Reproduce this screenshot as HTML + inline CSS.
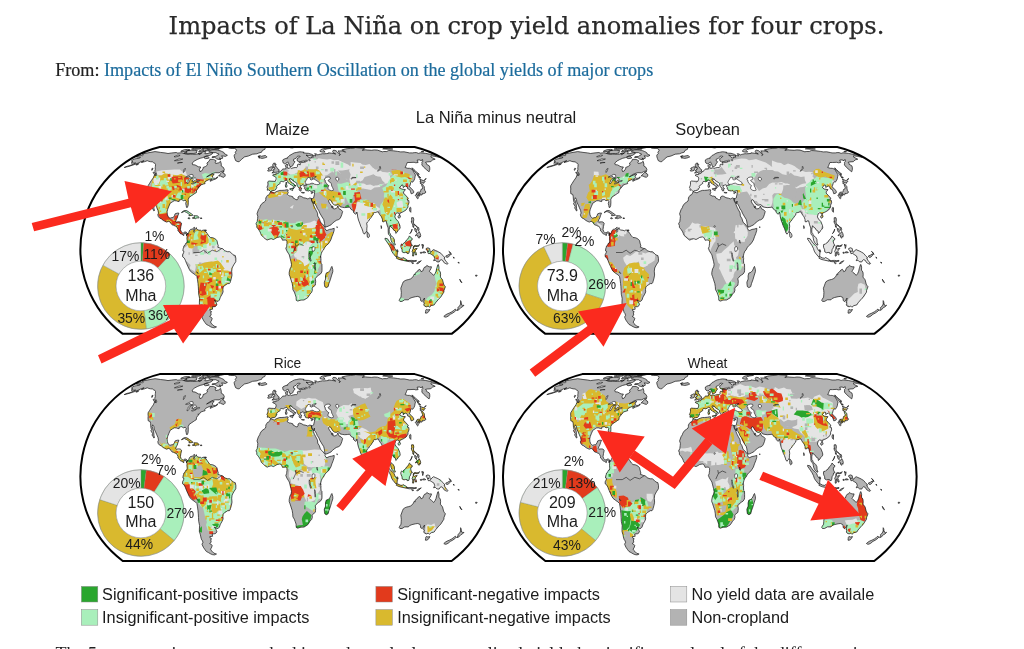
<!DOCTYPE html>
<html lang="en"><head><meta charset="utf-8"><title>Impacts of La Niña on crop yield anomalies for four crops.</title>
<style>html,body{margin:0;padding:0;background:#fff}
body{width:1024px;height:649px;overflow:hidden;position:relative;font-family:"Liberation Serif",serif;color:#222}
#ttl{position:absolute;left:168.6px;top:5.8px;-webkit-text-stroke:0.25px currentColor;font-family:"DejaVu Serif","Liberation Serif",serif;font-size:24.15px;line-height:40px;white-space:nowrap;color:#2a2a2a}
#from{position:absolute;left:55.2px;top:59.0px;font-size:18.13px;-webkit-text-stroke:0.2px currentColor;line-height:22px;white-space:nowrap;color:#222}
#from a{color:#1b6b9c;text-decoration:none}
#cap{position:absolute;left:55.5px;top:642.6px;font-size:18px;line-height:22px;white-space:nowrap;color:#222}
svg{position:absolute;left:0;top:0;display:block}
svg text{font-family:"Liberation Sans",sans-serif}</style></head><body>
<h1 id="ttl" style="margin:0;font-weight:normal">Impacts of La Niña on crop yield anomalies for four crops.</h1>
<div id="from">From: <a href="#">Impacts of El Niño Southern Oscillation on the global yields of major crops</a></div>
<svg width="1024" height="649" viewBox="0 0 1024 649"><defs><path id="land" d="M136.2,156.3L141.2,155.5L142.7,155.7L143.3,155.1L143.2,154.5L142.1,154.0L147.0,153.0L155.0,151.6L158.0,152.0L160.4,152.4L165.0,152.9L168.0,153.5L171.3,153.0L176.3,152.5L177.7,153.1L181.4,152.8L185.2,153.5L188.1,154.3L190.2,154.0L192.3,154.2L195.0,154.4L198.6,153.8L199.0,154.8L201.7,153.0L202.7,151.7L205.1,151.1L205.6,152.2L204.9,153.0L204.9,153.7L207.1,153.6L210.1,152.8L212.9,152.8L212.3,153.8L209.6,155.5L207.2,155.8L204.7,156.6L202.9,157.6L200.1,158.3L197.2,159.5L194.6,160.9L192.2,163.0L192.6,164.7L195.0,164.9L197.0,166.0L198.4,166.8L200.8,167.0L199.4,169.5L199.9,171.5L201.5,171.1L203.0,168.9L203.1,167.5L205.7,166.4L207.5,164.9L206.9,163.0L209.1,161.2L209.9,159.3L213.5,159.4L216.1,160.7L215.2,162.8L215.7,163.5L218.7,162.8L220.6,161.3L221.3,164.1L221.2,166.0L223.4,167.4L224.3,169.5L224.1,170.6L221.1,171.6L219.1,172.8L215.3,172.7L211.9,173.6L208.7,175.5L206.6,176.9L209.1,175.8L212.7,174.1L214.2,174.5L212.5,175.8L212.6,177.4L213.6,178.2L215.5,178.4L217.6,176.8L217.3,178.0L215.2,179.2L213.0,179.9L210.2,181.3L210.2,180.1L212.3,178.9L209.6,179.3L207.8,180.2L205.7,181.2L204.8,182.4L205.1,183.6L203.3,184.1L200.6,185.0L199.9,186.4L198.6,187.5L198.3,186.7L198.2,188.2L196.6,190.2L196.3,192.6L194.6,193.6L193.2,194.6L191.2,195.9L189.2,197.3L188.2,199.5L188.3,202.5L188.1,205.5L187.4,207.4L186.5,207.4L186.2,205.6L185.7,203.5L186.2,201.4L185.2,200.1L183.5,200.7L181.8,199.6L180.4,199.8L179.3,199.9L179.1,201.6L177.8,201.4L176.3,200.8L174.2,200.7L172.6,201.7L170.2,203.2L168.9,206.2L167.7,209.2L167.1,211.8L167.3,214.2L168.0,216.5L169.2,217.6L170.0,218.2L172.0,217.6L173.1,217.7L174.4,215.7L175.1,213.8L177.3,213.1L178.9,213.1L177.9,215.7L177.2,218.0L176.4,219.3L175.6,221.6L176.1,222.1L178.7,221.8L180.3,222.0L181.6,223.2L180.9,226.4L180.4,229.6L181.2,231.6L182.3,232.7L183.4,232.9L184.9,231.9L186.1,232.1L187.3,233.2L186.6,235.6L186.2,233.9L184.9,232.9L183.9,234.0L183.8,235.5L182.8,235.1L182.0,234.0L180.9,233.9L180.1,233.4L178.9,231.5L177.9,230.8L178.0,229.2L176.9,227.2L176.3,226.2L175.3,226.1L173.7,225.3L172.0,224.8L171.2,223.8L169.8,221.8L168.5,221.3L166.7,222.1L164.6,221.2L163.2,220.4L161.3,218.8L159.5,218.0L158.2,216.3L157.8,214.6L158.5,213.1L158.0,210.5L156.8,207.7L156.0,205.8L155.2,204.0L154.2,202.0L153.9,199.5L152.7,197.7L152.1,199.5L152.9,201.7L153.5,204.0L153.9,206.5L154.0,208.8L154.5,210.5L153.8,210.9L153.2,209.7L152.1,208.0L152.6,206.2L151.6,205.0L150.9,203.5L151.6,202.5L150.9,200.5L150.7,198.0L150.6,196.4L150.1,194.4L148.2,193.7L148.0,190.7L148.2,189.0L148.0,187.0L148.2,185.5L149.6,183.3L151.3,180.6L153.3,177.8L154.5,175.0L156.3,175.5L156.7,174.3L156.0,172.7L154.7,171.2L155.3,169.5L155.2,167.7L155.4,166.3L155.5,164.4L154.9,163.3L153.7,162.8L152.6,161.9L150.4,161.7L148.7,161.3L147.3,160.7L144.6,161.7L141.4,162.5L144.1,160.7L141.0,161.7L138.4,163.0L134.9,164.4L131.0,165.7L127.3,166.8L124.2,167.5L127.0,166.3L129.6,165.7L133.4,164.1L135.7,163.0L133.8,163.1L131.1,163.1L132.9,161.7L131.4,161.2L132.0,160.2L134.3,159.0L136.4,158.6L139.2,158.2L140.5,157.3L138.6,157.2L136.3,157.1ZM227.5,147.2L232.5,146.4L238.2,145.7L247.1,145.3L257.6,144.9L264.0,145.1L268.1,145.7L272.2,145.7L267.6,146.3L266.3,147.3L264.9,148.4L264.8,149.4L262.4,150.4L261.6,152.2L258.8,153.0L256.9,153.8L252.6,154.2L248.4,156.0L244.5,156.9L241.7,159.2L239.2,161.7L237.9,161.7L235.7,160.7L234.9,158.7L234.3,156.9L234.2,155.1L235.8,153.4L235.2,152.2L236.5,150.7L235.9,149.0L234.4,148.4L230.7,148.4L228.9,148.1L228.3,147.6ZM187.3,233.2L187.9,234.3L188.6,232.7L189.7,230.2L190.6,229.4L192.3,229.1L193.9,227.6L194.6,227.3L194.6,228.6L193.8,229.6L194.1,230.0L195.8,228.9L196.4,227.6L196.6,228.8L197.9,229.9L199.4,230.2L200.5,230.2L201.6,231.0L202.8,230.2L205.1,230.0L204.5,231.1L206.1,231.9L207.2,233.5L208.8,235.9L210.4,237.5L212.7,237.7L214.4,238.4L216.1,239.6L217.0,240.8L217.7,244.0L218.3,245.9L217.7,247.2L220.0,248.0L220.6,248.3L222.9,248.8L224.6,250.7L227.5,251.7L229.8,251.7L231.6,253.2L233.3,254.9L235.3,255.6L235.9,258.6L235.8,261.7L234.2,264.1L233.1,266.0L232.1,268.0L231.7,271.2L232.0,275.1L231.4,278.2L230.5,281.3L230.4,282.1L229.4,283.6L227.7,283.6L226.2,284.6L224.6,285.5L223.2,287.1L222.9,289.7L223.1,291.9L222.1,294.2L220.8,296.4L220.3,297.4L219.4,300.0L218.2,301.3L216.8,301.3L214.3,300.0L215.9,302.1L216.4,303.3L216.9,304.1L216.4,305.6L215.2,306.6L212.1,306.9L212.6,309.2L209.8,309.5L210.3,311.1L211.7,311.8L210.7,312.4L211.2,315.1L209.6,316.4L211.6,317.6L212.2,318.6L211.4,320.8L210.5,322.0L211.2,323.3L212.2,324.2L212.5,324.6L214.0,326.1L216.5,326.9L215.6,327.4L214.4,327.8L212.3,327.5L210.5,326.7L208.5,325.5L206.4,324.4L205.0,322.6L203.3,320.1L202.2,317.6L201.9,317.0L202.9,315.7L202.6,313.8L201.7,312.8L201.1,311.1L200.8,309.8L200.4,307.7L199.4,304.5L199.4,302.1L199.6,298.5L198.7,294.2L198.5,290.4L198.3,286.7L198.0,283.6L197.5,279.8L196.9,276.4L195.3,274.8L192.9,273.2L190.4,271.2L189.3,269.4L187.9,266.4L186.5,263.3L185.4,260.4L184.3,258.1L182.7,256.9L182.5,254.8L183.6,252.7L184.0,251.4L182.9,250.9L183.1,248.8L183.7,247.2L183.9,245.9L185.0,245.3L185.3,244.3L186.0,243.0L186.8,243.0L187.2,241.1L186.9,238.4L187.1,236.6L186.6,235.6ZM270.4,191.8L271.0,191.7L273.4,192.6L274.5,192.8L276.0,191.8L278.2,190.9L279.8,190.4L281.9,190.4L284.6,190.2L287.0,189.7L288.3,190.0L287.7,191.0L287.8,192.1L288.3,192.7L287.4,194.0L287.3,194.7L288.5,195.4L289.9,196.1L290.6,196.0L292.8,196.7L293.1,198.0L294.8,198.8L295.9,199.6L297.2,199.8L298.0,198.8L298.0,197.0L299.5,196.0L301.2,196.4L303.4,197.7L305.9,198.2L307.8,198.9L308.7,198.5L309.9,197.9L311.3,198.5L311.6,200.2L311.9,201.7L312.9,203.2L313.3,204.3L314.0,206.1L314.7,207.6L315.5,209.2L317.2,212.3L317.6,213.8L317.7,216.0L319.3,218.5L320.5,222.3L322.3,223.8L324.1,226.1L325.1,227.2L325.0,228.6L326.0,230.3L327.1,230.5L329.4,229.4L331.6,229.1L334.2,228.3L334.1,230.5L333.2,233.5L331.9,236.7L330.8,240.0L328.5,243.7L326.2,245.6L324.5,247.8L323.4,250.1L322.2,251.2L321.3,253.6L320.7,256.0L320.2,257.5L321.0,258.3L320.9,260.9L321.1,263.3L321.9,264.1L322.0,267.2L322.0,270.4L321.8,272.0L320.5,274.0L318.8,275.1L317.5,275.9L315.2,278.7L315.7,281.3L315.5,283.6L315.3,285.2L312.6,287.4L312.2,288.2L312.3,290.4L311.6,292.4L310.0,294.0L308.8,296.1L307.1,298.3L306.4,298.5L304.0,300.0L301.1,300.1L300.0,300.3L297.8,301.1L296.3,300.4L296.1,298.5L296.1,297.1L295.1,294.2L294.3,292.1L292.9,289.7L292.7,286.7L292.2,283.5L291.0,279.8L290.0,276.7L289.2,274.6L289.2,272.4L290.0,268.8L291.1,266.9L291.5,264.4L290.9,261.3L289.8,257.0L289.3,254.9L288.3,253.3L286.7,250.7L285.8,248.3L286.6,246.6L286.7,245.3L287.0,243.2L286.9,241.2L285.9,240.0L285.3,240.0L283.8,240.1L282.6,240.3L281.5,237.9L280.8,237.1L279.6,236.9L277.1,237.4L275.5,238.4L273.4,239.5L272.1,239.0L271.2,238.7L268.9,239.3L267.1,240.1L265.1,238.7L263.4,237.1L261.4,235.3L260.7,233.5L260.1,231.9L258.7,229.7L257.6,228.3L256.8,227.3L256.8,225.6L256.0,223.7L257.2,221.6L257.6,218.5L257.8,216.3L257.0,213.8L258.4,209.7L259.7,207.7L260.2,206.1L261.8,203.7L262.1,203.4L264.2,202.0L265.4,201.0L265.8,199.6L265.8,198.0L266.6,196.6L267.4,195.4L268.4,195.0L269.3,194.4L270.0,193.0ZM270.7,191.6L270.0,190.9L268.9,189.9L267.3,190.2L267.5,188.2L266.9,187.6L267.6,185.7L267.9,184.4L267.9,182.6L267.5,182.0L268.9,181.0L271.1,181.2L273.2,181.3L275.2,181.4L275.9,179.7L276.1,178.6L276.0,177.8L275.1,176.5L273.1,175.8L272.6,175.0L273.9,174.5L275.8,174.6L275.9,173.4L276.3,173.8L277.5,173.6L279.0,172.8L279.1,171.9L280.6,171.3L281.4,170.6L282.2,169.5L282.9,169.0L284.4,168.9L285.8,168.8L286.0,167.3L285.6,166.6L285.4,165.5L285.9,164.8L287.7,164.2L287.6,165.5L288.0,165.7L287.2,166.6L287.0,167.4L288.0,167.9L288.1,168.3L289.3,168.1L290.5,167.7L291.3,168.4L293.0,167.9L295.2,167.5L296.5,167.7L297.5,166.4L297.4,165.1L297.8,164.3L298.7,164.2L300.2,164.9L300.3,163.4L299.4,162.6L300.5,162.3L303.4,162.3L305.3,161.8L303.9,161.0L302.4,161.2L300.6,161.5L298.9,161.9L297.5,161.1L297.2,160.2L297.0,158.7L299.6,157.1L300.2,156.4L299.1,156.1L297.4,156.3L296.9,157.3L296.1,158.1L294.6,158.9L293.6,159.3L293.6,161.0L295.1,161.8L294.5,162.5L293.3,164.1L293.1,165.3L292.4,165.8L291.2,166.5L290.0,166.7L289.7,165.9L289.0,164.2L288.3,162.8L287.8,161.8L286.9,162.8L285.4,163.7L284.6,163.8L283.2,162.9L282.7,161.3L282.8,159.9L283.9,159.2L285.9,158.4L287.5,158.3L287.2,157.6L288.9,156.4L289.7,155.3L290.9,154.8L292.5,153.8L294.5,152.8L296.8,152.4L298.1,152.1L299.8,151.8L301.5,151.9L304.1,152.3L303.3,152.8L305.9,153.2L308.4,153.3L312.0,154.4L313.3,155.3L311.6,155.9L308.2,155.6L306.0,155.1L308.0,156.4L308.5,157.3L310.1,157.9L311.4,157.9L310.9,157.0L313.3,157.2L312.6,156.1L314.1,155.5L315.9,156.0L315.4,154.7L314.6,153.7L316.8,154.0L317.7,155.1L318.7,154.5L320.2,154.2L322.4,153.7L324.1,153.8L326.4,153.6L328.4,153.4L328.4,152.8L331.5,153.2L333.8,153.6L335.7,154.0L333.1,152.6L332.6,151.5L333.0,150.5L334.0,150.2L336.0,150.7L337.2,151.8L338.6,153.4L339.9,154.7L339.2,155.5L340.3,154.7L339.4,153.4L338.9,151.8L338.0,150.9L339.6,150.9L341.2,150.9L342.6,151.1L345.6,152.2L344.5,151.1L341.8,150.0L345.3,149.0L347.0,148.7L350.3,148.4L353.6,148.1L355.5,147.5L358.2,147.8L362.4,148.1L364.7,148.7L363.7,149.7L362.2,150.2L365.4,149.8L367.1,150.0L371.6,150.3L374.3,149.9L377.4,150.1L382.3,151.8L383.6,151.5L386.8,151.5L388.2,150.7L389.0,150.5L393.4,150.8L397.7,151.4L400.7,151.9L404.1,151.8L408.0,152.6L409.4,152.9L412.7,152.9L414.5,152.6L416.5,152.6L418.5,153.4L420.4,152.8L425.8,153.4L432.4,154.7L437.0,155.5L438.8,155.9L439.1,156.4L439.4,157.3L434.8,156.4L431.0,155.7L431.0,157.1L435.2,159.2L432.7,159.9L431.4,160.9L430.7,161.7L427.4,161.9L425.5,162.3L426.4,163.3L426.3,164.1L429.2,165.8L429.7,167.2L429.8,169.2L429.5,170.6L429.1,171.8L426.8,170.0L423.7,167.2L421.8,164.9L422.0,163.8L421.9,162.3L422.9,161.2L422.3,159.4L421.4,160.7L419.4,159.9L417.1,160.1L418.1,162.5L415.8,162.8L414.1,162.3L410.0,162.5L407.3,162.5L406.5,164.4L406.0,165.8L405.1,167.5L407.7,168.3L409.6,168.3L412.1,169.2L412.9,170.6L413.9,172.4L415.5,174.9L415.0,176.8L414.7,178.7L414.1,180.2L412.7,182.2L411.4,181.7L410.7,182.6L410.4,184.0L409.9,185.7L409.4,186.7L411.2,188.3L412.9,190.2L413.8,191.8L413.6,192.8L412.5,193.4L411.2,193.8L410.5,191.6L409.7,189.6L407.7,188.8L407.2,187.0L405.8,186.0L404.2,186.7L403.2,187.6L403.0,185.3L401.8,184.9L400.9,186.3L399.7,187.2L401.3,189.0L403.2,189.3L405.4,189.6L404.4,191.0L403.9,191.6L403.4,193.0L405.4,195.1L407.7,197.6L408.3,198.9L407.0,199.8L408.8,200.5L409.0,202.8L408.0,205.2L408.0,207.0L407.2,208.3L406.0,210.0L403.3,211.7L402.0,212.3L400.0,213.2L399.5,214.8L398.6,213.2L397.1,212.8L395.6,213.8L394.8,216.9L395.9,219.0L398.2,221.5L399.9,225.6L400.2,228.0L398.9,229.7L397.9,230.7L397.4,231.9L395.8,233.4L395.5,231.1L393.8,230.2L392.5,228.0L390.7,226.9L390.0,225.7L389.6,227.2L389.2,229.6L389.2,232.3L390.1,233.5L390.8,235.6L392.2,236.4L393.2,237.5L394.3,239.5L394.5,242.7L395.4,244.9L394.6,245.1L393.0,243.7L392.0,242.4L391.1,240.4L390.7,238.4L390.4,236.7L389.8,235.6L388.4,234.3L388.2,231.1L388.2,228.0L387.0,224.8L386.1,220.9L384.5,220.9L383.7,222.0L382.5,221.6L382.4,219.3L381.5,216.9L380.1,215.1L379.0,213.4L378.3,211.8L376.9,212.0L375.3,212.6L374.2,212.6L373.2,213.4L373.2,214.9L372.2,215.7L371.3,217.3L369.8,219.0L368.7,220.9L367.5,222.0L366.7,223.2L367.1,226.2L366.8,228.8L366.8,230.7L366.0,232.3L365.1,233.1L364.4,234.2L363.2,232.7L362.8,231.1L361.8,228.3L360.8,226.4L359.7,223.2L358.5,220.1L357.7,216.9L357.3,213.8L356.8,212.0L356.5,213.5L355.4,214.2L353.1,212.0L353.9,210.8L352.1,210.0L350.9,209.2L350.2,208.0L349.5,207.1L347.4,207.4L344.6,207.6L342.4,207.3L340.1,206.8L338.8,205.0L338.0,204.6L336.1,205.3L334.4,205.0L332.6,203.5L331.7,201.9L330.6,200.1L329.5,199.6L328.5,201.0L329.5,203.2L331.1,205.2L331.7,207.0L332.3,208.0L332.1,206.2L332.7,206.1L333.1,207.4L332.9,208.5L334.3,208.9L336.3,208.5L337.2,207.3L337.9,205.9L338.5,207.7L339.0,208.8L341.1,209.8L342.6,211.5L341.8,214.6L340.9,216.9L340.1,218.5L338.2,219.8L336.8,220.1L334.9,221.3L332.5,223.2L331.1,224.8L329.2,225.7L327.0,226.7L325.3,226.9L324.9,225.9L324.5,223.5L324.1,221.0L323.6,219.3L322.0,216.9L319.8,213.1L318.9,210.8L317.3,208.5L316.4,206.2L315.1,204.0L314.3,203.2L314.4,201.0L313.8,203.7L311.7,200.4L311.4,198.5L312.9,198.6L313.6,198.0L314.0,196.1L314.4,194.6L314.6,192.3L314.8,190.7L313.6,190.7L312.6,191.1L311.0,191.4L309.3,190.4L308.9,191.1L307.2,190.7L306.2,190.6L305.4,190.2L305.2,188.8L304.3,188.3L304.7,187.4L304.0,186.7L304.0,186.0L304.0,185.6L303.7,185.0L303.2,184.9L302.1,184.8L301.5,185.6L300.6,185.3L300.3,186.3L300.9,187.1L300.8,187.6L301.9,188.8L301.0,188.9L301.0,189.7L301.1,190.9L300.3,191.0L299.5,190.4L299.1,189.2L299.4,188.3L298.7,187.9L298.4,187.4L297.8,186.5L297.3,185.7L296.9,184.9L297.0,183.6L295.9,182.6L293.8,181.3L292.5,180.4L291.7,179.1L291.0,179.6L290.8,178.6L289.6,178.8L289.5,180.0L290.8,181.2L291.5,182.8L293.4,183.4L293.4,184.1L294.4,184.6L296.0,185.9L295.8,186.3L294.4,185.5L294.1,186.5L294.6,187.4L294.0,188.2L293.2,188.9L293.3,187.9L293.4,186.7L292.7,186.0L292.2,185.2L291.5,184.9L290.3,184.4L289.5,183.6L288.2,182.8L287.7,182.0L287.5,181.3L287.0,180.5L286.1,180.1L285.2,180.8L284.5,181.0L283.3,181.8L282.5,181.6L281.6,181.4L280.6,181.6L280.0,182.6L280.2,183.4L279.2,184.1L277.7,185.0L276.5,186.7L277.0,187.6L276.2,188.3L276.0,189.3L274.7,190.3L273.0,190.6L272.0,190.6L271.0,191.4ZM438.3,264.4L439.0,267.2L438.9,270.1L440.3,272.0L440.6,274.3L440.4,277.1L441.0,277.9L442.5,279.8L442.8,280.9L443.6,284.1L444.4,285.5L445.4,286.7L444.0,290.3L443.9,292.1L442.1,294.9L440.5,297.4L439.3,298.4L438.1,299.8L435.5,302.8L434.2,304.9L431.3,305.6L429.3,307.2L428.4,306.2L428.1,306.1L426.5,306.8L424.7,306.2L423.7,304.9L424.4,302.8L423.4,302.3L423.9,301.1L424.5,298.0L423.3,300.0L422.1,301.7L421.3,301.0L420.7,300.7L420.4,298.5L420.1,297.4L417.8,296.4L415.5,296.7L412.0,297.5L409.5,298.5L408.4,299.8L404.7,299.8L402.0,301.4L399.9,301.4L399.2,300.6L399.5,299.4L401.0,297.1L401.2,294.2L401.3,292.4L401.1,290.4L400.8,288.2L401.7,285.9L402.5,283.6L403.3,281.8L405.1,280.6L406.9,279.9L408.8,279.5L410.5,278.9L412.4,277.5L413.5,275.9L414.1,274.3L415.2,274.8L415.1,273.2L416.8,272.0L418.2,270.1L419.8,269.3L420.9,270.9L421.1,271.7L422.8,270.9L423.5,268.8L424.6,267.1L426.0,266.8L426.9,265.3L427.8,266.1L429.4,266.8L431.5,266.8L430.9,268.8L429.9,270.4L429.3,271.2L430.3,272.4L431.3,273.1L432.7,274.3L433.6,275.4L435.1,273.5L436.1,271.2L436.6,268.8L437.1,267.2L437.8,264.8ZM426.3,309.4L427.9,309.9L429.9,309.5L429.0,311.1L427.7,312.7L426.2,313.2L425.4,313.1L425.6,311.5L425.7,310.4ZM460.6,300.6L461.0,301.4L461.3,302.4L460.9,304.0L461.7,303.8L461.6,304.9L462.8,305.5L464.0,305.2L462.3,307.0L461.0,307.4L458.9,309.8L457.1,310.6L456.9,310.2L458.1,308.7L457.7,307.7L458.9,306.8L460.2,304.9L460.6,303.5L460.5,301.7ZM455.4,309.1L455.8,309.8L456.4,310.0L455.4,311.1L452.7,313.1L450.3,314.3L448.1,316.2L446.2,317.1L445.0,317.1L443.8,316.4L445.3,315.1L447.1,314.0L449.3,313.1L451.8,311.8L453.8,310.4L454.7,309.4ZM331.9,266.4L332.8,269.6L332.8,271.7L331.7,275.1L330.3,279.8L328.9,283.6L328.1,286.7L326.3,287.6L324.8,286.7L324.4,284.2L324.3,282.1L325.6,279.0L325.5,275.9L326.2,273.1L328.3,272.3L329.7,270.9L330.7,268.8L331.3,267.2ZM367.0,231.6L368.6,233.4L369.4,235.1L369.2,236.9L368.1,237.7L367.4,237.1L367.1,235.1L367.1,233.5ZM181.4,212.5L183.8,210.8L184.6,210.5L186.6,210.6L188.1,211.5L189.6,212.6L191.4,213.8L192.9,215.1L191.9,215.5L188.9,215.7L189.6,214.5L188.3,213.8L187.3,212.9L186.3,212.3L185.0,211.8L184.3,211.4L183.0,212.0L181.8,212.6ZM192.3,217.9L193.9,217.6L194.6,217.6L194.3,216.5L193.7,215.7L195.6,215.7L197.5,215.9L198.3,216.5L199.1,217.6L198.3,218.0L197.2,217.9L196.1,218.2L195.2,219.0L194.4,218.2L192.9,218.3ZM187.9,218.0L189.4,217.7L190.0,218.5L189.2,218.8L188.1,218.5ZM200.4,217.9L202.0,218.0L201.8,218.5L200.4,218.5ZM218.6,176.0L220.3,176.0L222.0,176.9L223.9,177.3L225.1,176.1L225.2,174.9L224.7,173.9L223.3,173.3L223.0,172.8L224.0,171.2L222.3,172.1L221.0,173.5L219.5,174.8ZM257.9,156.4L259.9,155.6L261.3,156.3L263.6,155.8L265.4,155.5L266.4,156.4L267.1,156.9L265.9,157.5L264.3,158.0L262.0,158.4L260.4,158.0L258.9,158.0L259.7,157.5L258.2,157.0L259.8,156.6ZM271.9,172.9L274.1,172.8L275.6,172.3L277.5,172.1L278.9,171.6L278.5,171.2L279.3,169.9L278.2,169.5L277.8,168.8L277.3,167.8L276.4,167.2L276.0,166.3L275.1,166.0L275.6,165.5L276.2,164.4L274.4,164.3L275.4,163.2L273.6,163.2L272.8,164.4L272.7,165.7L272.7,166.7L273.4,166.6L273.1,167.5L274.5,167.3L274.7,168.3L274.9,169.0L273.4,169.1L273.6,169.7L272.6,170.7L274.2,171.2L273.5,171.6ZM267.9,171.1L269.6,171.0L271.5,170.4L271.9,169.1L272.6,167.8L272.2,166.9L271.0,166.8L269.8,167.4L268.3,168.1L268.2,169.0L269.1,169.3L268.6,169.8L267.6,170.5ZM320.0,151.5L320.0,150.7L320.8,149.7L322.5,148.9L325.7,148.3L329.7,147.8L330.9,148.3L327.0,148.9L324.6,149.6L323.7,150.5L325.1,152.1L322.3,152.1ZM416.3,194.4L417.3,194.0L418.8,193.8L420.3,193.6L421.0,194.7L421.8,195.1L422.5,194.0L422.4,193.4L423.7,193.6L424.3,193.4L425.2,193.1L425.9,192.0L424.8,190.4L424.4,188.8L424.3,186.7L423.2,185.3L422.4,184.1L421.4,184.4L422.0,186.0L422.6,187.6L422.4,188.8L420.9,189.5L420.7,190.4L420.5,191.6L420.2,192.1L418.6,192.1L417.2,192.4L416.4,193.7ZM416.3,194.6L417.4,195.0L418.0,196.1L418.3,198.2L417.7,198.8L417.0,198.3L416.4,196.7L415.6,195.9L415.2,195.3L415.9,194.8ZM418.1,194.6L419.4,194.0L420.3,194.4L420.2,195.4L419.4,195.1L419.3,196.3L418.3,195.4ZM421.0,184.0L421.3,182.9L421.9,182.5L423.9,183.3L424.2,182.0L425.3,181.4L424.1,180.2L423.3,180.6L421.2,179.7L419.6,178.7L420.3,180.0L420.9,181.7L419.9,181.6L420.6,182.9L420.3,183.3ZM412.2,167.8L413.9,169.5L415.6,171.2L419.3,174.3L417.4,173.9L418.8,176.1L420.1,177.0L420.7,178.0L419.5,177.3L419.3,178.0L418.0,176.1L416.9,174.3L414.8,171.8L413.2,170.0L412.2,168.9ZM410.3,207.3L410.9,207.7L410.9,210.0L410.8,212.3L409.8,211.1L409.4,209.5L409.8,207.7ZM398.0,216.5L398.8,215.4L399.9,215.2L400.5,216.0L400.1,217.3L399.3,218.2L398.2,217.6ZM411.6,217.7L413.4,217.7L413.8,219.8L413.4,222.0L413.9,224.3L415.5,225.1L416.8,226.4L417.0,227.0L416.0,226.4L414.9,225.0L414.1,225.0L412.7,225.1L412.6,224.0L411.8,223.2L411.3,221.2L411.9,221.6L411.6,219.3ZM415.4,235.9L416.9,235.1L417.9,235.5L417.8,237.1L419.2,238.2L419.6,236.3L420.3,237.1L420.7,235.5L420.2,233.5L419.1,231.5L418.6,232.7L417.2,233.5L415.9,234.7ZM417.2,227.2L418.6,227.5L419.1,229.6L418.6,230.8L418.0,230.3L417.6,228.8ZM414.6,228.3L416.0,228.8L416.7,230.3L416.5,232.6L415.7,231.8L414.9,230.3ZM409.8,233.7L411.1,231.9L412.1,229.1L411.8,230.7L410.6,232.9ZM412.6,225.7L413.7,225.9L413.8,227.5L413.2,227.3ZM401.5,244.0L402.4,244.5L403.6,243.2L405.4,242.0L406.5,240.0L407.6,239.2L408.7,237.5L409.4,235.9L410.6,237.1L411.1,237.9L412.4,238.7L411.8,240.1L410.9,240.4L410.7,241.9L411.2,243.7L412.4,245.6L411.0,245.9L410.6,248.0L409.5,249.6L409.2,252.0L408.8,253.3L407.2,253.6L407.1,252.5L405.4,252.4L404.0,252.8L402.2,251.9L402.0,249.6L401.1,247.7L400.8,245.9L401.2,244.3ZM385.0,238.2L387.5,238.8L389.0,241.1L391.0,243.7L392.3,244.5L394.0,246.4L394.8,248.5L395.7,250.1L397.4,252.0L397.2,254.4L397.0,256.5L395.6,256.5L394.4,254.9L393.0,253.3L391.7,251.2L390.9,248.6L389.4,245.6L387.8,243.2L386.4,241.2L385.0,239.2ZM396.2,258.1L397.2,256.7L398.1,257.0L400.0,258.0L402.2,258.3L402.9,257.5L404.8,258.5L406.7,259.6L406.6,261.2L404.4,260.7L402.1,260.2L399.9,259.7L397.7,258.9ZM406.8,260.4L409.0,260.5L411.9,260.4L414.1,260.7L416.4,260.4L416.3,261.3L412.9,261.5L409.5,261.7L407.2,261.3ZM416.7,263.7L418.0,262.1L421.3,260.7L420.3,261.7L418.5,263.3L417.3,263.7ZM411.7,262.5L413.7,263.1L412.9,263.7L411.8,263.1ZM412.6,256.0L412.8,252.8L412.1,251.7L412.8,249.6L413.3,248.3L413.3,246.9L413.9,245.8L415.2,245.4L417.0,245.8L418.7,245.3L419.5,244.5L418.8,246.2L417.3,246.6L415.2,246.4L413.9,246.6L413.6,248.5L414.6,249.3L415.5,248.6L417.2,248.5L416.4,249.6L415.4,250.3L415.3,251.7L416.0,252.5L416.3,253.6L416.5,254.9L415.4,254.9L415.1,253.8L414.6,252.0L413.8,251.9L413.8,254.4L413.6,256.0L413.0,256.2ZM422.1,244.0L422.7,245.6L423.5,244.8L423.3,246.7L422.7,248.5L422.4,246.4L422.0,245.6ZM422.6,252.0L424.4,251.7L425.8,252.5L424.3,252.8L422.6,252.7ZM420.3,252.4L421.5,252.2L421.7,253.2L420.5,253.3ZM426.1,248.5L427.9,247.8L429.6,248.5L430.1,251.2L430.6,252.5L431.8,250.9L433.6,249.6L435.3,250.4L437.2,251.2L438.7,252.0L440.9,253.3L442.9,255.6L444.2,256.9L445.0,258.0L444.1,258.1L445.1,260.1L446.4,261.7L447.9,263.6L447.4,264.2L445.8,263.7L443.9,262.5L442.7,260.4L441.1,259.6L439.9,260.5L439.1,262.0L436.9,261.8L435.3,260.2L433.6,260.7L434.7,258.5L433.9,256.0L431.7,254.6L430.0,253.5L428.3,253.6L428.1,252.5L427.2,251.7L429.0,251.2L427.6,250.9L426.1,249.6ZM445.7,256.0L447.7,255.2L449.5,254.0L450.3,254.0L450.0,255.2L448.2,257.2L446.4,257.2ZM448.8,251.4L450.7,252.8L451.2,254.6L450.8,253.6L449.6,252.0ZM453.3,256.9L454.4,258.1L453.8,258.3ZM458.0,262.1L459.4,262.9L458.4,263.1ZM459.7,279.2L461.6,282.1L462.0,282.7L460.6,281.8ZM475.7,275.1L477.2,275.3L476.7,276.2L475.6,276.1ZM153.3,172.1L155.4,173.0L155.8,174.9L154.6,174.9L154.1,173.9L153.2,172.8ZM152.2,168.2L153.1,168.5L151.9,170.4L151.7,169.5ZM136.3,164.4L139.0,163.6L138.1,164.5L136.0,165.1ZM220.3,159.7L218.3,159.4L216.6,158.8L215.8,158.1L214.7,157.4L212.0,157.5L212.3,156.7L215.9,156.4L217.1,155.5L218.5,154.9L219.0,154.0L217.1,153.4L215.9,152.6L213.0,152.7L211.2,152.2L208.8,151.8L209.6,150.7L212.0,149.9L214.4,149.8L217.2,150.0L218.9,150.5L220.1,150.7L221.7,151.4L223.2,152.1L224.2,152.8L224.3,153.6L225.9,154.5L227.4,155.3L225.3,156.4L223.8,156.1L221.5,155.8L222.6,157.1L222.6,158.3L220.6,158.7L219.3,158.1L221.0,159.4ZM204.0,157.8L205.5,158.6L208.3,158.3L209.3,157.8L208.5,157.1L207.3,156.1L205.7,156.4L204.3,157.1ZM183.7,153.4L185.4,153.9L190.0,153.6L193.2,153.6L196.4,153.0L196.5,151.8L197.3,150.6L194.2,150.4L191.1,150.2L187.3,150.7L185.8,151.8L187.1,152.2L184.5,152.6ZM180.8,151.1L181.1,151.8L184.4,151.5L189.8,150.2L189.6,149.6L187.7,149.4L184.4,149.7ZM198.7,151.5L201.6,151.6L203.7,150.7L204.0,149.8L201.4,150.0L199.4,150.7ZM204.4,151.1L207.3,150.9L209.8,150.0L208.6,149.6L206.0,150.0ZM197.9,153.4L200.4,153.7L201.7,153.0L200.0,152.8ZM191.5,149.0L194.6,149.4L199.7,149.0L201.0,148.4L198.7,148.1L194.7,148.3ZM201.5,148.9L205.8,149.0L207.9,148.1L204.7,148.1ZM207.3,149.0L210.0,149.2L215.1,149.4L219.1,149.2L219.7,148.6L216.9,148.3L213.8,148.0L211.2,148.1L208.8,148.3ZM214.9,148.1L220.5,148.3L222.8,147.8L225.7,147.0L229.5,146.5L235.0,145.9L239.0,145.3L234.3,145.1L227.5,145.1L219.7,145.5L217.1,145.9L220.0,146.1L219.1,146.8L215.8,147.3ZM211.4,147.0L215.4,147.1L218.2,146.5L217.8,145.9L214.5,146.1ZM289.7,188.8L290.8,188.5L293.1,188.3L292.6,189.7L292.6,190.6L291.4,190.0L289.8,189.3ZM285.3,184.8L286.4,184.2L287.0,185.3L286.8,187.1L286.1,187.5L285.5,187.1L285.5,186.0ZM285.8,182.8L286.6,182.0L286.7,183.3L286.4,184.1L285.8,183.4ZM301.5,192.3L302.6,192.4L304.5,192.7L303.2,193.1L301.6,192.7ZM310.9,193.0L311.6,192.4L313.3,192.0L312.7,193.0L311.7,193.6ZM287.9,146.5L290.1,147.7L292.3,148.0L295.1,147.2L299.0,146.2L294.1,146.1L290.0,146.3ZM382.7,148.9L387.8,149.2L392.8,149.0L388.6,148.6L383.8,148.4ZM421.2,151.8L423.4,151.9L423.9,151.6L421.4,151.4ZM347.5,146.8L351.9,147.2L355.2,147.0L353.1,146.4L348.2,146.1ZM336.6,227.0L337.7,227.0L337.3,227.5ZM205.2,230.0L206.2,229.9L206.2,231.0L205.3,231.0ZM424.6,180.0L426.3,178.7L425.3,178.8ZM381.1,225.6L381.7,228.0L381.3,228.6ZM396.6,249.9L397.6,249.8L398.1,251.9L397.2,251.2ZM320.7,256.5L321.0,257.2L320.8,257.5Z"/><path id="lakes" d="M306.8,184.4L309.3,184.2L311.3,183.3L313.0,183.2L314.5,184.2L316.6,184.6L318.1,184.6L319.7,183.8L319.4,182.6L317.7,181.4L315.7,180.1L314.4,179.3L313.9,178.9L315.1,177.0L316.3,176.6L314.5,176.8L312.5,177.5L312.3,178.6L313.7,178.9L312.8,179.3L311.6,180.0L310.9,180.0L309.9,178.8L310.8,177.9L309.1,177.4L307.9,177.4L307.0,179.1L306.1,180.4L305.5,181.7L305.3,182.6L305.7,183.3L306.3,184.1ZM304.6,185.5L305.8,185.5L307.1,185.0L306.6,184.6L305.3,184.8ZM324.5,179.3L325.2,178.0L326.1,177.4L328.0,177.0L330.0,177.2L330.4,178.9L328.8,179.9L328.0,180.2L328.9,181.7L330.7,182.6L331.4,184.0L331.7,186.0L332.5,187.4L333.4,189.5L333.3,190.3L331.5,190.7L329.8,190.2L328.7,189.5L327.9,188.2L328.1,187.0L328.9,185.6L328.0,185.2L326.7,183.6L325.4,182.0L325.1,180.0L324.2,179.3ZM335.7,178.7L336.1,177.4L337.5,177.3L338.8,178.3L338.7,180.0L337.5,181.0L336.3,180.2ZM377.5,171.2L378.6,171.0L379.7,169.7L380.7,168.3L380.3,166.5L379.6,166.6L379.8,168.3L378.8,169.7L377.9,170.6ZM351.0,178.7L352.0,177.4L355.0,177.4L356.1,177.7L354.2,177.8L352.3,178.0L351.6,179.1ZM185.6,177.2L188.9,175.5L191.0,174.4L192.8,174.6L193.2,176.1L192.9,177.4L190.9,177.4L190.1,177.0L190.0,176.3L188.1,177.0L186.8,177.2ZM187.0,183.7L188.3,183.3L189.4,181.3L190.1,179.6L191.9,178.4L190.5,178.3L189.0,179.3L188.2,180.0L188.1,181.3L187.2,182.6ZM192.3,178.3L195.2,177.9L196.7,179.1L196.3,180.0L194.6,180.2L193.9,181.6L193.0,182.0L193.0,180.6L192.3,181.0L191.8,181.2L193.2,179.3L192.8,178.7ZM191.4,183.6L192.1,184.0L193.8,183.6L196.3,182.4L194.7,182.5L193.0,183.0L191.8,183.3ZM195.8,181.6L196.6,181.6L198.7,181.6L199.5,181.2L199.6,180.4L198.0,180.6L196.5,181.0ZM184.3,168.9L185.5,168.5L184.2,171.8L183.3,172.5L183.5,170.6ZM174.0,156.7L177.8,155.2L180.1,155.3L178.2,156.4L175.4,156.9ZM174.4,160.7L179.0,158.9L181.4,159.1L182.8,159.0L180.1,159.9L177.0,160.7ZM177.4,163.1L179.9,162.4L182.5,162.5L179.5,162.8ZM312.1,248.0L312.5,246.9L314.2,246.7L315.0,247.7L314.8,249.6L313.9,251.2L312.5,251.4L312.1,249.6ZM309.3,252.7L309.8,254.4L310.1,256.9L311.2,260.9L310.6,261.2L309.3,256.9L309.1,254.4ZM314.6,262.5L315.3,264.1L315.4,266.4L315.6,269.6L315.0,270.1L314.8,267.2L314.6,264.8ZM194.2,229.9L194.8,231.1L194.3,232.4L193.6,231.9L193.7,230.5ZM196.7,271.8L197.6,272.6L198.2,273.4L197.3,273.1ZM305.6,161.7L306.4,161.5L307.7,161.0L307.1,160.4L305.3,160.2L305.0,160.9ZM309.0,160.7L309.9,160.8L310.4,160.0L309.1,159.1L308.8,159.7ZM291.2,226.4L292.3,225.6L292.7,226.7L291.7,227.2ZM317.0,240.0L317.4,241.6L317.7,243.2L317.2,243.0L316.8,241.1Z"/><path id="frame" d="M159.75,147.0H414.65A103.35,105 0 0 1 451.65,333.85H122.75A103.35,105 0 0 1 159.75,147.0Z"/><clipPath id="fc"><use href="#frame"/></clipPath><clipPath id="lc"><use href="#land"/></clipPath></defs><g transform="translate(0,0)"><g clip-path="url(#fc)"><use href="#land" fill="#b3b3b3"/><g clip-path="url(#lc)"><path fill="#e4e4e4" d="M156.7,171.4L161.8,170.3L166.4,170.1L171.3,169.8L174.6,169.4L179.8,169.4L182.1,171.6L185.6,171.2L187.2,176.1L183.8,175.3L179.7,174.9L175.0,175.0L171.4,175.6L168.0,173.8L164.6,175.8L159.9,175.4L155.6,175.5Z"/><path fill="#d9b92e" d="M153.0,176.1L155.7,175.3L161.3,175.5L164.6,173.3L167.7,173.7L171.5,174.4L175.2,174.9L177.0,175.4L181.3,173.8L184.8,175.8L188.7,178.3L192.7,179.1L198.7,181.0L201.6,180.8L207.5,176.4L212.2,176.0L215.0,175.5L211.7,178.4L209.8,179.7L206.7,182.8L204.4,185.4L201.9,187.0L199.4,188.3L198.3,193.7L196.6,195.5L194.2,196.6L189.1,200.7L188.8,203.4L188.9,208.5L186.7,202.5L183.2,199.6L178.0,201.2L171.6,199.0L170.4,203.8L167.4,209.5L166.4,214.4L161.8,214.5L159.3,215.4L157.4,212.7L157.3,208.1L156.1,204.4L154.9,200.6L154.1,197.4L151.2,192.4L151.3,188.1L151.7,183.1L152.7,179.2Z"/><path fill="#e4e4e4" d="M153.7,178.1L160.3,177.5L160.0,181.1L158.1,184.8L154.6,185.2L153.3,180.9Z"/><path fill="#a9efbb" d="M160.6,180.3L163.4,180.3L166.7,180.0L168.7,185.4L164.4,185.6L161.8,186.7L159.2,184.7ZM158.3,200.0L162.0,201.4L165.0,197.9L166.5,202.5L166.4,204.6L165.4,207.8L166.3,212.2L160.0,213.7L159.2,209.9L157.6,207.7ZM177.6,193.2L181.6,192.4L181.4,199.3L175.6,197.6ZM201.8,174.6L205.0,173.1L209.3,173.8L214.9,171.5L217.0,175.6L213.6,179.0L207.1,178.3L203.4,178.4ZM188.9,175.2L192.1,175.6L195.3,179.0L190.8,179.3Z"/><path fill="#e23a1c" d="M170.8,176.4L172.2,176.4L178.6,176.3L182.1,176.1L182.8,179.4L180.0,182.6L177.1,182.9L172.8,183.6L170.2,178.9ZM183.9,177.3L188.8,177.5L188.6,181.3L184.6,184.5ZM171.6,186.1L176.7,187.2L176.6,184.8L180.6,186.3L182.4,190.0L178.8,190.5L175.6,188.8L172.9,190.6ZM182.0,188.5L186.1,187.4L189.5,187.8L192.9,187.5L194.6,193.9L190.1,192.2L188.1,193.2L184.4,192.3ZM196.5,178.8L203.8,179.8L201.6,185.1L202.0,188.7L200.0,191.5L194.7,190.8L195.7,187.3L197.0,184.4ZM158.1,214.2L162.8,214.0L167.5,213.0L170.1,218.6L173.9,220.4L174.6,215.8L179.7,215.0L179.3,219.8L181.5,224.0L183.3,227.9L181.3,231.6L183.9,235.6L182.3,235.9L179.5,233.9L177.9,229.4L175.1,226.8L172.9,224.6L169.4,222.6L166.4,223.3L164.5,220.8L160.8,219.6Z"/><path fill="#a9efbb" d="M181.0,210.6L185.4,210.3L188.7,210.9L192.0,211.1L195.3,211.0L199.2,210.9L198.6,214.4L199.6,220.4L195.7,220.1L192.9,219.2L187.2,219.9L184.9,220.3L180.8,218.7L180.5,215.3Z"/><path fill="#e4e4e4" d="M182.8,248.8L186.4,246.4L188.1,242.8L191.4,241.7L196.5,241.9L198.0,240.3L201.4,235.9L206.7,235.1L210.1,237.2L212.7,237.5L216.6,238.5L217.9,242.7L218.1,246.6L221.8,248.0L225.8,249.5L228.9,251.0L232.1,253.3L234.2,256.8L235.3,259.6L236.5,263.5L234.9,266.2L232.5,269.0L228.8,273.2L225.8,270.7L220.4,266.5L220.9,263.3L215.8,263.7L211.9,261.4L207.8,262.3L202.7,262.7L200.4,264.1L195.8,264.1L195.7,267.4L194.8,271.9L193.8,271.0L189.7,268.6L190.5,264.9L187.4,262.0L185.0,260.7L182.9,257.7L183.8,253.4Z"/><path fill="#d9b92e" d="M186.2,234.7L188.5,232.6L192.0,229.9L194.4,230.1L199.6,228.7L201.0,230.1L206.1,231.8L208.3,234.3L207.9,237.3L209.7,241.8L207.1,243.9L203.4,247.1L200.5,246.9L196.0,248.3L192.1,248.4L188.9,248.0L187.1,244.5L186.4,242.7L184.4,240.6ZM195.3,264.6L200.7,264.2L204.3,262.8L208.8,261.8L213.4,261.6L217.9,260.5L220.8,263.0L222.1,265.1L225.2,269.5L229.0,271.0L231.7,273.2L229.8,275.1L229.8,280.9L227.8,285.8L224.4,289.4L222.1,290.4L220.6,296.2L218.3,299.8L217.5,303.0L217.7,305.9L214.4,307.4L211.9,309.7L208.8,308.3L204.5,307.4L200.0,305.7L200.0,303.1L198.1,299.9L199.9,296.1L200.2,294.8L198.8,289.7L198.5,284.8L199.2,281.9L197.5,276.5L195.0,273.6L197.4,268.5ZM197.3,275.0L200.8,275.6L200.1,278.2L200.3,281.6L200.4,286.0L201.2,289.1L199.6,293.0L199.6,295.0L200.5,299.2L200.4,303.6L199.4,303.4L197.4,298.8L197.5,294.0L196.4,292.1L196.8,287.9L197.6,284.8L198.3,280.0L198.0,277.8Z"/><path fill="#b3b3b3" d="M194.2,246.2L198.7,246.3L199.8,252.4L192.6,254.3L192.4,249.6Z"/><path fill="#a9efbb" d="M194.9,231.7L198.7,230.7L197.8,235.5L198.7,239.3L193.4,240.3L193.8,236.1ZM221.5,277.7L226.4,275.2L230.5,275.6L229.8,279.0L230.8,281.8L226.3,283.1L222.8,285.3L221.4,282.1ZM206.3,269.7L210.6,268.6L212.4,267.7L214.1,273.5L209.1,275.4ZM198.0,266.2L202.5,265.7L204.1,269.0L199.6,273.0ZM217.4,292.7L220.6,292.3L220.1,296.7L219.7,301.0L215.7,300.0L216.6,295.7ZM209.4,235.7L212.7,237.1L217.4,239.1L217.1,243.4L215.1,245.7L209.6,245.0L208.4,241.7Z"/><path fill="#e23a1c" d="M187.2,234.0L189.2,233.3L189.6,239.2L187.9,239.2ZM201.1,233.4L203.4,235.6L206.9,234.8L205.8,239.0L206.0,242.2L200.4,244.3L201.1,240.6L200.4,237.7ZM191.4,242.2L198.0,243.5L195.5,244.8L191.2,244.5ZM200.6,282.4L207.0,283.3L205.1,290.4L206.9,294.3L200.7,296.3L198.8,291.9L199.3,288.7ZM207.3,297.5L210.8,295.2L213.2,294.2L215.3,297.6L215.7,301.4L217.4,303.2L215.5,307.4L212.9,309.3L209.6,307.0L207.7,304.7L207.3,300.2ZM207.8,278.8L212.2,279.8L212.3,281.9L207.7,283.9ZM210.2,285.0L213.8,285.7L214.3,288.1L211.7,288.4ZM196.8,275.4L200.2,275.6L197.9,279.6L197.1,278.1Z"/><path fill="#2aa62e" d="M227.2,276.8L229.8,278.9L231.3,280.6L226.4,282.2ZM209.3,272.2L211.4,273.1L212.6,274.8L209.2,274.9Z"/><path fill="#a9efbb" d="M256.3,219.4L259.9,219.7L262.6,220.0L267.0,219.0L269.5,221.3L272.5,219.6L275.9,220.7L279.3,220.4L281.8,220.6L284.9,221.0L288.9,225.0L292.1,223.5L297.5,222.9L299.4,221.8L302.0,224.8L302.1,228.2L301.6,229.4L298.2,233.9L295.6,236.4L292.5,234.5L289.3,233.0L286.3,235.9L281.2,238.7L278.9,239.0L274.4,241.2L271.9,240.2L266.7,238.0L264.3,239.1L263.0,235.5L258.6,231.0L257.1,228.8L256.1,224.5Z"/><path fill="#d9b92e" d="M263.7,230.1L266.6,228.3L271.3,223.1L276.6,222.7L279.8,224.3L282.3,223.5L286.2,220.8L287.7,227.6L288.9,230.7L287.5,231.7L284.7,236.3L282.2,238.7L277.5,238.5L272.9,239.6L270.5,240.7L268.9,237.5L265.1,234.3ZM284.9,224.3L289.3,226.5L291.4,227.6L295.3,227.4L300.0,229.6L303.8,229.2L308.5,228.7L312.5,229.2L316.1,230.1L315.5,234.3L315.6,237.9L316.0,241.3L311.3,241.2L305.7,241.7L303.0,244.3L297.7,246.2L297.2,248.6L293.3,253.2L289.8,250.9L287.5,246.9L286.0,241.8L286.2,239.7L287.7,234.6L286.3,232.3L286.8,226.3Z"/><path fill="#e4e4e4" d="M302.4,224.0L307.0,223.4L310.4,222.9L312.7,222.0L316.9,226.7L313.6,227.5L308.1,229.7L305.7,230.3ZM293.7,254.7L296.4,251.4L298.2,245.6L302.6,244.2L307.1,241.5L312.7,242.4L310.9,245.5L310.5,251.0L311.2,254.9L310.2,258.9L309.9,262.2L307.9,265.1L303.4,266.5L301.0,263.8L297.4,260.4L295.2,257.9Z"/><path fill="#a9efbb" d="M286.9,243.5L290.2,245.2L293.9,246.3L294.5,249.2L294.9,253.0L291.0,256.4L287.6,251.3L287.3,247.1ZM310.7,244.9L315.8,242.5L318.9,242.9L323.2,242.4L326.0,239.9L324.4,244.0L323.1,247.0L323.0,248.7L321.5,252.0L321.4,256.3L319.3,259.5L319.3,263.5L319.7,265.7L317.9,269.4L316.9,272.9L316.6,277.5L313.9,279.9L311.2,283.7L308.5,280.1L308.2,276.8L308.2,273.3L307.5,268.9L307.0,267.1L309.6,261.4L309.5,258.1L310.9,254.9L311.3,248.7L309.3,247.7Z"/><path fill="#d9b92e" d="M320.4,241.3L325.1,241.1L325.7,238.3L329.8,236.0L328.7,240.9L328.4,243.1L326.0,246.5L324.7,250.2L322.3,253.4L320.3,251.1L319.9,247.5ZM290.6,259.0L293.2,258.6L299.8,259.9L303.3,262.9L304.4,266.5L309.4,263.2L309.1,267.9L309.5,270.9L308.8,276.2L310.4,277.3L309.4,284.0L305.6,285.9L304.3,287.2L300.8,290.5L297.6,292.4L294.0,289.4L291.8,286.3L291.4,284.8L290.4,281.1L289.7,277.6L289.1,271.4L290.2,267.6L290.4,263.4L289.0,259.8Z"/><path fill="#a9efbb" d="M294.8,294.2L297.1,291.5L303.3,288.2L306.0,286.6L309.3,283.2L312.8,279.8L315.1,277.3L313.8,280.9L313.2,285.8L313.1,288.4L312.2,291.8L309.3,294.6L308.0,298.9L303.9,299.4L300.9,302.2L295.1,300.2L294.0,296.0Z"/><path fill="#d9b92e" d="M322.7,270.8L330.0,271.9L327.9,276.0L328.9,278.7L329.0,282.0L329.6,285.7L330.5,289.6L323.3,289.4L324.5,287.2L324.7,283.8L325.7,279.9L324.2,275.6Z"/><path fill="#e23a1c" d="M257.4,224.9L262.9,225.2L263.2,230.2L260.1,229.4ZM268.0,226.1L271.8,226.6L278.4,225.4L277.4,230.5L279.3,236.0L275.5,236.6L272.0,234.3L270.2,231.4ZM314.9,223.7L320.7,221.7L321.9,225.6L324.1,228.9L324.6,232.9L325.1,237.7L322.7,239.5L319.3,242.8L314.6,239.3L314.4,235.7L316.1,231.2L315.5,229.3ZM291.8,234.8L294.5,234.2L294.9,241.1L292.0,242.1ZM310.3,234.8L312.1,234.4L312.7,238.0L309.8,237.0ZM303.3,277.5L307.4,280.4L309.2,284.4L303.8,286.6L300.5,282.9ZM298.1,281.5L300.5,283.2L300.6,286.1L298.0,285.6Z"/><path fill="#2aa62e" d="M279.3,231.8L284.6,233.7L288.2,236.3L283.8,234.9ZM298.0,223.1L301.0,221.5L300.2,227.7L295.6,229.1ZM309.2,247.6L313.4,246.5L313.3,250.8L312.6,253.9L310.7,256.9L310.2,261.7L308.2,258.7L308.5,256.9L308.6,251.7ZM313.2,263.0L316.9,262.7L314.7,266.1L316.1,270.2L316.3,273.8L313.9,273.8L314.3,269.5L313.2,267.4ZM311.3,280.6L314.4,280.4L314.0,282.7L310.9,284.2Z"/><path fill="#e4e4e4" d="M284.3,171.1L286.0,170.5L290.5,167.5L292.9,167.8L295.0,165.2L298.0,165.1L301.3,163.3L305.7,162.4L307.2,161.0L311.2,158.6L316.9,159.4L318.7,158.2L322.3,158.9L327.2,159.5L330.4,159.0L333.8,160.2L338.2,160.0L341.9,161.7L343.5,162.5L348.1,164.6L350.1,166.2L354.9,166.4L356.7,165.3L360.9,164.4L365.8,164.9L369.5,164.1L372.8,167.8L375.3,169.4L377.9,169.8L381.6,171.7L386.0,172.4L389.3,173.9L390.5,178.1L391.6,182.3L388.8,182.7L385.6,183.8L380.9,185.0L380.1,187.0L374.5,187.5L371.0,190.1L367.1,189.3L362.9,188.6L359.1,188.9L356.2,185.2L353.1,181.1L350.9,180.5L346.4,179.3L343.7,175.1L340.9,173.5L337.6,171.2L334.7,172.3L330.6,172.5L327.4,175.1L323.5,176.0L320.9,173.1L316.2,169.6L313.1,169.5L308.8,169.5L305.4,170.3L301.1,170.4L295.2,173.5L293.2,174.7L290.5,174.7L287.3,172.5Z"/><path fill="#b3b3b3" d="M337.8,170.4L342.3,170.5L347.3,169.7L351.1,168.7L354.5,172.2L356.5,171.9L359.7,175.0L364.6,174.5L369.7,173.4L373.7,174.3L375.7,175.8L377.9,176.6L380.6,176.8L382.3,180.6L385.4,183.5L380.1,184.2L378.0,185.3L375.2,185.6L373.7,186.1L370.3,184.5L366.6,184.9L364.0,183.6L358.4,183.2L353.9,183.1L349.9,182.3L346.6,179.1L342.9,177.8L341.2,174.0Z"/><path fill="#a9efbb" d="M268.3,181.9L269.8,178.3L272.0,176.9L275.0,172.5L279.5,172.1L283.0,170.8L286.5,172.5L288.9,175.0L297.1,173.4L299.8,177.2L297.5,180.3L296.8,183.7L298.8,185.5L301.9,187.4L298.1,188.8L296.6,189.8L293.4,191.0L289.6,189.4L287.8,188.6L283.9,184.7L281.2,182.4L280.6,184.8L277.4,188.8L272.9,191.1L267.7,188.9L269.7,186.5Z"/><path fill="#d9b92e" d="M268.5,187.4L274.9,186.2L274.0,190.2L269.7,193.0ZM297.1,173.1L303.1,170.3L305.4,167.8L308.8,169.2L313.7,169.5L317.0,169.0L319.9,171.0L322.9,175.7L323.4,178.6L323.3,183.0L319.5,181.5L316.2,177.7L312.1,177.4L309.7,177.8L306.4,177.7L304.5,182.2L302.3,186.9L298.0,183.4L297.2,181.0L297.3,175.0Z"/><path fill="#a9efbb" d="M306.7,184.5L311.0,185.3L313.2,184.8L315.6,184.7L318.7,184.5L325.5,183.7L324.6,187.4L324.4,189.1L322.1,190.1L319.3,192.1L314.9,193.2L312.1,191.3L307.1,191.2L307.7,187.3Z"/><path fill="#d9b92e" d="M324.5,187.9L326.7,190.2L331.9,191.1L336.4,191.8L340.8,193.2L342.8,196.8L343.3,200.2L343.1,202.5L341.3,205.5L337.8,207.6L335.3,206.8L331.2,202.2L327.0,199.6L325.5,195.8L322.0,193.9ZM318.7,192.5L321.8,192.2L325.4,190.5L326.3,193.0L327.5,195.7L329.1,198.8L324.3,197.2L321.8,195.0Z"/><path fill="#a9efbb" d="M337.2,183.5L341.2,183.8L347.2,182.1L350.0,182.9L352.4,184.7L356.2,186.1L358.8,187.8L356.9,193.1L353.3,192.4L349.2,192.4L347.3,194.5L344.4,198.9L342.7,196.2L341.1,193.7L338.4,190.4ZM347.3,191.5L349.7,192.5L354.4,191.2L353.5,196.3L351.0,200.3L351.1,204.2L348.0,202.6L345.7,197.3Z"/><path fill="#e4e4e4" d="M351.7,205.1L353.6,204.5L358.0,202.1L362.7,202.4L366.0,200.3L367.4,202.0L371.1,203.1L374.1,203.1L376.5,206.2L380.7,209.0L377.9,211.1L375.0,214.2L373.7,215.0L370.4,219.6L371.5,223.9L369.1,227.8L368.5,229.6L365.8,234.0L364.8,235.1L362.5,232.6L362.1,229.7L359.6,227.2L359.6,224.7L358.1,221.3L355.7,217.0L357.7,214.7L355.2,211.4L352.8,208.4Z"/><path fill="#d9b92e" d="M364.0,199.0L366.1,202.7L370.4,202.0L373.2,205.2L372.7,207.2L367.2,206.2L364.8,205.3ZM367.3,213.1L373.0,213.1L371.8,216.7L367.0,219.6Z"/><path fill="#a9efbb" d="M358.7,199.1L361.2,200.1L365.9,199.6L369.2,200.5L365.7,204.4L360.1,202.4Z"/><path fill="#d9b92e" d="M349.4,183.4L353.2,183.1L357.3,182.0L356.8,184.9L353.7,185.0L348.7,185.6ZM320.8,203.6L326.7,204.0L325.9,208.0L321.8,208.6ZM311.4,199.0L314.7,198.2L316.8,203.2L315.2,208.9L313.6,209.3L312.9,204.9ZM267.8,194.8L273.4,192.4L277.1,192.0L281.7,191.6L283.6,191.7L288.0,192.0L288.4,193.6L285.0,194.1L281.3,195.0L277.7,196.6L274.1,197.3L268.5,198.3Z"/><path fill="#e4e4e4" d="M290.0,207.3L293.7,204.7L292.5,208.7L289.9,207.4ZM281.0,192.2L283.9,193.5L283.2,194.1L281.4,196.2Z"/><path fill="#e23a1c" d="M299.1,171.1L304.3,171.9L308.5,171.2L309.4,176.8L303.6,176.3L299.9,177.3ZM310.0,172.4L314.1,172.5L314.8,176.2L310.5,177.3ZM354.4,192.5L359.9,191.9L360.5,195.6L361.5,198.6L356.5,202.1L356.3,205.5L355.7,208.6L354.0,212.3L352.6,208.9L351.5,204.7L355.0,200.3L354.6,197.4Z"/><path fill="#2aa62e" d="M344.7,206.2L348.2,204.5L349.6,207.0L345.3,206.7ZM280.5,172.8L283.8,171.3L284.0,175.0L280.8,174.9ZM306.2,187.7L309.5,187.3L308.6,189.7L306.7,190.7Z"/><path fill="#a9efbb" d="M256.6,219.9L260.8,221.3L264.4,220.9L269.9,220.3L271.5,220.9L276.5,222.0L280.5,223.1L281.7,223.2L286.3,225.2L289.4,223.2L295.2,223.4L296.5,221.8L301.7,220.9L302.8,226.8L300.2,229.5L296.9,230.0L293.1,231.3L291.5,232.6L286.2,232.3L283.8,236.3L281.4,239.8L276.7,240.0L273.7,239.8L269.7,240.6L267.8,239.3L263.5,236.9L259.5,234.0L256.0,229.4L256.1,224.8Z"/><path fill="#d9b92e" d="M272.5,223.8L278.0,223.2L281.3,223.0L284.2,223.9L288.1,224.8L288.4,227.4L288.2,232.2L287.8,237.3L285.9,238.9L289.0,242.7L291.4,246.3L296.5,245.3L301.8,245.7L303.9,242.6L306.9,239.7L309.3,235.2L312.3,234.9L316.1,233.7L315.8,227.6L312.3,226.6L308.1,227.9L302.5,227.0L300.7,229.3L296.7,229.9L291.1,228.7L288.7,227.3L286.0,227.2L283.4,225.5L279.3,224.3L276.7,224.7Z"/><path fill="#e4e4e4" d="M302.3,224.7L306.6,223.0L310.1,222.6L314.3,220.6L318.3,222.7L318.3,225.8L315.4,227.3L311.9,228.3L307.4,228.3L302.6,227.9Z"/><path fill="#e23a1c" d="M257.0,225.6L260.8,224.5L262.9,229.1L258.1,231.0ZM269.1,228.0L272.7,227.0L277.6,226.5L278.6,228.6L279.9,232.5L276.9,238.3L273.2,235.4L270.9,232.0ZM261.2,222.3L267.2,222.8L268.6,223.8L261.3,222.9ZM316.1,224.1L318.4,218.5L321.4,224.5L323.0,225.6L324.8,231.5L326.6,235.0L324.9,236.4L322.0,240.6L318.4,239.3L315.4,236.3L315.2,233.3L315.3,229.0Z"/><path fill="#d9b92e" d="M324.3,240.2L326.2,237.9L327.4,234.6L331.7,231.8L333.6,232.4L333.4,232.8L331.4,237.5L330.5,240.2L329.9,241.6L328.6,246.2L324.9,246.0Z"/><path fill="#2aa62e" d="M295.2,224.8L298.4,223.0L303.3,223.3L301.6,226.6L297.5,226.8ZM280.8,234.9L284.7,237.3L284.4,238.2L280.9,236.5Z"/><path fill="#e4e4e4" d="M350.6,161.9L354.7,162.4L360.6,163.1L363.2,165.5L365.3,166.8L369.5,167.0L373.4,168.3L375.3,171.6L380.6,170.8L382.7,172.5L387.4,172.4L390.0,172.0L391.8,174.8L386.2,176.2L382.5,177.8L379.4,175.4L376.1,175.8L373.9,174.1L370.7,175.2L364.6,177.1L362.7,180.3L359.0,182.2L356.4,181.8L352.8,185.0L350.7,185.9L349.8,181.2L349.5,179.3L350.7,174.6L349.1,170.9L349.7,167.7L350.8,164.8Z"/><path fill="#a9efbb" d="M382.2,188.1L386.0,185.9L388.2,181.8L388.8,180.7L391.3,177.1L393.3,175.1L396.8,174.7L400.5,175.0L403.7,176.1L406.8,176.2L410.9,177.2L411.6,180.7L410.8,183.4L407.9,185.5L404.2,186.9L404.4,190.0L402.1,192.6L405.1,195.6L406.5,196.5L406.8,202.4L409.0,205.1L406.9,209.4L402.7,212.0L398.7,211.5L396.8,214.7L399.0,217.6L398.5,220.5L398.4,223.8L397.8,228.4L394.7,230.8L391.6,226.7L389.4,223.3L387.9,219.6L384.9,218.1L383.5,216.5L381.0,213.9L379.7,207.8L380.5,204.8L381.7,203.3L384.8,199.1L383.8,196.2L384.3,193.5Z"/><path fill="#d9b92e" d="M391.2,170.8L397.2,170.1L399.9,170.3L403.7,172.7L407.6,173.4L409.8,174.5L412.6,179.2L407.1,177.8L405.0,176.9L401.3,177.6L396.9,176.6L392.7,174.5ZM383.9,198.7L387.5,198.4L390.4,194.6L395.0,200.3L394.0,203.5L391.9,209.5L390.1,212.1L388.0,215.4L384.6,211.7L383.9,207.6L382.4,204.5L383.3,201.8Z"/><path fill="#e4e4e4" d="M396.5,202.5L401.0,200.6L402.5,201.2L403.2,207.3L397.5,207.3Z"/><path fill="#d9b92e" d="M362.6,200.4L365.9,201.0L370.1,202.9L373.4,204.1L373.7,207.4L368.3,206.0L364.4,205.4ZM368.0,212.9L373.6,212.6L371.4,217.4L368.1,218.1ZM383.3,214.4L384.4,213.9L387.2,218.9L387.6,222.0L382.8,221.1L383.5,219.4Z"/><path fill="#e23a1c" d="M392.8,169.6L396.2,169.8L396.9,169.4L390.9,170.1ZM407.2,177.6L412.6,177.3L410.4,179.3L409.0,178.9ZM391.4,225.0L396.5,222.7L397.9,230.6L392.5,231.0L391.3,229.2ZM386.1,200.0L388.8,199.6L389.4,203.4L387.7,201.7Z"/><path fill="#a9efbb" d="M379.4,214.4L382.9,213.9L386.8,215.3L391.1,215.5L393.8,215.1L397.6,213.5L397.2,218.7L399.6,222.4L399.7,227.3L401.1,232.0L396.9,233.8L394.4,229.7L389.7,228.8L388.0,222.9L382.8,220.4L382.9,217.9Z"/><path fill="#d9b92e" d="M380.9,214.5L385.2,213.9L387.6,221.1L382.6,222.0L380.1,219.4Z"/><path fill="#a9efbb" d="M389.3,228.3L391.2,229.2L392.1,232.3L393.3,234.3L392.6,238.1L394.5,241.9L391.8,242.7L390.7,240.4L389.4,235.1L389.1,232.5ZM382.9,237.3L388.5,236.1L391.9,236.7L394.9,236.5L399.3,236.8L401.9,240.0L399.8,243.5L402.6,244.8L404.0,248.4L405.8,254.7L406.6,256.1L407.6,257.8L408.9,261.9L406.0,262.2L399.8,260.9L398.2,261.4L393.3,261.2L392.9,258.1L391.3,256.2L390.7,252.9L387.9,249.8L388.7,246.7L387.3,243.4L385.1,240.1Z"/><path fill="#d9b92e" d="M393.0,250.5L398.5,251.0L399.1,255.9L399.1,259.7L397.2,259.2L395.3,255.7L393.7,252.5ZM396.7,257.5L403.0,259.6L405.8,259.4L407.7,262.0L402.5,260.0L397.8,261.5Z"/><path fill="#a9efbb" d="M399.6,237.0L404.9,236.9L406.7,236.4L412.2,235.2L412.4,235.3L414.7,239.2L414.1,242.1L413.9,245.6L414.3,248.1L413.3,251.8L413.9,256.0L409.4,255.9L405.5,254.3L401.6,254.4L401.9,249.2L400.8,246.4L400.0,243.6L398.0,239.0Z"/><path fill="#d9b92e" d="M411.7,244.7L417.0,246.1L417.6,248.6L418.1,252.6L417.5,256.6L412.4,257.6L413.2,253.2L411.7,250.1ZM425.3,247.6L429.0,249.5L434.4,251.4L435.3,253.2L439.4,257.3L432.8,258.6L432.0,257.7L430.0,254.0L426.6,251.5Z"/><path fill="#a9efbb" d="M434.5,252.1L438.3,252.3L438.3,256.2L433.9,256.0Z"/><path fill="#e4e4e4" d="M437.1,252.8L440.5,252.4L447.4,254.8L445.5,258.2L446.9,260.4L447.2,264.3L444.8,264.1L441.8,262.3L437.6,257.9L437.7,256.3Z"/><path fill="#a9efbb" d="M435.7,265.4L439.1,265.9L439.8,268.0L440.8,271.6L443.2,273.8L442.3,277.0L443.3,279.5L444.4,285.4L446.1,288.8L444.3,291.8L441.3,295.0L441.7,299.4L437.6,301.0L437.4,302.0L435.2,307.2L429.5,308.7L425.6,309.2L425.3,306.4L424.2,302.2L427.6,297.6L431.7,294.7L434.4,291.2L435.2,286.7L436.6,283.6L435.5,280.3L434.8,276.5L434.5,273.7L434.8,270.3Z"/><path fill="#d9b92e" d="M437.9,280.4L442.1,278.6L443.5,283.7L446.1,288.2L444.2,291.2L442.5,295.1L436.8,291.5L436.8,287.9L436.8,283.4ZM424.8,299.8L429.7,301.5L432.9,300.6L433.4,305.2L429.5,307.0L426.3,308.9L424.2,304.9Z"/><path fill="#a9efbb" d="M399.2,296.9L404.7,298.7L402.1,301.9L399.1,301.1ZM412.9,272.5L417.9,272.4L420.7,271.6L419.7,274.1L414.2,276.2Z"/><path fill="#e4e4e4" d="M364.9,229.9L370.8,230.8L370.7,236.3L370.1,240.2L364.3,238.9L365.2,235.5Z"/><path fill="#e23a1c" d="M392.1,224.4L398.0,223.6L397.5,226.7L398.4,230.8L393.8,231.8L393.5,228.5ZM389.3,243.5L393.8,243.9L394.8,250.6L389.8,250.6L389.8,246.1ZM399.4,259.2L403.5,258.3L402.2,261.5L398.5,260.4ZM404.6,243.0L407.7,241.0L410.4,239.9L412.0,246.7L406.2,246.1ZM425.5,249.1L428.7,249.7L431.1,253.6L427.5,251.5ZM437.5,255.1L438.8,256.7L438.5,259.5L435.7,258.7ZM438.3,286.9L443.4,288.0L444.2,291.8L440.0,290.9Z"/><path fill="#e4e4e4" d="M170.3,200.2h2.6v1.3h-2.6zM202.8,185.9h2.6v2.6h-2.6zM204.1,179.4h1.3v1.3h-1.3zM157.3,185.9h3.9v1.3h-3.9zM166.4,209.3h1.3v1.3h-1.3zM161.2,196.3h1.3v1.3h-1.3zM158.6,185.9h2.6v3.9h-2.6zM170.3,174.2h2.6v2.6h-2.6zM167.7,176.8h3.9v2.6h-3.9zM182.0,188.5h2.6v2.6h-2.6zM191.1,184.6h2.6v2.6h-2.6zM166.4,196.3h1.3v3.9h-1.3zM165.1,197.6h2.6v2.6h-2.6zM171.6,195.0h2.6v2.6h-2.6zM166.4,180.7h2.6v1.3h-2.6zM159.9,201.5h1.3v1.3h-1.3zM214.5,178.1h3.9v2.6h-3.9zM210.6,175.5h2.6v2.6h-2.6zM192.4,178.1h3.9v2.6h-3.9zM180.7,218.4h1.3v2.6h-1.3zM195.0,211.9h2.6v2.6h-2.6zM191.1,239.2h1.3v1.3h-1.3zM193.7,244.4h1.3v1.3h-1.3zM205.4,244.4h3.9v3.9h-3.9zM204.1,244.4h2.6v3.9h-2.6zM205.4,232.7h2.6v1.3h-2.6zM200.2,305.5h1.3v2.6h-1.3zM218.4,269.1h2.6v1.3h-2.6zM219.7,271.7h1.3v2.6h-1.3zM221.0,275.6h1.3v1.3h-1.3zM222.3,273.0h1.3v3.9h-1.3zM217.1,286.0h3.9v2.6h-3.9zM213.2,276.9h2.6v2.6h-2.6zM204.1,305.5h2.6v1.3h-2.6zM223.6,269.1h3.9v1.3h-3.9zM206.7,305.5h2.6v3.9h-2.6zM224.9,280.8h3.9v1.3h-3.9zM228.8,282.1h1.3v2.6h-1.3zM218.4,300.3h3.9v1.3h-3.9zM274.3,240.5h2.6v1.3h-2.6zM273.0,219.7h1.3v2.6h-1.3zM265.2,221.0h3.9v1.3h-3.9zM271.7,221.0h2.6v2.6h-2.6zM260.0,219.7h2.6v2.6h-2.6zM301.6,228.8h2.6v1.3h-2.6zM283.4,223.6h1.3v2.6h-1.3zM284.7,223.6h1.3v2.6h-1.3zM286.0,222.3h2.6v2.6h-2.6zM310.7,237.9h1.3v2.6h-1.3zM295.1,248.3h3.9v2.6h-3.9zM309.4,265.2h2.6v3.9h-2.6zM312.0,263.9h2.6v1.3h-2.6zM313.3,269.1h1.3v1.3h-1.3zM321.1,248.3h2.6v3.9h-2.6zM321.1,241.8h1.3v3.9h-1.3zM309.4,276.9h2.6v3.9h-2.6zM291.2,278.2h2.6v3.9h-2.6zM304.2,296.4h2.6v1.3h-2.6zM297.7,295.1h1.3v3.9h-1.3zM309.4,293.8h1.3v1.3h-1.3zM325.0,276.9h2.6v3.9h-2.6zM292.5,187.2h3.9v1.3h-3.9zM292.5,179.4h2.6v1.3h-2.6zM291.2,179.4h1.3v1.3h-1.3zM275.6,178.1h1.3v3.9h-1.3zM315.9,171.6h1.3v2.6h-1.3zM321.1,175.5h3.9v3.9h-3.9zM322.4,182.0h1.3v3.9h-1.3zM304.2,182.0h1.3v2.6h-1.3zM313.3,184.6h3.9v3.9h-3.9zM323.7,191.1h2.6v3.9h-2.6zM332.8,201.5h3.9v2.6h-3.9zM340.6,198.9h3.9v3.9h-3.9zM345.8,185.9h2.6v3.9h-2.6zM348.4,188.5h3.9v1.3h-3.9zM370.5,217.1h3.9v1.3h-3.9zM362.7,202.8h2.6v1.3h-2.6zM275.6,192.4h2.6v1.3h-2.6zM287.3,192.4h3.9v3.9h-3.9zM278.2,195.0h2.6v1.3h-2.6zM267.8,228.8h3.9v2.6h-3.9zM263.9,235.3h2.6v3.9h-2.6zM256.1,230.1h2.6v2.6h-2.6zM302.9,232.7h2.6v2.6h-2.6zM299.0,244.4h1.3v1.3h-1.3zM288.6,243.1h3.9v2.6h-3.9zM325.0,240.5h2.6v2.6h-2.6zM399.1,191.1h1.3v1.3h-1.3zM396.5,192.4h1.3v3.9h-1.3zM395.2,179.4h1.3v1.3h-1.3zM391.3,191.1h3.9v1.3h-3.9zM400.4,195.0h1.3v3.9h-1.3zM404.3,206.7h1.3v2.6h-1.3zM405.6,200.2h1.3v1.3h-1.3zM393.9,174.2h3.9v1.3h-3.9zM393.9,205.4h1.3v1.3h-1.3zM386.1,211.9h1.3v1.3h-1.3zM370.5,213.2h1.3v1.3h-1.3zM395.2,215.8h1.3v2.6h-1.3zM391.3,235.3h3.9v2.6h-3.9zM391.3,234.0h3.9v2.6h-3.9zM388.7,248.3h1.3v1.3h-1.3zM396.5,247.0h3.9v2.6h-3.9zM405.6,253.5h1.3v3.9h-1.3zM412.1,256.1h1.3v2.6h-1.3zM440.7,273.0h1.3v1.3h-1.3zM430.3,296.4h3.9v3.9h-3.9zM436.8,297.7h2.6v1.3h-2.6z"/><path fill="#d9b92e" d="M162.5,171.6h2.6v1.3h-2.6zM162.5,184.6h2.6v1.3h-2.6zM158.6,206.7h1.3v2.6h-1.3zM159.9,210.6h1.3v1.3h-1.3zM162.5,204.1h2.6v3.9h-2.6zM210.6,174.2h3.9v2.6h-3.9zM174.2,178.1h1.3v1.3h-1.3zM178.1,176.8h2.6v1.3h-2.6zM178.1,179.4h3.9v2.6h-3.9zM176.8,187.2h2.6v2.6h-2.6zM191.1,189.8h1.3v2.6h-1.3zM196.3,187.2h1.3v2.6h-1.3zM198.9,180.7h3.9v2.6h-3.9zM175.5,223.6h1.3v2.6h-1.3zM172.9,219.7h3.9v1.3h-3.9zM166.4,219.7h3.9v3.9h-3.9zM175.5,226.2h2.6v2.6h-2.6zM169.0,221.0h2.6v2.6h-2.6zM180.7,227.5h2.6v1.3h-2.6zM184.6,211.9h1.3v1.3h-1.3zM191.1,217.1h2.6v2.6h-2.6zM189.8,214.5h1.3v2.6h-1.3zM196.3,211.9h1.3v2.6h-1.3zM222.3,256.1h1.3v1.3h-1.3zM214.5,249.6h1.3v1.3h-1.3zM226.2,260.0h2.6v2.6h-2.6zM231.4,267.8h2.6v2.6h-2.6zM197.6,234.0h1.3v2.6h-1.3zM227.5,275.6h3.9v2.6h-3.9zM211.9,273.0h2.6v1.3h-2.6zM200.2,266.5h1.3v2.6h-1.3zM210.6,237.9h1.3v1.3h-1.3zM211.9,237.9h2.6v3.9h-2.6zM209.3,243.1h1.3v2.6h-1.3zM200.2,239.2h1.3v1.3h-1.3zM201.5,240.5h2.6v1.3h-2.6zM200.2,291.2h1.3v2.6h-1.3zM200.2,295.1h1.3v2.6h-1.3zM210.6,306.8h2.6v2.6h-2.6zM210.6,282.1h1.3v2.6h-1.3zM213.2,287.3h3.9v3.9h-3.9zM275.6,240.5h1.3v2.6h-1.3zM283.4,222.3h1.3v2.6h-1.3zM261.3,219.7h1.3v2.6h-1.3zM258.7,219.7h2.6v3.9h-2.6zM274.3,240.5h3.9v1.3h-3.9zM275.6,222.3h3.9v1.3h-3.9zM273.0,240.5h1.3v2.6h-1.3zM279.5,222.3h1.3v1.3h-1.3zM271.7,219.7h1.3v2.6h-1.3zM286.0,234.0h2.6v3.9h-2.6zM274.3,221.0h2.6v2.6h-2.6zM287.3,224.9h2.6v1.3h-2.6zM266.5,219.7h1.3v2.6h-1.3zM263.9,221.0h2.6v3.9h-2.6zM278.2,221.0h1.3v1.3h-1.3zM263.9,237.9h1.3v2.6h-1.3zM284.7,222.3h1.3v2.6h-1.3zM302.9,224.9h3.9v2.6h-3.9zM288.6,245.7h1.3v2.6h-1.3zM293.8,248.3h2.6v3.9h-2.6zM317.2,244.4h1.3v2.6h-1.3zM318.5,261.3h2.6v2.6h-2.6zM318.5,257.4h1.3v2.6h-1.3zM314.6,270.4h2.6v2.6h-2.6zM318.5,256.1h1.3v1.3h-1.3zM315.9,258.7h2.6v1.3h-2.6zM317.2,258.7h1.3v3.9h-1.3zM314.6,247.0h3.9v1.3h-3.9zM312.0,275.6h1.3v2.6h-1.3zM312.0,265.2h1.3v1.3h-1.3zM313.3,248.3h1.3v2.6h-1.3zM313.3,248.3h1.3v2.6h-1.3zM317.2,252.2h1.3v1.3h-1.3zM312.0,291.2h2.6v1.3h-2.6zM306.8,295.1h2.6v1.3h-2.6zM312.0,284.7h2.6v2.6h-2.6zM299.0,300.3h3.9v2.6h-3.9zM301.6,289.9h2.6v1.3h-2.6zM306.8,289.9h3.9v3.9h-3.9zM315.9,237.9h1.3v2.6h-1.3zM325.0,237.9h2.6v2.6h-2.6zM317.2,239.2h2.6v2.6h-2.6zM319.8,241.8h1.3v1.3h-1.3zM308.1,284.7h1.3v1.3h-1.3zM302.9,280.8h1.3v1.3h-1.3zM364.0,166.4h1.3v1.3h-1.3zM297.7,170.3h2.6v2.6h-2.6zM323.7,163.8h1.3v1.3h-1.3zM322.4,162.5h1.3v2.6h-1.3zM283.4,176.8h2.6v2.6h-2.6zM289.9,182.0h2.6v1.3h-2.6zM288.6,178.1h1.3v3.9h-1.3zM286.0,172.9h1.3v1.3h-1.3zM275.6,174.2h1.3v1.3h-1.3zM278.2,175.5h2.6v2.6h-2.6zM293.8,175.5h3.9v2.6h-3.9zM273.0,183.3h2.6v3.9h-2.6zM273.0,184.6h1.3v3.9h-1.3zM357.5,187.2h3.9v2.6h-3.9zM356.2,188.5h1.3v2.6h-1.3zM340.6,187.2h2.6v2.6h-2.6zM341.9,188.5h2.6v1.3h-2.6zM373.1,204.1h2.6v3.9h-2.6zM371.8,208.0h1.3v1.3h-1.3zM370.5,222.3h1.3v1.3h-1.3zM371.8,211.9h2.6v2.6h-2.6zM365.3,200.2h3.9v1.3h-3.9zM305.5,172.9h2.6v1.3h-2.6zM353.6,202.8h2.6v1.3h-2.6zM357.5,200.2h2.6v1.3h-2.6zM356.2,193.7h3.9v3.9h-3.9zM276.9,226.2h2.6v1.3h-2.6zM260.0,223.6h1.3v2.6h-1.3zM289.9,224.9h2.6v1.3h-2.6zM280.8,237.9h1.3v2.6h-1.3zM282.1,230.1h1.3v3.9h-1.3zM267.8,239.2h2.6v2.6h-2.6zM262.6,227.5h1.3v1.3h-1.3zM261.3,234.0h1.3v2.6h-1.3zM282.1,223.6h1.3v2.6h-1.3zM287.3,230.1h2.6v3.9h-2.6zM300.3,222.3h1.3v2.6h-1.3zM267.8,222.3h3.9v2.6h-3.9zM265.2,223.6h3.9v2.6h-3.9zM257.4,223.6h1.3v3.9h-1.3zM283.4,224.9h2.6v2.6h-2.6zM263.9,224.9h2.6v1.3h-2.6zM274.3,235.3h2.6v2.6h-2.6zM319.8,226.2h1.3v1.3h-1.3zM319.8,231.4h2.6v2.6h-2.6zM301.6,226.2h2.6v2.6h-2.6zM352.3,163.8h1.3v2.6h-1.3zM360.1,171.6h2.6v1.3h-2.6zM391.3,178.1h2.6v3.9h-2.6zM404.3,185.9h2.6v1.3h-2.6zM384.8,197.6h2.6v3.9h-2.6zM395.2,193.7h2.6v2.6h-2.6zM387.4,193.7h1.3v3.9h-1.3zM391.3,213.2h1.3v3.9h-1.3zM405.6,202.8h2.6v1.3h-2.6zM409.5,179.4h1.3v2.6h-1.3zM399.1,193.7h3.9v2.6h-3.9zM400.4,197.6h2.6v1.3h-2.6zM403.0,179.4h3.9v2.6h-3.9zM386.1,187.2h3.9v2.6h-3.9zM401.7,185.9h1.3v2.6h-1.3zM396.5,208.0h1.3v3.9h-1.3zM383.5,191.1h2.6v1.3h-2.6zM406.9,196.3h2.6v3.9h-2.6zM406.9,202.8h3.9v2.6h-3.9zM390.0,187.2h3.9v2.6h-3.9zM408.2,204.1h1.3v1.3h-1.3zM403.0,180.7h2.6v1.3h-2.6zM388.7,185.9h3.9v1.3h-3.9zM397.8,208.0h3.9v3.9h-3.9zM400.4,192.4h1.3v1.3h-1.3zM386.1,188.5h2.6v3.9h-2.6zM397.8,209.3h3.9v2.6h-3.9zM390.0,214.5h1.3v2.6h-1.3zM390.0,179.4h1.3v3.9h-1.3zM391.3,179.4h3.9v1.3h-3.9zM395.2,191.1h3.9v2.6h-3.9zM403.0,206.7h2.6v1.3h-2.6zM410.8,178.1h1.3v1.3h-1.3zM393.9,230.1h1.3v1.3h-1.3zM392.6,230.1h2.6v1.3h-2.6zM393.9,228.8h2.6v2.6h-2.6zM399.1,230.1h3.9v1.3h-3.9zM386.1,217.1h2.6v1.3h-2.6zM396.5,223.6h1.3v1.3h-1.3zM391.3,228.8h2.6v3.9h-2.6zM388.7,245.7h2.6v3.9h-2.6zM388.7,244.4h1.3v2.6h-1.3zM391.3,237.9h1.3v1.3h-1.3zM403.0,254.8h2.6v2.6h-2.6zM406.9,258.7h2.6v1.3h-2.6zM391.3,253.5h1.3v1.3h-1.3zM403.0,261.3h3.9v1.3h-3.9zM396.5,240.5h2.6v2.6h-2.6zM392.6,239.2h2.6v2.6h-2.6zM393.9,254.8h2.6v1.3h-2.6zM387.4,243.1h2.6v2.6h-2.6zM388.7,245.7h1.3v1.3h-1.3zM399.1,236.6h1.3v1.3h-1.3zM405.6,250.9h3.9v1.3h-3.9zM410.8,241.8h2.6v1.3h-2.6zM401.7,247.0h1.3v2.6h-1.3zM404.3,239.2h1.3v1.3h-1.3zM405.6,236.6h1.3v2.6h-1.3zM405.6,250.9h2.6v2.6h-2.6zM435.5,254.8h2.6v2.6h-2.6zM442.0,261.3h1.3v2.6h-1.3zM438.1,300.3h1.3v3.9h-1.3zM435.5,287.3h1.3v1.3h-1.3zM439.4,300.3h2.6v1.3h-2.6zM436.8,269.1h2.6v1.3h-2.6zM436.8,271.7h1.3v2.6h-1.3zM439.4,274.3h1.3v1.3h-1.3zM435.5,293.8h2.6v2.6h-2.6zM436.8,296.4h2.6v1.3h-2.6zM442.0,278.2h1.3v1.3h-1.3zM396.5,228.8h1.3v2.6h-1.3zM393.9,248.3h1.3v1.3h-1.3zM410.8,240.5h1.3v1.3h-1.3z"/><path fill="#a9efbb" d="M169.0,172.9h1.3v1.3h-1.3zM180.7,182.0h1.3v3.9h-1.3zM174.2,193.7h1.3v2.6h-1.3zM157.3,196.3h1.3v2.6h-1.3zM166.4,185.9h2.6v2.6h-2.6zM171.6,196.3h1.3v1.3h-1.3zM156.0,175.5h2.6v3.9h-2.6zM182.0,198.9h2.6v2.6h-2.6zM152.1,183.3h2.6v3.9h-2.6zM157.3,204.1h3.9v1.3h-3.9zM191.1,185.9h1.3v2.6h-1.3zM157.3,176.8h1.3v2.6h-1.3zM180.7,191.1h3.9v1.3h-3.9zM174.2,185.9h2.6v2.6h-2.6zM166.4,198.9h2.6v1.3h-2.6zM167.7,187.2h3.9v2.6h-3.9zM169.0,205.4h3.9v2.6h-3.9zM187.2,185.9h2.6v2.6h-2.6zM178.1,192.4h2.6v2.6h-2.6zM201.5,185.9h1.3v1.3h-1.3zM193.7,196.3h1.3v2.6h-1.3zM182.0,195.0h1.3v3.9h-1.3zM167.7,189.8h2.6v1.3h-2.6zM196.3,183.3h2.6v1.3h-2.6zM183.3,195.0h1.3v1.3h-1.3zM154.7,185.9h3.9v1.3h-3.9zM165.1,192.4h2.6v2.6h-2.6zM197.6,193.7h1.3v2.6h-1.3zM189.8,193.7h3.9v2.6h-3.9zM193.7,191.1h2.6v2.6h-2.6zM193.7,182.0h2.6v3.9h-2.6zM165.1,192.4h2.6v1.3h-2.6zM163.8,178.1h2.6v2.6h-2.6zM182.0,191.1h1.3v1.3h-1.3zM157.3,183.3h1.3v1.3h-1.3zM185.9,179.4h2.6v2.6h-2.6zM193.7,193.7h1.3v3.9h-1.3zM201.5,183.3h1.3v1.3h-1.3zM176.8,223.6h2.6v1.3h-2.6zM174.2,224.9h1.3v1.3h-1.3zM234.0,263.9h1.3v1.3h-1.3zM200.2,252.2h3.9v2.6h-3.9zM205.4,250.9h3.9v1.3h-3.9zM208.0,250.9h2.6v3.9h-2.6zM218.4,250.9h1.3v1.3h-1.3zM223.6,250.9h1.3v1.3h-1.3zM221.0,260.0h1.3v2.6h-1.3zM214.5,257.4h2.6v2.6h-2.6zM202.8,234.0h1.3v1.3h-1.3zM201.5,232.7h1.3v2.6h-1.3zM187.2,240.5h1.3v1.3h-1.3zM191.1,235.3h1.3v1.3h-1.3zM197.6,245.7h3.9v3.9h-3.9zM206.7,235.3h1.3v1.3h-1.3zM201.5,232.7h2.6v2.6h-2.6zM202.8,244.4h3.9v3.9h-3.9zM202.8,275.6h1.3v2.6h-1.3zM215.8,263.9h1.3v3.9h-1.3zM217.1,291.2h2.6v2.6h-2.6zM213.2,266.5h1.3v1.3h-1.3zM208.0,269.1h3.9v1.3h-3.9zM209.3,275.6h2.6v1.3h-2.6zM226.2,286.0h2.6v2.6h-2.6zM196.3,263.9h1.3v2.6h-1.3zM205.4,306.8h3.9v2.6h-3.9zM205.4,267.8h2.6v1.3h-2.6zM224.9,273.0h3.9v2.6h-3.9zM215.8,288.6h1.3v2.6h-1.3zM197.6,266.5h1.3v2.6h-1.3zM228.8,271.7h1.3v1.3h-1.3zM205.4,280.8h3.9v1.3h-3.9zM218.4,265.2h1.3v2.6h-1.3zM206.7,291.2h1.3v3.9h-1.3zM210.6,293.8h3.9v3.9h-3.9zM209.3,288.6h2.6v2.6h-2.6zM204.1,271.7h2.6v1.3h-2.6zM214.5,293.8h2.6v1.3h-2.6zM222.3,271.7h1.3v1.3h-1.3zM213.2,269.1h2.6v2.6h-2.6zM215.8,280.8h1.3v2.6h-1.3zM217.1,279.5h1.3v1.3h-1.3zM198.9,301.6h3.9v3.9h-3.9zM200.2,301.6h2.6v1.3h-2.6zM200.2,297.7h3.9v1.3h-3.9zM188.5,236.6h1.3v2.6h-1.3zM204.1,283.4h1.3v2.6h-1.3zM214.5,296.4h3.9v2.6h-3.9zM214.5,301.6h2.6v2.6h-2.6zM286.0,234.0h1.3v1.3h-1.3zM286.0,223.6h1.3v2.6h-1.3zM284.7,234.0h1.3v2.6h-1.3zM287.3,223.6h2.6v2.6h-2.6zM284.7,222.3h3.9v1.3h-3.9zM295.1,248.3h1.3v3.9h-1.3zM309.4,237.9h3.9v2.6h-3.9zM314.6,236.6h2.6v3.9h-2.6zM305.5,241.8h1.3v2.6h-1.3zM314.6,240.5h3.9v2.6h-3.9zM313.3,239.2h1.3v3.9h-1.3zM314.6,239.2h1.3v2.6h-1.3zM312.0,237.9h2.6v1.3h-2.6zM293.8,247.0h3.9v3.9h-3.9zM287.3,237.9h3.9v1.3h-3.9zM313.3,240.5h1.3v1.3h-1.3zM309.4,240.5h3.9v2.6h-3.9zM308.1,249.6h2.6v1.3h-2.6zM308.1,260.0h1.3v1.3h-1.3zM302.9,256.1h1.3v2.6h-1.3zM321.1,245.7h1.3v2.6h-1.3zM293.8,270.4h1.3v1.3h-1.3zM299.0,289.9h2.6v1.3h-2.6zM299.0,262.6h2.6v1.3h-2.6zM296.4,282.1h1.3v1.3h-1.3zM293.8,284.7h1.3v2.6h-1.3zM291.2,267.8h1.3v2.6h-1.3zM304.2,269.1h1.3v1.3h-1.3zM306.8,270.4h1.3v1.3h-1.3zM306.8,273.0h1.3v3.9h-1.3zM300.3,278.2h2.6v2.6h-2.6zM305.5,274.3h1.3v3.9h-1.3zM308.1,266.5h2.6v2.6h-2.6zM300.3,276.9h1.3v3.9h-1.3zM301.6,287.3h2.6v1.3h-2.6zM327.6,279.5h1.3v2.6h-1.3zM326.3,280.8h1.3v1.3h-1.3zM314.6,236.6h1.3v2.6h-1.3zM299.0,282.1h2.6v1.3h-2.6zM309.4,248.3h2.6v2.6h-2.6zM315.9,270.4h2.6v1.3h-2.6zM330.2,167.7h3.9v3.9h-3.9zM340.6,162.5h2.6v3.9h-2.6zM313.3,158.6h2.6v1.3h-2.6zM358.8,183.3h2.6v2.6h-2.6zM340.6,165.1h2.6v2.6h-2.6zM321.1,169.0h2.6v1.3h-2.6zM335.4,171.6h1.3v3.9h-1.3zM379.6,184.6h2.6v1.3h-2.6zM308.1,163.8h1.3v2.6h-1.3zM269.1,189.8h3.9v3.9h-3.9zM300.3,184.6h3.9v1.3h-3.9zM300.3,179.4h3.9v3.9h-3.9zM301.6,184.6h2.6v2.6h-2.6zM301.6,178.1h3.9v2.6h-3.9zM304.2,171.6h2.6v1.3h-2.6zM319.8,179.4h3.9v2.6h-3.9zM315.9,171.6h3.9v2.6h-3.9zM334.1,204.1h1.3v2.6h-1.3zM343.2,201.5h1.3v2.6h-1.3zM335.4,197.6h3.9v2.6h-3.9zM336.7,200.2h3.9v2.6h-3.9zM325.0,192.4h1.3v3.9h-1.3zM369.2,222.3h1.3v3.9h-1.3zM373.1,208.0h3.9v2.6h-3.9zM361.4,213.2h3.9v2.6h-3.9zM369.2,202.8h3.9v2.6h-3.9zM356.2,184.6h1.3v2.6h-1.3zM326.3,206.7h1.3v2.6h-1.3zM315.9,201.5h1.3v1.3h-1.3zM275.6,193.7h1.3v1.3h-1.3zM305.5,171.6h1.3v2.6h-1.3zM299.0,241.8h3.9v3.9h-3.9zM289.9,243.1h2.6v1.3h-2.6zM305.5,235.3h1.3v1.3h-1.3zM299.0,240.5h1.3v3.9h-1.3zM312.0,228.8h3.9v2.6h-3.9zM288.6,236.6h2.6v1.3h-2.6zM312.0,234.0h3.9v1.3h-3.9zM315.9,223.6h1.3v1.3h-1.3zM258.7,230.1h1.3v3.9h-1.3zM278.2,230.1h1.3v1.3h-1.3zM319.8,230.1h2.6v2.6h-2.6zM319.8,228.8h2.6v3.9h-2.6zM322.4,224.9h1.3v1.3h-1.3zM327.6,236.6h1.3v1.3h-1.3zM283.4,237.9h2.6v1.3h-2.6zM388.7,172.9h2.6v2.6h-2.6zM356.2,174.2h1.3v3.9h-1.3zM409.5,175.5h2.6v2.6h-2.6zM401.7,171.6h2.6v2.6h-2.6zM390.0,210.6h2.6v1.3h-2.6zM387.4,206.7h2.6v1.3h-2.6zM392.6,197.6h2.6v1.3h-2.6zM390.0,210.6h2.6v1.3h-2.6zM369.2,205.4h1.3v1.3h-1.3zM386.1,217.1h2.6v2.6h-2.6zM384.8,215.8h2.6v3.9h-2.6zM393.9,250.9h1.3v2.6h-1.3zM397.8,252.2h1.3v1.3h-1.3zM416.0,245.7h2.6v2.6h-2.6zM413.4,252.2h3.9v3.9h-3.9zM430.3,254.8h3.9v1.3h-3.9zM427.7,249.6h3.9v3.9h-3.9zM438.1,291.2h2.6v1.3h-2.6zM440.7,291.2h1.3v1.3h-1.3zM438.1,288.6h1.3v2.6h-1.3zM425.1,304.2h1.3v1.3h-1.3zM429.0,304.2h1.3v3.9h-1.3z"/><path fill="#e23a1c" d="M184.6,193.7h1.3v1.3h-1.3zM161.2,197.6h1.3v3.9h-1.3zM193.7,188.5h1.3v3.9h-1.3zM167.7,174.2h2.6v2.6h-2.6zM172.9,195.0h2.6v2.6h-2.6zM157.3,196.3h2.6v1.3h-2.6zM189.8,234.0h1.3v1.3h-1.3zM209.3,278.2h2.6v2.6h-2.6zM206.7,297.7h2.6v1.3h-2.6zM217.1,270.4h3.9v1.3h-3.9zM213.2,291.2h1.3v1.3h-1.3zM218.4,280.8h2.6v2.6h-2.6zM221.0,286.0h2.6v2.6h-2.6zM217.1,265.2h1.3v2.6h-1.3zM228.8,271.7h2.6v2.6h-2.6zM208.0,269.1h2.6v1.3h-2.6zM204.1,304.2h1.3v1.3h-1.3zM215.8,286.0h2.6v3.9h-2.6zM200.2,304.2h2.6v1.3h-2.6zM198.9,299.0h3.9v1.3h-3.9zM278.2,222.3h3.9v2.6h-3.9zM258.7,219.7h1.3v2.6h-1.3zM284.7,223.6h2.6v3.9h-2.6zM286.0,234.0h1.3v1.3h-1.3zM312.0,240.5h2.6v2.6h-2.6zM293.8,247.0h2.6v3.9h-2.6zM287.3,236.6h2.6v1.3h-2.6zM309.4,240.5h2.6v1.3h-2.6zM310.7,240.5h1.3v2.6h-1.3zM291.2,252.2h2.6v1.3h-2.6zM318.5,261.3h2.6v1.3h-2.6zM295.1,278.2h2.6v3.9h-2.6zM304.2,275.6h1.3v3.9h-1.3zM300.3,270.4h2.6v2.6h-2.6zM293.8,258.7h2.6v2.6h-2.6zM306.8,270.4h1.3v3.9h-1.3zM283.4,171.6h3.9v3.9h-3.9zM284.7,178.1h2.6v2.6h-2.6zM299.0,187.2h2.6v1.3h-2.6zM283.4,183.3h1.3v1.3h-1.3zM270.4,191.1h3.9v2.6h-3.9zM321.1,189.8h2.6v1.3h-2.6zM309.4,185.9h2.6v1.3h-2.6zM338.0,192.4h2.6v2.6h-2.6zM343.2,192.4h1.3v1.3h-1.3zM351.0,188.5h3.9v1.3h-3.9zM353.6,195.0h2.6v1.3h-2.6zM370.5,202.8h2.6v3.9h-2.6zM273.0,224.9h1.3v2.6h-1.3zM271.7,224.9h3.9v1.3h-3.9zM275.6,239.2h2.6v2.6h-2.6zM291.2,241.8h2.6v1.3h-2.6zM299.0,239.2h2.6v1.3h-2.6zM291.2,245.7h3.9v2.6h-3.9zM300.3,231.4h1.3v1.3h-1.3zM397.8,191.1h1.3v3.9h-1.3zM399.1,187.2h2.6v1.3h-2.6zM393.9,211.9h1.3v2.6h-1.3zM391.3,189.8h1.3v1.3h-1.3zM393.9,184.6h1.3v1.3h-1.3zM397.8,198.9h1.3v1.3h-1.3zM405.6,183.3h2.6v3.9h-2.6zM400.4,171.6h2.6v2.6h-2.6zM399.1,223.6h1.3v2.6h-1.3zM406.9,260.0h2.6v1.3h-2.6zM400.4,243.1h2.6v2.6h-2.6zM404.3,245.7h1.3v1.3h-1.3zM429.0,300.3h2.6v2.6h-2.6zM436.8,288.6h2.6v2.6h-2.6zM439.4,283.4h3.9v2.6h-3.9zM430.3,304.2h1.3v2.6h-1.3z"/><path fill="#2aa62e" d="M171.6,198.9h3.9v1.3h-3.9zM170.3,178.1h1.3v2.6h-1.3zM182.0,189.8h1.3v2.6h-1.3zM169.0,197.6h2.6v1.3h-2.6zM180.7,195.0h2.6v3.9h-2.6zM191.1,211.9h1.3v1.3h-1.3zM185.9,240.5h3.9v2.6h-3.9zM215.8,279.5h2.6v1.3h-2.6zM215.8,283.4h2.6v2.6h-2.6zM276.9,221.0h2.6v1.3h-2.6zM258.7,221.0h2.6v2.6h-2.6zM284.7,222.3h3.9v1.3h-3.9zM283.4,222.3h1.3v1.3h-1.3zM286.0,223.6h2.6v3.9h-2.6zM314.6,237.9h3.9v2.6h-3.9zM313.3,236.6h2.6v3.9h-2.6zM304.2,271.7h1.3v1.3h-1.3zM325.0,275.6h1.3v2.6h-1.3zM293.8,183.3h2.6v2.6h-2.6zM292.5,179.4h1.3v2.6h-1.3zM310.7,185.9h1.3v2.6h-1.3zM323.7,184.6h3.9v2.6h-3.9zM332.8,196.3h1.3v1.3h-1.3zM343.2,191.1h2.6v3.9h-2.6zM349.7,198.9h2.6v3.9h-2.6zM279.5,226.2h2.6v1.3h-2.6zM286.0,230.1h1.3v1.3h-1.3zM301.6,222.3h1.3v2.6h-1.3zM295.1,240.5h2.6v2.6h-2.6zM390.0,224.9h2.6v1.3h-2.6zM390.0,219.7h1.3v1.3h-1.3zM404.3,260.0h2.6v1.3h-2.6zM413.4,237.9h2.6v2.6h-2.6zM403.0,237.9h1.3v2.6h-1.3zM435.5,269.1h1.3v2.6h-1.3zM430.3,299.0h1.3v2.6h-1.3z"/><path fill="#b3b3b3" d="M204.1,249.6h2.6v3.9h-2.6zM211.9,245.7h2.6v2.6h-2.6zM188.5,252.2h1.3v2.6h-1.3zM198.9,262.6h2.6v1.3h-2.6zM195.0,254.8h2.6v1.3h-2.6zM301.6,256.1h2.6v1.3h-2.6zM295.1,257.4h1.3v3.9h-1.3zM331.5,171.6h1.3v1.3h-1.3zM335.4,161.2h3.9v3.9h-3.9zM305.5,166.4h2.6v3.9h-2.6zM334.1,169.0h1.3v3.9h-1.3zM286.0,170.3h2.6v1.3h-2.6zM325.0,169.0h2.6v2.6h-2.6zM315.9,166.4h2.6v2.6h-2.6zM331.5,161.2h2.6v2.6h-2.6zM314.6,161.2h1.3v1.3h-1.3zM364.0,232.7h3.9v3.9h-3.9zM356.2,180.7h3.9v2.6h-3.9zM360.1,166.4h3.9v2.6h-3.9zM369.2,232.7h2.6v2.6h-2.6z"/></g><use href="#land" fill="none" stroke="#141414" stroke-width="0.7"/><use href="#lakes" fill="#fff" stroke="#141414" stroke-width="0.6"/><path d="M221.6,248.6L216.9,251.7L212.2,250.2L207.5,253.3L203.6,250.2L199.7,252.5L193.4,252.5M293.2,252.0L295.8,246.3L299.7,243.9L303.6,245.5M295.8,246.3L295.2,243.0" fill="none" stroke="#1a1a1a" stroke-width="0.6"/></g><use href="#frame" fill="none" stroke="#000" stroke-width="2"/></g><g transform="translate(422.6,0)"><g clip-path="url(#fc)"><use href="#land" fill="#b3b3b3"/><g clip-path="url(#lc)"><path fill="#e4e4e4" d="M266.1,183.4L270.4,178.6L272.7,174.2L275.9,174.9L279.2,172.6L282.6,169.7L285.1,169.9L289.1,168.6L291.0,165.4L294.3,164.1L297.1,163.0L300.9,160.6L303.9,161.5L308.9,159.8L311.7,159.8L316.0,159.0L318.9,158.6L323.5,158.8L326.3,160.2L330.1,159.7L333.4,159.0L335.8,159.9L340.1,161.4L343.1,162.6L347.6,165.4L348.6,166.6L353.8,165.8L357.2,165.1L360.0,166.1L365.4,163.6L369.0,164.7L371.8,166.0L374.3,168.1L377.7,170.2L381.2,172.3L386.8,171.7L390.0,172.3L390.9,176.8L391.2,178.9L388.3,180.1L386.5,184.3L384.1,185.7L380.5,187.1L377.4,187.3L374.2,188.5L371.3,186.7L369.2,186.1L365.2,185.1L362.0,185.2L360.2,188.7L358.3,191.0L355.1,193.3L351.7,193.0L349.7,195.3L350.1,199.7L349.7,203.1L348.3,206.9L342.8,207.8L339.9,205.5L335.5,203.1L334.2,201.1L329.9,200.8L327.5,196.1L324.4,191.5L319.0,192.3L314.1,192.7L312.5,191.2L306.2,191.1L303.2,190.6L299.9,187.7L297.0,186.2L291.8,186.8L290.7,189.7L288.7,191.0L285.4,188.6L283.2,185.9L279.5,184.1L278.1,186.4L275.9,187.5L272.6,190.8L266.0,190.1L265.3,185.9ZM349.4,160.5L354.5,162.5L358.4,162.9L360.9,164.7L365.6,166.7L368.6,168.5L371.8,169.3L376.7,169.5L378.1,170.3L382.9,171.9L388.6,173.0L390.6,173.7L386.5,174.5L382.1,175.9L378.2,176.1L374.3,175.1L372.7,173.8L370.2,175.0L365.4,175.7L361.8,180.4L358.5,181.0L361.1,183.6L364.2,186.9L360.9,190.9L358.1,194.0L354.4,192.3L349.0,193.8L350.0,189.2L349.7,186.0L348.3,182.0L348.8,178.1L349.3,175.5L350.6,172.9L350.6,168.3L349.3,165.4Z"/><path fill="#b3b3b3" d="M291.2,169.5L296.2,169.3L299.0,167.0L304.0,173.7L299.7,174.4L294.0,174.7ZM334.3,173.6L337.5,171.3L340.6,170.0L346.7,170.1L349.9,169.9L352.2,171.3L355.5,171.6L359.8,174.2L364.8,175.3L368.1,172.8L371.7,175.5L374.7,175.9L378.3,176.9L381.9,176.6L382.3,180.1L383.7,183.2L380.2,183.7L377.7,184.8L373.7,187.3L370.3,184.9L369.7,185.8L365.1,183.5L362.8,183.6L358.9,182.0L354.6,182.7L349.9,182.5L346.6,183.9L343.7,187.4L340.0,188.6L336.4,191.0L334.0,187.6L331.1,184.5L332.2,181.4L331.0,179.0ZM360.8,185.2L365.0,185.7L369.5,184.1L373.0,184.3L372.7,189.9L374.4,193.0L374.4,195.0L371.6,199.0L367.4,198.1L364.4,198.1L363.2,196.5L359.4,192.6L360.5,188.9Z"/><path fill="#e4e4e4" d="M171.2,171.6L175.8,171.7L176.4,175.4L171.2,176.1Z"/><path fill="#d9b92e" d="M171.6,174.9L174.8,175.6L178.8,175.8L183.3,174.2L188.7,177.8L193.2,180.3L197.7,185.4L196.7,188.0L195.0,190.0L191.7,193.4L190.8,195.8L185.2,201.1L179.0,198.7L175.8,199.7L170.9,200.9L166.0,200.9L163.7,197.4L165.5,192.5L167.2,190.9L166.1,184.8L167.6,183.8L169.7,180.4ZM162.5,204.6L167.0,203.6L167.4,208.1L166.6,211.4L165.4,214.1L164.1,217.7L159.3,218.5L161.1,212.9L161.1,209.4ZM158.8,203.1L162.4,202.8L161.0,205.4L158.6,206.0ZM168.4,219.9L170.8,217.2L176.8,215.8L174.9,220.7L169.3,224.8Z"/><path fill="#e4e4e4" d="M174.2,222.5L179.2,225.2L178.9,229.1L176.1,226.9ZM195.7,230.4L199.8,229.1L205.1,230.1L203.4,234.2L199.9,234.4L195.6,236.9Z"/><path fill="#a9efbb" d="M188.4,191.5L191.6,187.5L196.1,185.5L197.5,186.7L196.1,189.8L192.6,193.0L190.9,195.4L186.5,199.8L187.5,194.5ZM195.7,178.4L199.9,177.0L204.7,173.8L208.6,175.1L213.2,176.0L211.1,178.8L207.9,180.3L203.7,183.4L200.5,182.8L198.0,184.8ZM179.4,191.8L182.3,191.4L182.5,195.0L179.6,196.2Z"/><path fill="#e4e4e4" d="M265.8,181.8L270.6,180.1L271.6,181.4L275.6,178.8L280.3,182.3L280.3,187.4L274.4,188.1L272.9,189.9L270.0,188.6L267.2,186.2ZM262.4,230.2L267.0,226.6L269.7,222.7L273.9,224.3L278.0,223.9L276.7,226.9L280.4,231.8L279.6,235.1L279.3,238.6L277.0,239.3L272.2,237.9L269.6,239.0L265.8,238.3L265.0,234.1Z"/><path fill="#d9b92e" d="M188.6,236.1L191.7,237.6L190.1,244.2L186.5,245.8L188.4,240.6Z"/><path fill="#e23a1c" d="M187.1,231.5L193.7,229.8L191.9,235.0L193.7,239.4L192.3,243.1L192.3,246.1L187.4,246.5L186.3,244.1L185.2,240.1L186.0,235.6ZM196.0,184.0L198.4,185.4L197.0,186.3L195.9,185.3Z"/><path fill="#2aa62e" d="M194.7,177.0L197.5,176.9L195.6,179.3L193.7,179.4ZM203.3,173.6L206.0,172.7L205.8,176.7L202.4,176.5ZM165.3,201.9L168.2,200.9L168.7,203.6L166.2,202.8ZM191.4,235.0L196.2,234.5L193.8,236.8L190.9,237.5Z"/><path fill="#e4e4e4" d="M193.6,232.2L200.6,231.7L201.8,236.6L195.4,235.8ZM200.5,257.7L204.1,254.8L207.6,256.1L211.1,253.4L213.3,251.8L216.1,249.9L219.4,252.2L222.8,253.4L226.5,252.0L232.8,254.4L232.0,260.6L228.9,262.5L226.2,264.0L222.6,266.6L218.8,263.7L216.2,261.5L214.4,262.4L208.1,265.3L203.9,265.3L201.3,261.1Z"/><path fill="#d9b92e" d="M184.7,260.9L189.4,262.5L192.8,267.3L192.7,269.9L193.2,272.8L194.1,275.2L191.7,272.6L188.3,269.9L186.9,267.3L186.7,262.9ZM201.7,267.8L203.7,266.0L206.7,263.6L211.6,262.4L216.4,262.8L218.9,264.0L221.2,267.2L222.5,270.4L226.6,274.5L225.3,280.8L225.2,285.2L223.1,287.4L220.1,290.1L219.1,293.6L218.5,295.7L217.8,299.9L217.2,301.9L213.7,306.5L213.0,309.6L208.8,309.2L205.0,305.4L204.0,303.8L203.2,298.4L202.8,295.4L202.2,292.2L200.2,287.1L200.6,283.7L200.2,281.8L201.3,277.5L200.2,273.4Z"/><path fill="#e4e4e4" d="M216.2,261.0L220.1,262.9L223.6,260.4L225.4,265.3L220.7,267.4L217.3,266.2Z"/><path fill="#a9efbb" d="M204.4,268.4L208.0,267.7L209.2,272.8L205.0,273.8ZM217.2,277.5L220.0,276.5L222.0,280.8L218.9,279.9Z"/><path fill="#e23a1c" d="M186.6,230.9L191.6,229.5L191.0,234.0L190.2,237.1L192.6,240.4L191.8,243.9L188.1,246.4L185.1,247.0L183.4,244.2L183.8,239.0L186.4,235.7ZM182.0,255.4L184.7,255.1L185.7,258.0L185.6,262.8L181.8,259.2ZM187.9,266.8L194.5,269.0L194.7,272.2L190.3,271.6ZM202.4,277.1L206.1,275.5L206.4,280.7L204.3,280.0ZM208.4,280.3L209.7,281.0L211.6,285.6L212.8,288.0L210.1,287.9L208.9,283.7ZM207.2,297.4L211.0,298.5L214.2,296.9L216.0,300.0L210.6,302.6L208.1,300.4ZM209.5,295.0L211.8,294.5L212.4,299.5L211.1,301.5L212.6,305.8L210.4,305.2L209.2,302.2L209.7,298.4ZM202.6,288.0L203.1,288.4L202.4,292.5L199.7,292.5Z"/><path fill="#2aa62e" d="M192.1,233.4L194.0,233.4L194.9,236.0L191.6,237.9ZM206.9,274.2L208.5,272.8L207.3,274.4L205.9,275.5Z"/><path fill="#e4e4e4" d="M262.3,232.6L265.2,229.0L266.7,228.3L269.7,222.3L273.1,225.8L278.0,225.7L278.9,229.6L279.7,231.4L276.5,233.6L271.6,237.3L267.9,237.6L265.7,237.5L262.5,235.6ZM276.1,227.4L280.5,226.5L285.1,226.8L289.2,227.2L292.5,228.2L293.5,231.3L293.0,235.6L293.0,241.3L291.4,243.0L288.9,247.7L287.5,251.4L286.4,246.8L283.1,240.2L283.1,236.6L279.4,236.9L278.5,232.7ZM312.4,228.7L313.0,225.3L317.2,224.7L321.9,227.1L324.9,232.2L324.1,235.0L323.2,236.8L322.0,241.9L318.3,241.7L314.2,241.4L314.7,239.1L312.5,237.0L312.5,233.3ZM293.6,253.8L298.7,253.1L301.5,250.1L305.5,246.8L307.3,244.8L311.1,241.2L311.6,244.9L313.8,247.7L316.4,250.5L315.4,255.5L313.3,257.4L315.4,263.3L310.8,266.6L314.1,269.4L311.2,274.1L310.9,277.0L308.1,281.0L306.3,282.9L304.5,284.7L301.8,279.4L300.8,277.3L299.4,274.4L297.7,270.6L296.3,268.4L297.5,264.4L295.4,262.5L294.0,257.3Z"/><path fill="#a9efbb" d="M281.4,229.9L283.1,229.1L286.9,229.1L291.1,229.8L292.4,233.6L293.0,236.8L290.3,237.4L284.6,241.0L282.2,236.7L280.0,236.1ZM311.5,259.9L314.6,259.2L318.5,259.5L318.3,261.2L320.3,266.0L317.8,270.6L311.6,268.6L312.1,263.0ZM294.1,291.5L296.8,290.2L300.0,288.0L302.0,284.6L307.4,282.4L309.5,280.5L312.7,283.2L310.3,288.6L310.5,290.8L308.2,295.0L305.5,297.9L302.5,299.2L300.3,299.9L296.2,300.0L292.7,297.8L295.2,295.3Z"/><path fill="#d9b92e" d="M281.0,227.7L286.8,227.7L286.2,231.9L281.2,232.9ZM316.7,256.4L318.5,257.8L318.2,259.8L316.0,258.0ZM319.3,265.1L320.0,263.3L320.5,267.5L319.0,266.0Z"/><path fill="#2aa62e" d="M294.7,289.5L301.7,290.0L301.2,293.0L296.5,294.2ZM296.8,298.1L300.0,296.9L302.9,297.4L297.1,298.0ZM307.6,281.4L308.2,282.1L308.9,285.8L305.3,286.1Z"/><path fill="#a9efbb" d="M304.7,186.4L307.5,184.4L311.8,185.5L314.4,185.7L317.2,186.1L319.7,191.6L315.3,192.2L312.8,192.5L309.5,191.7L306.4,192.6Z"/><path fill="#d9b92e" d="M285.1,178.3L289.6,176.5L291.3,182.6L292.2,186.3L288.7,183.6L288.1,181.2ZM314.5,190.1L317.3,190.0L317.9,192.7L314.6,192.8ZM318.8,183.2L321.6,184.3L321.5,185.9L318.7,185.5Z"/><path fill="#2aa62e" d="M281.3,176.5L285.5,177.0L287.0,181.6L283.0,182.6Z"/><path fill="#a9efbb" d="M350.9,198.7L353.3,194.8L356.1,193.4L359.2,196.0L361.7,197.7L365.3,198.6L368.2,200.0L370.6,202.5L374.5,204.5L377.3,204.9L379.6,208.4L376.5,211.0L375.5,213.1L373.0,215.6L369.2,220.4L368.0,224.4L365.1,227.9L366.1,228.8L364.8,233.7L363.8,230.9L361.1,225.8L359.0,224.4L357.0,220.3L354.8,216.1L354.3,215.2L352.1,211.7L350.6,208.4L351.1,205.7L350.6,203.1Z"/><path fill="#d9b92e" d="M370.2,204.0L376.0,204.0L375.4,205.1L370.5,206.6Z"/><path fill="#2aa62e" d="M359.5,216.6L362.8,219.1L363.5,222.6L365.5,224.9L365.4,229.2L364.1,232.3L362.5,230.3L360.8,227.7L360.7,223.5L358.1,220.6ZM357.7,209.3L360.9,209.5L359.8,212.7L358.6,212.5Z"/><path fill="#e4e4e4" d="M377.8,209.2L382.2,209.2L383.3,212.3L385.6,216.1L391.7,214.8L395.5,214.0L398.1,218.6L399.1,221.7L400.0,224.5L398.2,228.7L394.4,230.3L392.1,229.5L388.9,227.8L386.2,225.4L385.7,220.6L382.1,220.1L381.0,216.5L380.3,211.9Z"/><path fill="#a9efbb" d="M382.5,188.3L383.6,184.6L386.7,182.3L389.5,179.5L391.7,178.8L394.9,175.9L399.2,177.1L403.9,178.1L406.0,176.7L409.8,178.1L411.3,184.2L408.6,184.2L404.0,186.4L402.6,190.6L403.0,191.7L404.7,195.4L406.3,198.1L405.8,201.5L407.2,205.2L404.8,209.2L403.7,211.3L398.7,214.0L395.9,214.5L392.1,215.3L386.2,214.3L384.4,212.2L381.0,209.5L380.6,206.9L378.5,204.0L381.5,199.9L383.6,198.3L382.7,191.8Z"/><path fill="#d9b92e" d="M390.6,171.4L393.3,169.1L396.4,168.7L399.7,171.0L404.1,172.7L407.1,173.8L412.1,175.4L411.3,179.8L406.6,178.6L402.8,176.4L397.4,177.7L391.6,174.7ZM403.8,184.5L407.9,182.8L409.2,186.7L409.2,189.9L405.1,189.1ZM385.6,200.2L388.2,199.0L388.4,204.5L387.0,203.4ZM382.2,205.2L384.7,206.0L383.5,208.3L380.7,208.9ZM388.9,207.2L389.9,207.0L390.2,210.0L385.9,209.7ZM371.1,204.5L375.4,202.8L376.0,205.2L371.3,205.5ZM394.1,187.0L395.4,187.4L396.0,189.9L393.0,190.6Z"/><path fill="#2aa62e" d="M388.3,182.4L393.0,180.5L394.4,183.1L388.2,186.0ZM380.1,194.6L380.6,193.1L383.9,200.0L380.7,198.5ZM376.8,200.5L378.4,199.8L379.2,205.3L375.2,204.4Z"/><path fill="#e4e4e4" d="M263.7,231.1L268.0,227.5L271.2,223.9L274.5,223.4L275.9,223.4L280.1,228.3L281.8,229.4L284.3,228.9L286.9,228.3L290.5,228.8L290.9,231.2L292.1,233.4L290.4,236.4L289.0,239.7L284.8,239.6L282.0,239.0L277.4,240.1L273.3,239.7L267.2,237.8L265.7,233.4Z"/><path fill="#a9efbb" d="M278.6,231.5L283.6,229.6L288.9,230.1L289.5,234.5L289.1,237.0L285.7,239.0L281.7,237.1L280.8,233.5Z"/><path fill="#d9b92e" d="M277.5,225.8L283.0,226.9L286.4,226.1L287.8,231.9L283.7,232.7L279.8,233.7Z"/><path fill="#e4e4e4" d="M310.9,232.6L315.3,227.2L320.7,224.3L321.0,224.7L324.4,228.9L325.2,233.0L325.0,235.7L323.3,238.8L318.8,240.2L314.9,240.0L312.5,238.4L313.2,234.0ZM377.6,215.0L381.6,215.0L384.2,214.0L389.4,214.6L391.0,214.8L397.2,216.5L399.3,214.7L398.1,219.2L399.8,222.1L397.6,227.2L399.2,231.0L396.3,232.0L393.3,230.3L390.4,227.7L388.7,224.4L385.4,223.3L383.8,222.4L381.7,218.5ZM386.2,229.1L390.6,230.1L392.4,231.6L391.4,235.2L392.4,237.8L394.5,242.2L390.0,240.8L390.6,239.6L387.7,235.0L387.7,231.7ZM382.9,237.1L387.1,235.3L389.9,236.8L393.3,236.9L398.9,236.9L399.2,239.5L400.9,243.2L401.7,248.0L402.5,249.5L404.7,252.9L405.1,255.8L406.5,259.3L407.8,261.2L404.6,261.5L400.4,261.7L398.1,261.0L393.6,261.5L392.2,258.7L391.2,255.3L390.4,252.8L387.9,248.4L388.1,246.8L385.0,241.9L384.0,240.7ZM398.8,236.0L401.7,236.7L404.4,237.7L409.7,235.3L413.2,234.1L414.8,238.4L412.8,240.4L413.7,244.8L413.1,248.5L412.7,252.7L413.0,255.3L409.0,254.6L404.5,254.4L400.4,254.7L400.2,250.0L399.2,246.4L400.4,243.7L399.7,239.9ZM411.6,246.8L416.6,245.2L416.9,250.0L416.7,252.4L416.9,257.3L411.8,256.4L410.3,253.0L412.1,249.5ZM423.7,247.1L427.5,247.2L432.9,247.2L436.4,250.7L440.4,250.9L443.5,250.2L446.4,251.4L446.2,254.6L447.4,258.5L447.0,261.7L445.3,265.1L443.8,264.0L440.2,262.6L436.3,264.4L431.5,262.4L427.5,262.0L427.9,258.7L427.1,253.9L426.6,251.5ZM435.8,283.7L438.4,282.9L442.1,284.8L442.7,287.6L443.8,292.3L441.4,295.1L438.9,299.6L438.0,302.6L434.7,304.0L431.6,306.4L428.8,307.8L424.2,303.6L425.9,299.0L428.3,296.9L431.7,293.4L435.2,291.9L435.0,287.5ZM364.1,230.8L369.8,230.6L371.0,234.8L371.0,240.3L364.8,238.7L364.4,235.5Z"/><path fill="#e4e4e4" d="M182.0,188.5h1.3v1.3h-1.3zM179.4,197.6h3.9v2.6h-3.9zM185.9,200.2h2.6v1.3h-2.6zM171.6,189.8h2.6v2.6h-2.6zM172.9,175.5h2.6v1.3h-2.6zM161.2,213.2h1.3v1.3h-1.3zM192.4,192.4h3.9v1.3h-3.9zM200.2,176.8h1.3v1.3h-1.3zM211.9,176.8h3.9v1.3h-3.9zM192.4,267.8h1.3v1.3h-1.3zM217.1,284.7h1.3v3.9h-1.3zM209.3,271.7h1.3v1.3h-1.3zM211.9,269.1h3.9v3.9h-3.9zM218.4,291.2h1.3v2.6h-1.3zM211.9,291.2h1.3v1.3h-1.3zM208.0,267.8h1.3v3.9h-1.3zM201.5,278.2h3.9v2.6h-3.9zM211.9,282.1h3.9v1.3h-3.9zM223.6,282.1h2.6v3.9h-2.6zM219.7,269.1h1.3v1.3h-1.3zM206.7,300.3h3.9v3.9h-3.9zM208.0,279.5h1.3v3.9h-1.3zM210.6,306.8h2.6v3.9h-2.6zM214.5,304.2h3.9v1.3h-3.9zM291.2,235.3h1.3v2.6h-1.3zM313.3,263.9h2.6v3.9h-2.6zM318.5,263.9h2.6v2.6h-2.6zM305.5,292.5h2.6v3.9h-2.6zM300.3,299.0h1.3v1.3h-1.3zM312.0,191.1h1.3v3.9h-1.3zM315.9,192.4h1.3v1.3h-1.3zM370.5,213.2h2.6v1.3h-2.6zM369.2,204.1h2.6v2.6h-2.6zM357.5,206.7h2.6v3.9h-2.6zM371.8,213.2h3.9v2.6h-3.9zM369.2,218.4h1.3v3.9h-1.3zM366.6,209.3h1.3v3.9h-1.3zM364.0,200.2h1.3v1.3h-1.3zM383.5,185.9h1.3v1.3h-1.3zM409.5,180.7h2.6v2.6h-2.6zM395.2,211.9h2.6v2.6h-2.6zM399.1,211.9h2.6v1.3h-2.6zM383.5,210.6h1.3v1.3h-1.3zM399.1,211.9h1.3v2.6h-1.3zM393.9,182.0h2.6v1.3h-2.6zM392.6,170.3h2.6v2.6h-2.6zM405.6,183.3h1.3v1.3h-1.3zM386.1,200.2h2.6v3.9h-2.6zM283.4,236.6h1.3v1.3h-1.3z"/><path fill="#d9b92e" d="M196.3,188.5h2.6v1.3h-2.6zM205.4,178.1h3.9v3.9h-3.9zM179.4,196.3h1.3v1.3h-1.3zM192.4,237.9h2.6v2.6h-2.6zM192.4,231.4h1.3v2.6h-1.3zM195.0,178.1h1.3v2.6h-1.3zM189.8,241.8h1.3v1.3h-1.3zM188.5,241.8h2.6v3.9h-2.6zM189.8,239.2h1.3v1.3h-1.3zM195.0,270.4h1.3v2.6h-1.3zM205.4,276.9h3.9v2.6h-3.9zM213.2,297.7h1.3v1.3h-1.3zM211.9,295.1h2.6v3.9h-2.6zM286.0,239.2h2.6v2.6h-2.6zM292.5,235.3h3.9v1.3h-3.9zM297.7,299.0h3.9v1.3h-3.9zM305.5,288.6h1.3v1.3h-1.3zM299.0,296.4h1.3v1.3h-1.3zM296.4,292.5h1.3v2.6h-1.3zM306.8,189.8h1.3v1.3h-1.3zM309.4,189.8h1.3v1.3h-1.3zM360.1,202.8h2.6v2.6h-2.6zM357.5,197.6h1.3v1.3h-1.3zM356.2,193.7h2.6v1.3h-2.6zM361.4,213.2h2.6v2.6h-2.6zM369.2,210.6h1.3v1.3h-1.3zM361.4,211.9h2.6v1.3h-2.6zM366.6,218.4h1.3v2.6h-1.3zM364.0,219.7h1.3v2.6h-1.3zM386.1,204.1h2.6v2.6h-2.6zM401.7,195.0h3.9v2.6h-3.9zM397.8,211.9h3.9v2.6h-3.9zM405.6,200.2h2.6v2.6h-2.6zM387.4,197.6h1.3v2.6h-1.3zM396.5,178.1h1.3v1.3h-1.3zM380.9,202.8h1.3v3.9h-1.3zM390.0,189.8h2.6v2.6h-2.6zM396.5,208.0h2.6v1.3h-2.6zM391.3,187.2h1.3v1.3h-1.3zM399.1,213.2h2.6v3.9h-2.6zM399.1,183.3h2.6v2.6h-2.6zM391.3,188.5h1.3v1.3h-1.3z"/><path fill="#a9efbb" d="M288.6,170.3h2.6v1.3h-2.6zM308.1,175.5h3.9v1.3h-3.9zM344.5,204.1h2.6v1.3h-2.6zM305.5,166.4h1.3v1.3h-1.3zM296.4,182.0h2.6v2.6h-2.6zM305.5,163.8h2.6v2.6h-2.6zM317.2,167.7h2.6v1.3h-2.6zM292.5,172.9h1.3v3.9h-1.3zM328.9,172.9h3.9v3.9h-3.9zM352.3,187.2h1.3v1.3h-1.3zM179.4,176.8h2.6v3.9h-2.6zM169.0,196.3h2.6v2.6h-2.6zM189.8,188.5h1.3v2.6h-1.3zM171.6,183.3h2.6v3.9h-2.6zM182.0,184.6h2.6v2.6h-2.6zM182.0,183.3h2.6v1.3h-2.6zM171.6,191.1h3.9v3.9h-3.9zM189.8,187.2h1.3v2.6h-1.3zM170.3,180.7h2.6v3.9h-2.6zM184.6,197.6h3.9v1.3h-3.9zM180.7,179.4h1.3v3.9h-1.3zM192.4,232.7h2.6v1.3h-2.6zM191.1,234.0h2.6v1.3h-2.6zM221.0,261.3h2.6v2.6h-2.6zM218.4,279.5h1.3v3.9h-1.3zM215.8,271.7h1.3v1.3h-1.3zM204.1,293.8h2.6v3.9h-2.6zM205.4,266.5h1.3v1.3h-1.3zM215.8,273.0h1.3v1.3h-1.3zM201.5,286.0h2.6v2.6h-2.6zM214.5,302.9h2.6v2.6h-2.6zM215.8,283.4h2.6v1.3h-2.6zM206.7,291.2h3.9v1.3h-3.9zM208.0,289.9h2.6v2.6h-2.6zM188.5,236.6h1.3v2.6h-1.3zM292.5,230.1h1.3v1.3h-1.3zM306.8,265.2h3.9v3.9h-3.9zM284.7,178.1h3.9v1.3h-3.9zM358.8,221.0h1.3v2.6h-1.3zM365.3,228.8h2.6v1.3h-2.6zM382.2,211.9h2.6v1.3h-2.6zM405.6,178.1h1.3v1.3h-1.3zM393.9,187.2h2.6v2.6h-2.6zM392.6,182.0h1.3v1.3h-1.3zM382.2,198.9h1.3v1.3h-1.3zM288.6,230.1h1.3v3.9h-1.3zM284.7,227.5h1.3v1.3h-1.3zM286.0,230.1h1.3v1.3h-1.3zM321.1,236.6h1.3v1.3h-1.3zM395.2,222.3h3.9v1.3h-3.9zM390.0,244.4h2.6v1.3h-2.6zM409.5,239.2h1.3v2.6h-1.3zM442.0,288.6h2.6v1.3h-2.6z"/><path fill="#e23a1c" d="M170.3,195.0h3.9v3.9h-3.9zM182.0,176.8h1.3v2.6h-1.3zM169.0,189.8h3.9v2.6h-3.9zM179.4,191.1h1.3v1.3h-1.3zM161.2,209.3h3.9v1.3h-3.9zM188.5,263.9h1.3v2.6h-1.3zM224.9,276.9h1.3v1.3h-1.3zM406.9,176.8h2.6v1.3h-2.6zM399.1,171.6h1.3v1.3h-1.3z"/><path fill="#2aa62e" d="M188.5,185.9h2.6v1.3h-2.6zM189.8,178.1h3.9v2.6h-3.9zM170.3,222.3h1.3v3.9h-1.3zM218.4,275.6h1.3v2.6h-1.3zM214.5,291.2h2.6v1.3h-2.6zM214.5,280.8h2.6v2.6h-2.6zM208.0,282.1h1.3v3.9h-1.3zM211.9,280.8h1.3v3.9h-1.3zM291.2,231.4h3.9v3.9h-3.9zM302.9,293.8h1.3v2.6h-1.3zM306.8,293.8h2.6v2.6h-2.6zM297.7,297.7h3.9v1.3h-3.9zM358.8,205.4h3.9v3.9h-3.9zM367.9,222.3h2.6v2.6h-2.6zM358.8,222.3h2.6v2.6h-2.6zM353.6,206.7h2.6v2.6h-2.6zM369.2,204.1h1.3v2.6h-1.3zM393.9,197.6h1.3v1.3h-1.3zM395.2,208.0h2.6v1.3h-2.6zM399.1,202.8h1.3v2.6h-1.3zM387.4,188.5h1.3v3.9h-1.3zM399.1,205.4h2.6v1.3h-2.6zM405.6,206.7h3.9v1.3h-3.9zM390.0,179.4h1.3v2.6h-1.3zM401.7,206.7h3.9v1.3h-3.9zM404.3,198.9h2.6v2.6h-2.6zM405.6,202.8h1.3v2.6h-1.3zM286.0,237.9h1.3v1.3h-1.3z"/><path fill="#b3b3b3" d="M297.7,182.0h2.6v3.9h-2.6zM341.9,167.7h2.6v1.3h-2.6zM308.1,163.8h1.3v1.3h-1.3zM278.2,178.1h1.3v1.3h-1.3zM309.4,170.3h1.3v1.3h-1.3zM300.3,187.2h2.6v1.3h-2.6zM390.0,175.5h1.3v1.3h-1.3zM327.6,193.7h1.3v2.6h-1.3zM330.2,200.2h1.3v2.6h-1.3zM343.2,169.0h1.3v1.3h-1.3zM288.6,184.6h3.9v3.9h-3.9zM339.3,198.9h2.6v1.3h-2.6zM288.6,183.3h1.3v2.6h-1.3zM312.0,166.4h2.6v2.6h-2.6zM331.5,171.6h3.9v1.3h-3.9zM314.6,175.5h2.6v2.6h-2.6zM340.6,193.7h1.3v1.3h-1.3zM313.3,165.1h3.9v2.6h-3.9zM328.9,165.1h1.3v2.6h-1.3zM341.9,198.9h3.9v2.6h-3.9zM388.7,172.9h1.3v1.3h-1.3zM331.5,195.0h2.6v2.6h-2.6zM291.2,171.6h2.6v2.6h-2.6zM370.5,170.3h2.6v1.3h-2.6zM352.3,183.3h2.6v1.3h-2.6zM364.0,171.6h2.6v3.9h-2.6zM356.2,183.3h3.9v1.3h-3.9zM273.0,182.0h1.3v1.3h-1.3zM276.9,224.9h1.3v2.6h-1.3zM266.5,237.9h3.9v1.3h-3.9zM196.3,235.3h1.3v3.9h-1.3zM215.8,252.2h3.9v2.6h-3.9zM218.4,257.4h2.6v2.6h-2.6zM265.2,228.8h2.6v2.6h-2.6zM289.9,237.9h1.3v1.3h-1.3zM315.9,240.5h1.3v2.6h-1.3zM314.6,224.9h1.3v2.6h-1.3zM309.4,279.5h2.6v2.6h-2.6zM312.0,271.7h1.3v1.3h-1.3zM304.2,258.7h3.9v2.6h-3.9zM306.8,269.1h2.6v2.6h-2.6zM306.8,250.9h2.6v2.6h-2.6zM382.2,214.5h1.3v2.6h-1.3zM267.8,228.8h1.3v1.3h-1.3zM278.2,239.2h2.6v1.3h-2.6zM322.4,239.2h1.3v1.3h-1.3zM391.3,221.0h3.9v2.6h-3.9zM397.8,256.1h2.6v1.3h-2.6zM397.8,258.7h2.6v2.6h-2.6zM400.4,239.2h1.3v1.3h-1.3zM416.0,248.3h1.3v1.3h-1.3zM436.8,261.3h1.3v2.6h-1.3zM430.3,258.7h2.6v2.6h-2.6zM436.8,289.9h2.6v3.9h-2.6zM436.8,288.6h2.6v2.6h-2.6zM369.2,237.9h1.3v2.6h-1.3z"/></g><use href="#land" fill="none" stroke="#141414" stroke-width="0.7"/><use href="#lakes" fill="#fff" stroke="#141414" stroke-width="0.6"/><path d="M221.6,248.6L216.9,251.7L212.2,250.2L207.5,253.3L203.6,250.2L199.7,252.5L193.4,252.5M293.2,252.0L295.8,246.3L299.7,243.9L303.6,245.5M295.8,246.3L295.2,243.0" fill="none" stroke="#1a1a1a" stroke-width="0.6"/></g><use href="#frame" fill="none" stroke="#000" stroke-width="2"/></g><g transform="translate(0,227.1)"><g clip-path="url(#fc)"><use href="#land" fill="#b3b3b3"/><g clip-path="url(#lc)"><path fill="#d9b92e" d="M147.3,184.9L152.5,186.2L152.2,189.0L153.8,192.9L149.7,192.3L149.0,189.5ZM176.4,192.6L178.5,191.6L182.1,192.5L181.4,195.5L181.2,198.4L175.9,200.2L173.3,202.3L170.8,203.7L169.5,200.5L174.5,197.5ZM159.1,213.4L161.1,216.8L164.2,215.6L168.5,219.9L172.1,219.7L174.4,214.4L178.4,215.1L179.4,220.6L183.1,224.9L181.6,227.6L182.4,231.1L185.2,236.2L180.7,234.6L179.3,231.8L177.6,229.5L174.2,225.9L172.0,222.7L167.3,223.4L166.8,221.8L164.0,221.3L162.3,220.9ZM182.1,211.3L185.6,212.1L189.4,208.3L192.9,211.8L196.3,210.4L200.8,210.7L199.3,216.6L199.2,220.2L195.5,220.9L192.0,220.0L187.6,220.2L185.1,220.0L181.3,222.3L181.9,215.1Z"/><path fill="#a9efbb" d="M165.7,207.7L167.1,207.8L168.3,214.8L166.1,215.4ZM162.8,216.1L168.6,217.4L168.0,219.3L166.0,221.3Z"/><path fill="#e23a1c" d="M150.6,187.6L153.6,186.3L151.1,190.4L148.4,190.6ZM176.3,192.6L178.4,191.7L177.8,193.8L175.8,193.6ZM176.2,197.4L177.7,194.6L176.8,199.7L175.0,197.3ZM175.7,224.2L177.9,224.2L178.3,226.1L174.5,225.6Z"/><path fill="#d9b92e" d="M269.1,181.5L274.1,182.8L274.4,188.3L274.7,188.9L267.8,191.2L268.9,187.3Z"/><path fill="#a9efbb" d="M275.9,182.7L279.7,181.1L280.8,186.3L275.0,185.3ZM183.4,252.1L183.9,246.5L183.4,243.2L184.9,238.8L184.9,235.4L188.0,231.3L190.7,231.7L195.0,229.0L198.0,229.5L201.4,230.7L205.3,231.5L208.3,233.7L209.2,237.2L211.4,237.1L213.8,239.7L216.1,243.3L218.8,246.4L221.5,249.5L225.1,248.0L229.0,249.3L232.6,253.1L234.1,256.4L235.9,259.8L234.8,263.6L234.1,267.3L231.8,270.8L231.5,274.6L229.8,278.2L230.1,280.4L227.1,284.2L224.8,287.0L222.8,290.1L221.7,293.0L221.0,296.0L219.0,297.8L217.3,302.3L214.4,303.7L211.9,307.6L210.4,303.9L207.8,303.3L206.0,298.0L206.9,295.2L205.9,291.4L205.0,289.5L204.0,284.7L203.0,280.6L200.3,278.8L197.2,273.7L194.0,271.7L191.2,270.0L188.6,267.2L187.2,262.4L186.6,259.0L183.0,257.8Z"/><path fill="#d9b92e" d="M185.9,234.9L188.8,232.9L191.9,230.8L195.6,228.1L197.1,231.0L202.1,231.8L205.4,232.0L207.8,234.7L209.1,236.5L211.6,239.2L214.1,240.5L217.1,245.0L218.7,250.2L212.8,252.0L209.0,254.1L205.8,252.8L201.5,252.1L195.9,250.9L191.6,252.3L189.0,250.6L186.3,248.0L185.4,242.5L185.2,239.8ZM212.3,252.0L218.1,252.2L222.2,251.7L226.1,251.3L229.1,253.5L233.2,253.8L233.6,257.1L233.5,260.3L232.0,263.7L228.1,266.6L225.2,267.3L224.2,268.8L220.9,266.8L217.6,264.8L215.0,264.0L211.8,260.7L213.2,257.0ZM195.7,266.1L201.5,268.3L203.5,268.2L203.9,271.5L206.1,273.5L206.2,276.9L202.4,280.6L200.7,277.3L199.3,274.0L196.8,270.4ZM211.6,276.5L215.9,276.7L220.5,276.6L220.3,281.2L221.7,284.4L216.9,284.5L215.8,287.9L211.3,284.3ZM217.9,268.2L222.0,267.7L221.3,275.0L216.9,272.6ZM208.0,299.0L211.2,300.3L212.5,303.0L208.7,303.3Z"/><path fill="#b3b3b3" d="M192.4,242.3L196.4,239.2L201.3,237.9L203.1,242.2L203.7,247.5L200.5,249.9L194.3,250.1L193.2,246.6L192.9,243.2Z"/><path fill="#e23a1c" d="M183.7,256.6L187.6,255.9L189.7,257.5L192.5,260.9L195.8,264.2L195.0,266.8L197.7,271.6L192.9,272.8L189.6,269.4L185.9,267.2L185.3,262.6L183.6,260.4ZM189.5,235.3L191.2,235.3L191.8,236.4L187.4,237.3ZM197.0,232.2L201.4,234.9L203.0,236.7L196.9,236.0ZM206.5,241.0L209.2,242.1L211.2,245.9L207.6,246.0ZM211.8,241.0L216.8,241.0L218.1,245.7L213.5,247.1ZM217.5,248.4L221.7,248.5L224.6,249.4L225.0,254.0L220.9,251.8L219.2,251.7Z"/><path fill="#2aa62e" d="M202.9,242.6L206.8,244.5L207.9,247.4L202.4,248.7ZM202.2,263.2L207.4,260.4L208.9,263.6L209.3,266.1L203.9,266.9L201.5,264.2ZM209.0,260.8L214.2,260.3L216.4,260.5L217.8,265.9L216.2,267.3L211.2,263.1ZM226.4,266.1L230.0,265.0L230.3,271.0L227.1,272.7ZM207.1,278.2L211.5,277.9L210.3,283.0L207.2,282.7ZM212.0,296.9L218.9,297.2L219.1,299.2L215.5,300.8ZM228.4,259.3L230.0,259.6L229.6,262.3L228.1,261.7ZM201.2,299.1L201.9,299.9L202.0,305.5L198.4,304.6Z"/><path fill="#a9efbb" d="M256.4,221.1L261.0,220.5L264.7,222.0L268.4,221.2L271.7,222.9L274.7,222.6L279.0,222.9L282.6,224.7L286.3,224.9L288.2,228.1L289.2,229.3L291.1,232.7L294.6,235.2L298.7,236.0L302.8,238.2L306.0,240.0L303.8,243.0L300.8,241.9L296.5,240.8L292.0,241.7L285.6,241.1L282.5,237.9L279.4,237.3L275.1,238.1L272.6,238.9L269.9,240.1L268.1,237.4L263.8,235.9L261.4,233.3L258.1,228.8L257.3,226.6Z"/><path fill="#e4e4e4" d="M301.6,223.5L306.6,223.5L310.7,223.0L314.5,222.4L318.6,222.6L321.2,222.6L324.7,221.6L325.2,225.1L326.7,229.5L324.7,234.3L325.3,235.8L323.9,240.1L322.4,238.7L319.0,240.4L314.2,239.4L311.1,240.1L307.8,239.7L304.3,237.0L303.4,235.3L303.6,229.3ZM289.6,241.4L292.2,242.5L296.4,243.7L301.0,243.4L303.3,243.5L309.2,244.0L314.4,242.0L317.6,242.1L319.2,241.5L320.1,243.8L319.8,248.4L320.4,252.0L320.0,254.5L320.0,257.2L321.4,260.8L317.9,266.1L317.5,266.8L315.9,271.4L314.6,273.1L311.1,274.7L307.8,277.0L306.6,274.6L304.5,270.0L303.1,268.0L300.3,261.3L298.5,258.4L295.3,257.3L291.2,256.1L290.7,252.2L288.8,249.3L288.9,246.2Z"/><path fill="#a9efbb" d="M311.5,243.9L316.0,242.1L318.7,242.1L322.0,240.7L326.4,240.2L323.6,246.6L324.1,249.3L321.7,252.1L320.2,255.4L321.1,250.3L319.8,246.7L316.6,245.3L313.2,244.6ZM304.7,274.7L305.8,274.5L310.8,274.5L314.9,275.4L315.7,270.7L316.6,266.0L319.6,267.1L320.2,270.2L317.6,273.5L316.2,278.0L315.1,281.0L312.5,283.6L306.4,279.8L304.3,278.5Z"/><path fill="#d9b92e" d="M263.1,223.8L265.8,225.9L269.8,224.4L271.5,226.5L271.8,230.0L268.6,232.2L265.3,231.2L264.6,228.0ZM276.5,229.1L279.3,229.8L282.3,229.1L286.6,228.4L285.9,232.5L288.0,237.1L284.4,235.6L278.7,237.3L277.8,234.1ZM290.8,229.1L297.0,227.8L301.9,227.3L302.1,232.5L303.6,235.1L299.0,235.2L295.0,234.9L294.7,231.7ZM310.0,251.0L316.7,249.8L315.4,253.0L315.6,256.6L316.5,261.1L311.2,261.4L310.1,259.5L309.5,254.4Z"/><path fill="#e23a1c" d="M290.2,256.7L295.3,258.8L300.7,258.8L303.1,262.7L304.7,266.6L301.8,270.4L300.4,273.6L294.7,273.1L290.7,272.7L291.1,270.7L289.7,266.4L289.6,259.4Z"/><path fill="#d9b92e" d="M294.6,265.7L298.9,267.7L297.4,270.8L293.5,269.8Z"/><path fill="#e23a1c" d="M307.6,269.9L308.0,267.2L311.7,268.2ZM270.2,232.0L273.1,232.5L272.3,237.4L270.8,237.4Z"/><path fill="#2aa62e" d="M271.5,222.5L274.7,224.3L277.4,225.7L281.1,224.4L285.2,224.2L285.2,229.3L283.0,229.5L280.0,230.1L275.1,229.6L271.6,231.6L271.2,226.9ZM302.4,289.6L304.1,286.8L306.9,283.9L311.4,287.9L310.6,292.6L309.3,296.2L304.8,299.9L302.4,299.5L298.9,300.5L295.7,301.3L294.8,299.1L299.0,298.2L302.9,297.9L301.8,292.1ZM322.7,271.6L330.3,271.4L330.0,274.2L329.4,279.0L330.7,280.8L328.3,286.5L328.6,290.1L323.6,290.2L324.6,285.5L324.1,282.2L325.0,279.1L324.1,275.5Z"/><path fill="#e4e4e4" d="M296.5,174.4L301.0,171.5L305.2,172.0L308.7,170.7L311.8,171.5L315.5,171.4L319.5,173.6L322.7,174.9L323.6,177.5L324.9,183.6L317.8,184.7L315.5,179.1L312.4,177.1L308.6,178.7L305.2,179.9L301.3,181.8L296.1,178.4ZM353.7,161.4L356.3,161.1L361.1,160.8L363.4,161.7L367.2,161.8L370.4,161.0L372.2,166.2L368.1,170.2L365.1,171.7L362.6,169.7L359.5,169.3L353.7,165.6ZM337.7,180.6L339.6,179.9L343.6,178.0L348.7,178.1L351.4,176.2L354.8,179.3L357.2,180.9L359.0,183.5L358.6,186.1L356.7,187.5L354.3,187.2L348.2,189.0L351.5,193.9L351.2,199.2L348.2,196.7L342.8,198.1L341.6,196.4L339.4,193.1L338.2,190.4L336.1,186.3L337.1,183.6Z"/><path fill="#d9b92e" d="M269.5,182.5L271.5,182.4L275.0,182.7L277.2,185.5L274.7,190.7L270.8,190.3L268.0,192.0L266.8,186.7Z"/><path fill="#a9efbb" d="M271.4,182.8L274.1,181.9L275.8,185.2L270.5,186.1Z"/><path fill="#d9b92e" d="M285.1,177.8L290.3,178.0L292.9,181.1L287.5,181.5ZM275.2,180.6L279.5,182.6L279.8,185.1L277.0,184.1ZM297.0,183.5L299.8,182.7L300.1,186.7L297.1,187.1ZM305.3,183.3L309.6,183.7L311.6,183.9L314.5,184.6L318.4,183.7L321.1,183.3L322.4,188.9L318.8,192.7L315.4,190.7L310.6,191.0L306.6,191.8ZM272.3,193.2L277.1,191.2L279.5,191.8L284.1,191.6L288.7,190.4L287.1,193.4L283.7,194.8L280.6,195.3L276.7,195.5L274.1,194.0ZM307.6,200.2L312.0,198.8L311.8,203.6L313.0,206.8L312.1,209.7L306.3,209.4L307.3,207.2L307.5,202.8ZM322.6,189.4L326.1,190.3L330.6,191.9L336.0,192.3L339.9,195.1L339.5,197.8L340.7,203.3L337.6,205.1L332.6,204.9L329.7,202.1L327.6,199.5L323.2,196.2L322.1,192.8Z"/><path fill="#a9efbb" d="M338.5,190.3L343.5,190.5L344.9,193.6L346.4,198.8L343.8,200.0L341.5,200.2L339.8,195.9L336.6,191.6Z"/><path fill="#d9b92e" d="M352.9,182.5L354.3,180.9L359.1,178.8L360.9,177.7L365.1,176.2L366.8,179.5L368.4,183.0L368.6,186.2L370.5,189.3L366.1,191.7L363.1,192.8L359.5,193.5L356.3,192.3L354.1,190.0L353.2,187.3Z"/><path fill="#a9efbb" d="M350.6,191.7L353.3,192.3L357.4,193.2L358.1,194.8L358.7,198.4L357.8,200.1L355.5,202.9L352.0,206.2L348.5,203.2L347.8,199.8L348.1,194.5ZM347.7,198.9L350.7,198.3L355.3,198.9L358.3,198.1L359.2,199.8L357.7,204.6L358.7,208.1L357.0,212.7L351.5,209.0L350.5,204.4L349.0,201.2Z"/><path fill="#e4e4e4" d="M356.5,203.8L359.1,202.3L361.8,200.5L366.2,202.5L368.7,204.3L370.4,207.1L368.4,210.5L364.9,214.1L363.1,212.4L360.2,210.6L357.2,206.8Z"/><path fill="#d9b92e" d="M363.3,204.2L366.7,204.7L370.3,205.3L374.7,204.4L378.5,205.8L382.0,209.4L379.8,209.7L376.2,213.0L375.3,215.4L373.0,217.1L366.6,220.7L364.2,219.0L361.6,215.6L360.0,211.9L362.9,212.8L365.0,213.0L368.3,209.1L370.9,207.5L366.7,205.4Z"/><path fill="#a9efbb" d="M356.7,216.3L362.5,216.2L367.2,220.9L366.3,226.5L360.4,224.3L359.6,222.3L358.5,217.1Z"/><path fill="#e23a1c" d="M307.7,183.6L312.6,184.5L315.1,185.4L320.2,185.4L321.2,189.2L315.9,187.3L313.8,188.0L309.3,187.1ZM275.1,193.8L277.7,195.0L276.2,193.8L272.5,195.8ZM353.7,200.7L358.1,199.0L358.0,201.8L353.7,202.0ZM364.1,211.9L366.1,212.5L365.8,215.2L364.1,217.6ZM375.1,205.3L379.6,204.4L380.4,207.8L374.1,208.7Z"/><path fill="#2aa62e" d="M314.9,190.0L320.2,191.2L320.0,192.7L315.7,192.8ZM351.0,189.6L354.7,190.8L355.3,197.9L353.1,198.4ZM344.0,200.3L347.6,199.4L347.6,201.9L343.4,202.3ZM363.1,221.5L366.5,222.8L366.7,225.3L361.3,225.6Z"/><path fill="#a9efbb" d="M256.5,220.4L260.0,220.6L264.7,220.7L268.9,221.4L272.1,221.5L275.4,221.5L277.2,221.9L283.7,224.2L285.9,224.7L289.3,223.2L294.2,223.1L297.4,223.1L302.2,222.8L303.0,224.8L304.1,228.4L304.9,234.4L302.6,236.9L303.5,240.2L300.2,242.5L297.2,245.6L293.7,244.3L288.7,241.8L286.1,238.8L280.3,240.1L277.2,239.6L275.1,240.9L268.8,239.4L264.9,240.8L262.1,237.6L260.1,232.3L256.8,231.4L256.5,226.3Z"/><path fill="#e4e4e4" d="M304.2,224.7L306.4,225.4L311.3,224.0L312.7,223.9L314.8,223.7L319.9,223.6L323.4,222.5L323.3,226.0L324.5,229.4L324.2,231.7L323.7,235.3L324.7,240.3L321.2,238.3L319.1,240.7L315.2,239.6L311.8,240.2L308.2,239.7L305.5,236.7L303.5,233.4L301.6,229.4Z"/><path fill="#a9efbb" d="M313.0,240.6L316.6,240.1L320.4,239.8L324.8,239.4L328.4,238.9L328.8,242.6L327.4,245.7L324.7,247.0L320.5,246.7L316.4,245.3L312.4,246.1L311.3,242.8Z"/><path fill="#d9b92e" d="M258.6,223.1L263.4,223.4L266.0,222.6L271.4,223.3L270.9,227.4L270.9,230.8L276.3,234.2L278.6,236.7L283.9,236.9L278.2,240.2L273.9,237.5L271.9,236.1L266.7,233.8L264.0,231.7L260.4,230.4L261.1,227.4ZM290.7,228.2L293.9,228.9L297.8,227.5L300.8,227.2L303.2,231.1L303.6,236.8L299.8,239.0L295.9,240.3L293.7,236.9L292.9,234.5Z"/><path fill="#e23a1c" d="M270.7,232.9L271.8,232.8L271.9,237.2L271.4,238.3ZM295.1,243.9L296.7,242.4L297.7,246.6L296.9,247.2ZM324.3,232.8L325.4,231.4L324.1,232.5L324.4,234.4Z"/><path fill="#2aa62e" d="M267.7,224.4L271.4,223.5L274.4,225.1L276.6,224.6L282.0,224.5L282.9,226.8L279.1,229.1L273.0,229.7L268.6,227.6ZM284.7,236.7L288.4,237.8L288.6,240.2L284.2,242.1Z"/><path fill="#e4e4e4" d="M352.7,161.7L356.5,161.8L360.5,162.2L363.8,161.0L367.9,161.1L370.6,160.4L371.7,166.9L367.3,168.8L365.7,171.5L361.7,170.7L360.7,168.3L354.6,166.1Z"/><path fill="#d9b92e" d="M395.4,175.9L396.7,173.7L399.8,172.1L403.6,171.8L406.7,174.2L410.0,176.3L410.8,179.4L411.9,185.2L407.9,186.1L405.5,186.1L404.7,193.6L407.6,199.2L408.7,201.8L407.5,205.8L405.3,207.5L404.2,212.3L401.7,210.8L396.4,214.0L392.4,211.4L389.7,211.9L385.2,210.2L382.4,210.0L379.7,208.3L375.7,209.6L374.0,205.8L377.3,202.0L380.4,200.0L385.7,198.6L387.4,195.7L387.4,192.3L389.2,189.1L390.8,186.6L394.0,184.0L393.5,180.6ZM416.0,191.9L418.0,188.9L420.5,186.0L421.0,183.9L422.4,179.3L426.1,182.7L425.6,183.6L426.5,189.2L424.1,192.8L421.0,194.2L419.4,196.2ZM408.7,187.9L412.6,188.6L413.4,194.3L410.8,192.9Z"/><path fill="#a9efbb" d="M384.1,186.9L387.9,185.6L390.1,184.1L390.4,191.3L384.6,189.5ZM380.7,208.9L383.3,209.8L386.7,209.8L387.8,214.0L386.3,216.6L384.1,216.6L381.7,213.1ZM394.6,198.5L397.6,198.9L400.4,201.3L401.2,202.5L396.3,202.0L393.3,202.4ZM391.9,219.7L396.1,221.2L398.6,222.1L401.3,226.2L400.1,230.3L395.4,231.6L392.3,228.3L392.3,224.3Z"/><path fill="#d9b92e" d="M396.1,224.2L400.2,222.9L399.9,229.6L396.1,230.6ZM410.5,218.0L414.5,217.3L415.2,221.2L414.5,225.7L411.5,226.9L412.6,220.9Z"/><path fill="#e23a1c" d="M387.7,194.4L395.1,192.8L395.6,198.6L394.5,204.0L397.8,209.7L394.3,211.3L389.0,210.0L386.4,205.4L387.5,202.2ZM374.7,206.1L378.2,204.7L382.0,202.2L382.3,206.1L379.6,208.5L377.4,206.3ZM397.4,209.3L401.1,207.5L406.4,206.5L407.2,210.1L401.7,211.1L397.9,213.5ZM404.5,182.0L410.6,180.1L410.9,182.7L407.1,184.7Z"/><path fill="#a9efbb" d="M391.1,214.2L395.7,215.0L400.6,214.9L401.2,217.8L401.9,222.1L400.0,226.6L401.3,231.3L394.1,233.1L393.2,228.1L393.8,222.2L391.0,219.2Z"/><path fill="#d9b92e" d="M393.4,222.1L398.7,222.5L397.8,226.0L398.4,229.5L395.4,229.1L395.2,225.0ZM390.0,237.1L393.6,237.0L400.0,237.3L401.0,239.4L401.5,241.6L403.3,247.0L403.1,248.7L404.0,253.0L405.4,255.1L408.0,259.3L407.6,261.0L404.8,262.3L402.7,262.1L396.9,261.7L394.0,262.5L393.2,258.8L394.5,253.2L391.7,251.8L390.1,248.1L390.7,242.6L389.7,241.1ZM397.5,257.4L401.9,258.7L406.6,260.7L406.5,261.4L401.0,260.6L397.9,260.6Z"/><path fill="#a9efbb" d="M399.6,238.1L403.7,235.0L406.8,236.7L410.0,236.0L414.5,234.8L413.5,238.8L413.9,242.8L414.2,244.5L414.7,248.2L413.6,251.7L414.4,255.0L410.4,253.0L405.8,254.8L401.2,253.8L400.5,251.7L401.0,247.1L400.8,243.7L400.5,242.0Z"/><path fill="#d9b92e" d="M405.7,235.5L411.8,237.0L412.2,240.4L406.3,242.0ZM412.3,245.2L418.6,245.0L416.7,248.4L417.8,252.4L416.8,257.8L411.8,256.8L413.2,253.0L412.7,249.2ZM409.7,217.0L415.8,218.2L416.3,222.6L416.8,227.8L412.8,228.4L411.2,221.3ZM415.2,232.0L420.8,232.1L420.8,238.7L414.9,239.1Z"/><path fill="#e4e4e4" d="M428.0,248.2L431.4,248.8L433.3,249.3L437.2,250.3L439.9,250.1L444.0,251.1L448.2,250.4L446.4,252.9L446.5,257.3L447.1,260.9L449.0,265.2L443.8,264.6L439.8,265.4L436.3,262.8L433.1,263.2L429.4,262.7L429.4,259.3L428.5,255.3L427.2,251.5ZM425.6,299.0L427.6,297.2L431.2,297.8L434.4,296.1L435.8,301.0L436.8,304.4L431.8,306.8L428.3,308.2L425.0,304.4Z"/><path fill="#d9b92e" d="M427.3,299.1L434.9,299.1L432.0,303.1L427.6,305.6Z"/><path fill="#e23a1c" d="M411.6,252.0L417.2,252.2L416.9,254.6L413.6,253.1Z"/><path fill="#e4e4e4" d="M176.8,219.7h2.6v3.9h-2.6zM179.4,232.7h1.3v2.6h-1.3zM179.4,221.0h1.3v2.6h-1.3zM196.3,221.0h1.3v1.3h-1.3zM192.4,215.8h1.3v1.3h-1.3zM269.1,182.0h1.3v3.9h-1.3zM211.9,305.5h2.6v2.6h-2.6zM201.5,252.2h3.9v2.6h-3.9zM188.5,232.7h1.3v2.6h-1.3zM228.8,275.6h1.3v2.6h-1.3zM206.7,257.4h2.6v3.9h-2.6zM221.0,280.8h1.3v1.3h-1.3zM223.6,273.0h3.9v2.6h-3.9zM205.4,258.7h1.3v2.6h-1.3zM201.5,261.3h1.3v1.3h-1.3zM211.9,299.0h3.9v1.3h-3.9zM189.8,257.4h3.9v3.9h-3.9zM198.9,257.4h3.9v3.9h-3.9zM195.0,258.7h1.3v2.6h-1.3zM217.1,274.3h1.3v3.9h-1.3zM211.9,306.8h3.9v1.3h-3.9zM208.0,275.6h1.3v2.6h-1.3zM218.4,247.0h2.6v1.3h-2.6zM226.2,269.1h2.6v1.3h-2.6zM206.7,270.4h1.3v2.6h-1.3zM235.3,261.3h2.6v2.6h-2.6zM224.9,248.3h1.3v1.3h-1.3zM205.4,279.5h1.3v2.6h-1.3zM215.8,274.3h1.3v1.3h-1.3zM222.3,275.6h2.6v3.9h-2.6zM201.5,258.7h3.9v1.3h-3.9zM224.9,269.1h3.9v3.9h-3.9zM226.2,270.4h1.3v1.3h-1.3zM197.6,254.8h3.9v2.6h-3.9zM218.4,248.3h2.6v1.3h-2.6zM217.1,249.6h3.9v2.6h-3.9zM191.1,247.0h1.3v3.9h-1.3zM221.0,263.9h3.9v2.6h-3.9zM230.1,253.5h1.3v2.6h-1.3zM226.2,256.1h2.6v1.3h-2.6zM217.1,252.2h2.6v1.3h-2.6zM218.4,283.4h3.9v3.9h-3.9zM210.6,300.3h2.6v1.3h-2.6zM304.2,239.2h2.6v1.3h-2.6zM304.2,240.5h2.6v2.6h-2.6zM304.2,241.8h3.9v2.6h-3.9zM318.5,267.8h2.6v3.9h-2.6zM313.3,282.1h1.3v2.6h-1.3zM336.7,198.9h1.3v1.3h-1.3zM327.6,198.9h1.3v1.3h-1.3zM323.7,189.8h2.6v1.3h-2.6zM339.3,191.1h3.9v1.3h-3.9zM343.2,192.4h2.6v2.6h-2.6zM365.3,182.0h2.6v1.3h-2.6zM371.8,217.1h2.6v2.6h-2.6zM369.2,218.4h2.6v3.9h-2.6zM296.4,223.6h1.3v2.6h-1.3zM278.2,223.6h1.3v1.3h-1.3zM269.1,235.3h1.3v2.6h-1.3zM262.6,235.3h2.6v2.6h-2.6zM280.8,234.0h3.9v1.3h-3.9zM260.0,221.0h1.3v1.3h-1.3zM267.8,239.2h3.9v1.3h-3.9zM321.1,244.4h2.6v1.3h-2.6zM321.1,241.8h3.9v2.6h-3.9zM263.9,230.1h2.6v2.6h-2.6zM393.9,180.7h3.9v1.3h-3.9zM392.6,188.5h2.6v3.9h-2.6zM403.0,196.3h2.6v2.6h-2.6zM404.3,174.2h1.3v2.6h-1.3zM397.8,191.1h2.6v1.3h-2.6zM397.8,187.2h1.3v1.3h-1.3zM421.2,188.5h1.3v1.3h-1.3zM418.6,189.8h1.3v1.3h-1.3zM397.8,218.4h1.3v2.6h-1.3zM393.9,223.6h2.6v1.3h-2.6zM404.3,258.7h2.6v1.3h-2.6zM399.1,244.4h3.9v2.6h-3.9zM397.8,248.3h2.6v2.6h-2.6zM413.4,250.9h2.6v2.6h-2.6zM403.0,252.2h3.9v2.6h-3.9zM403.0,239.2h2.6v2.6h-2.6zM412.1,239.2h1.3v2.6h-1.3zM412.1,221.0h1.3v1.3h-1.3z"/><path fill="#d9b92e" d="M165.1,218.4h3.9v3.9h-3.9zM175.5,224.9h1.3v2.6h-1.3zM279.5,183.3h2.6v3.9h-2.6zM214.5,295.1h3.9v1.3h-3.9zM205.4,270.4h3.9v2.6h-3.9zM213.2,240.5h2.6v2.6h-2.6zM227.5,283.4h1.3v1.3h-1.3zM211.9,287.3h1.3v3.9h-1.3zM191.1,254.8h3.9v2.6h-3.9zM218.4,291.2h1.3v3.9h-1.3zM211.9,286.0h1.3v2.6h-1.3zM209.3,291.2h1.3v2.6h-1.3zM205.4,289.9h1.3v2.6h-1.3zM234.0,256.1h1.3v1.3h-1.3zM185.9,248.3h2.6v1.3h-2.6zM196.3,254.8h1.3v1.3h-1.3zM230.1,278.2h1.3v2.6h-1.3zM219.7,291.2h2.6v2.6h-2.6zM209.3,283.4h1.3v2.6h-1.3zM183.3,245.7h3.9v3.9h-3.9zM197.6,266.5h1.3v2.6h-1.3zM197.6,265.2h2.6v1.3h-2.6zM198.9,263.9h2.6v2.6h-2.6zM200.2,265.2h2.6v1.3h-2.6zM214.5,252.2h3.9v3.9h-3.9zM196.3,261.3h2.6v2.6h-2.6zM222.3,287.3h1.3v3.9h-1.3zM184.6,239.2h2.6v2.6h-2.6zM197.6,265.2h1.3v2.6h-1.3zM209.3,269.1h2.6v3.9h-2.6zM184.6,254.8h3.9v2.6h-3.9zM224.9,278.2h1.3v3.9h-1.3zM213.2,270.4h3.9v3.9h-3.9zM196.3,256.1h3.9v2.6h-3.9zM224.9,269.1h2.6v2.6h-2.6zM217.1,287.3h2.6v1.3h-2.6zM213.2,269.1h3.9v1.3h-3.9zM202.8,258.7h1.3v2.6h-1.3zM191.1,254.8h3.9v1.3h-3.9zM205.4,288.6h3.9v1.3h-3.9zM210.6,269.1h3.9v2.6h-3.9zM205.4,279.5h1.3v2.6h-1.3zM204.1,271.7h2.6v2.6h-2.6zM221.0,275.6h3.9v2.6h-3.9zM210.6,291.2h3.9v1.3h-3.9zM224.9,249.6h2.6v3.9h-2.6zM224.9,274.3h3.9v1.3h-3.9zM206.7,258.7h1.3v2.6h-1.3zM202.8,253.5h2.6v1.3h-2.6zM221.0,291.2h1.3v2.6h-1.3zM184.6,243.1h3.9v2.6h-3.9zM206.7,283.4h2.6v1.3h-2.6zM197.6,230.1h2.6v3.9h-2.6zM231.4,263.9h1.3v1.3h-1.3zM222.3,276.9h1.3v1.3h-1.3zM192.4,263.9h1.3v1.3h-1.3zM191.1,261.3h1.3v1.3h-1.3zM195.0,271.7h1.3v1.3h-1.3zM193.7,266.5h1.3v2.6h-1.3zM188.5,236.6h1.3v1.3h-1.3zM267.8,221.0h1.3v2.6h-1.3zM304.2,239.2h1.3v3.9h-1.3zM301.6,241.8h1.3v1.3h-1.3zM302.9,240.5h3.9v3.9h-3.9zM304.2,239.2h2.6v1.3h-2.6zM302.9,240.5h1.3v1.3h-1.3zM302.9,241.8h3.9v2.6h-3.9zM325.0,232.7h2.6v2.6h-2.6zM323.7,222.3h3.9v1.3h-3.9zM306.8,244.4h2.6v1.3h-2.6zM322.4,249.6h2.6v3.9h-2.6zM323.7,249.6h3.9v3.9h-3.9zM313.3,282.1h1.3v2.6h-1.3zM301.6,269.1h2.6v1.3h-2.6zM293.8,270.4h2.6v2.6h-2.6zM291.2,271.7h3.9v2.6h-3.9zM291.2,257.4h3.9v2.6h-3.9zM296.4,271.7h1.3v1.3h-1.3zM302.9,267.8h1.3v2.6h-1.3zM309.4,269.1h2.6v2.6h-2.6zM299.0,300.3h2.6v2.6h-2.6zM305.5,299.0h2.6v1.3h-2.6zM308.1,174.2h2.6v1.3h-2.6zM305.5,178.1h2.6v2.6h-2.6zM349.7,195.0h3.9v2.6h-3.9zM348.4,200.2h1.3v2.6h-1.3zM351.0,193.7h2.6v3.9h-2.6zM358.8,198.9h2.6v1.3h-2.6zM356.2,198.9h2.6v1.3h-2.6zM356.2,208.0h1.3v3.9h-1.3zM366.6,210.6h2.6v2.6h-2.6zM360.1,221.0h1.3v1.3h-1.3zM360.1,222.3h2.6v3.9h-2.6zM308.1,183.3h2.6v2.6h-2.6zM364.0,217.1h2.6v1.3h-2.6zM345.8,200.2h2.6v2.6h-2.6zM365.3,222.3h1.3v1.3h-1.3zM282.1,227.5h3.9v2.6h-3.9zM286.0,228.8h3.9v2.6h-3.9zM301.6,239.2h2.6v3.9h-2.6zM296.4,243.1h3.9v3.9h-3.9zM267.8,236.6h1.3v2.6h-1.3zM261.3,232.7h2.6v2.6h-2.6zM293.8,223.6h3.9v1.3h-3.9zM292.5,232.7h2.6v1.3h-2.6zM267.8,235.3h3.9v2.6h-3.9zM282.1,232.7h2.6v2.6h-2.6zM274.3,240.5h2.6v1.3h-2.6zM258.7,221.0h1.3v3.9h-1.3zM260.0,227.5h3.9v3.9h-3.9zM262.6,237.9h3.9v2.6h-3.9zM288.6,228.8h1.3v2.6h-1.3zM276.9,232.7h3.9v1.3h-3.9zM271.7,230.1h2.6v2.6h-2.6zM288.6,227.5h2.6v1.3h-2.6zM289.9,224.9h2.6v1.3h-2.6zM282.1,234.0h3.9v3.9h-3.9zM280.8,239.2h3.9v2.6h-3.9zM301.6,227.5h3.9v2.6h-3.9zM273.0,230.1h1.3v1.3h-1.3zM308.1,226.2h3.9v2.6h-3.9zM322.4,241.8h3.9v1.3h-3.9zM322.4,243.1h3.9v2.6h-3.9zM296.4,245.7h1.3v2.6h-1.3zM271.7,224.9h2.6v1.3h-2.6zM282.1,226.2h2.6v2.6h-2.6zM286.0,239.2h1.3v3.9h-1.3zM388.7,189.8h3.9v1.3h-3.9zM395.2,202.8h3.9v3.9h-3.9zM400.4,226.2h1.3v1.3h-1.3zM390.0,204.1h2.6v2.6h-2.6zM393.9,204.1h1.3v2.6h-1.3zM393.9,206.7h2.6v1.3h-2.6zM377.0,205.4h1.3v3.9h-1.3zM397.8,211.9h2.6v2.6h-2.6zM399.1,210.6h2.6v3.9h-2.6zM395.2,230.1h3.9v1.3h-3.9zM396.5,228.8h3.9v1.3h-3.9zM400.4,223.6h1.3v1.3h-1.3zM400.4,231.4h2.6v1.3h-2.6zM395.2,228.8h2.6v1.3h-2.6zM412.1,237.9h1.3v3.9h-1.3zM409.5,243.1h1.3v2.6h-1.3zM413.4,240.5h2.6v1.3h-2.6zM410.8,244.4h1.3v1.3h-1.3zM403.0,252.2h1.3v2.6h-1.3zM444.6,258.7h1.3v3.9h-1.3z"/><path fill="#a9efbb" d="M152.1,185.9h2.6v2.6h-2.6zM150.8,192.4h1.3v1.3h-1.3zM172.9,201.5h2.6v1.3h-2.6zM179.4,197.6h3.9v3.9h-3.9zM171.6,201.5h2.6v1.3h-2.6zM176.8,226.2h1.3v3.9h-1.3zM179.4,231.4h2.6v1.3h-2.6zM174.2,215.8h3.9v3.9h-3.9zM162.5,217.1h2.6v2.6h-2.6zM182.0,213.2h2.6v2.6h-2.6zM192.4,213.2h1.3v2.6h-1.3zM193.7,213.2h2.6v1.3h-2.6zM152.1,187.2h2.6v2.6h-2.6zM269.1,182.0h1.3v1.3h-1.3zM189.8,245.7h1.3v2.6h-1.3zM198.9,231.4h2.6v2.6h-2.6zM188.5,237.9h2.6v3.9h-2.6zM205.4,232.7h1.3v2.6h-1.3zM189.8,237.9h1.3v1.3h-1.3zM195.0,239.2h1.3v2.6h-1.3zM191.1,239.2h1.3v3.9h-1.3zM185.9,245.7h1.3v2.6h-1.3zM206.7,234.0h1.3v2.6h-1.3zM210.6,249.6h2.6v2.6h-2.6zM189.8,237.9h2.6v1.3h-2.6zM196.3,231.4h1.3v1.3h-1.3zM195.0,228.8h1.3v2.6h-1.3zM205.4,234.0h1.3v1.3h-1.3zM195.0,236.6h2.6v3.9h-2.6zM223.6,266.5h1.3v2.6h-1.3zM218.4,261.3h1.3v1.3h-1.3zM227.5,265.2h2.6v1.3h-2.6zM219.7,254.8h2.6v2.6h-2.6zM197.6,270.4h2.6v1.3h-2.6zM215.8,278.2h1.3v2.6h-1.3zM214.5,286.0h2.6v3.9h-2.6zM221.0,270.4h2.6v3.9h-2.6zM198.9,234.0h2.6v1.3h-2.6zM217.1,244.4h1.3v3.9h-1.3zM209.3,266.5h2.6v2.6h-2.6zM215.8,265.2h1.3v1.3h-1.3zM230.1,269.1h1.3v1.3h-1.3zM208.0,282.1h1.3v2.6h-1.3zM218.4,297.7h2.6v2.6h-2.6zM325.0,230.1h1.3v1.3h-1.3zM304.2,257.4h2.6v3.9h-2.6zM291.2,249.6h1.3v2.6h-1.3zM310.7,254.8h2.6v3.9h-2.6zM312.0,258.7h2.6v2.6h-2.6zM293.8,267.8h2.6v1.3h-2.6zM305.5,292.5h2.6v2.6h-2.6zM306.8,292.5h1.3v2.6h-1.3zM325.0,276.9h2.6v2.6h-2.6zM327.6,283.4h2.6v1.3h-2.6zM325.0,282.1h3.9v1.3h-3.9zM313.3,172.9h2.6v3.9h-2.6zM343.2,179.4h1.3v2.6h-1.3zM345.8,184.6h2.6v1.3h-2.6zM353.6,179.4h1.3v1.3h-1.3zM339.3,180.7h2.6v3.9h-2.6zM267.8,191.1h1.3v2.6h-1.3zM321.1,185.9h1.3v1.3h-1.3zM309.4,187.2h2.6v1.3h-2.6zM276.9,193.7h2.6v1.3h-2.6zM312.0,205.4h1.3v2.6h-1.3zM338.0,193.7h2.6v1.3h-2.6zM335.4,192.4h1.3v1.3h-1.3zM334.1,196.3h1.3v2.6h-1.3zM327.6,191.1h2.6v1.3h-2.6zM358.8,180.7h1.3v1.3h-1.3zM366.6,182.0h2.6v1.3h-2.6zM365.3,183.3h2.6v1.3h-2.6zM357.5,189.8h2.6v1.3h-2.6zM361.4,188.5h1.3v1.3h-1.3zM364.0,187.2h1.3v1.3h-1.3zM371.8,206.7h3.9v1.3h-3.9zM364.0,217.1h2.6v2.6h-2.6zM367.9,210.6h2.6v2.6h-2.6zM380.9,209.3h2.6v3.9h-2.6zM374.4,214.5h2.6v1.3h-2.6zM370.5,217.1h1.3v1.3h-1.3zM375.7,208.0h1.3v3.9h-1.3zM315.9,191.1h2.6v2.6h-2.6zM310.7,234.0h1.3v2.6h-1.3zM270.4,231.4h1.3v1.3h-1.3zM296.4,231.4h3.9v2.6h-3.9zM295.1,231.4h1.3v1.3h-1.3zM300.3,236.6h1.3v2.6h-1.3zM296.4,228.8h3.9v2.6h-3.9zM370.5,165.1h2.6v1.3h-2.6zM401.7,171.6h1.3v2.6h-1.3zM382.2,200.2h1.3v1.3h-1.3zM390.0,211.9h3.9v1.3h-3.9zM395.2,204.1h1.3v1.3h-1.3zM405.6,175.5h2.6v2.6h-2.6zM406.9,198.9h1.3v1.3h-1.3zM401.7,198.9h3.9v3.9h-3.9zM399.1,188.5h3.9v2.6h-3.9zM404.3,197.6h3.9v3.9h-3.9zM400.4,172.9h3.9v1.3h-3.9zM399.1,180.7h1.3v2.6h-1.3zM400.4,180.7h1.3v2.6h-1.3zM383.5,202.8h2.6v1.3h-2.6zM399.1,204.1h2.6v1.3h-2.6zM409.5,185.9h3.9v2.6h-3.9zM399.1,172.9h3.9v2.6h-3.9zM396.5,182.0h2.6v1.3h-2.6zM387.4,210.6h1.3v2.6h-1.3zM393.9,187.2h1.3v2.6h-1.3zM413.4,192.4h3.9v2.6h-3.9zM412.1,226.2h1.3v1.3h-1.3zM388.7,202.8h2.6v2.6h-2.6zM393.9,198.9h1.3v1.3h-1.3zM396.5,239.2h2.6v1.3h-2.6zM403.0,257.4h1.3v1.3h-1.3zM393.9,239.2h1.3v1.3h-1.3zM395.2,249.6h1.3v2.6h-1.3zM403.0,257.4h2.6v2.6h-2.6zM393.9,249.6h3.9v1.3h-3.9zM404.3,256.1h2.6v3.9h-2.6zM392.6,241.8h2.6v2.6h-2.6zM395.2,260.0h1.3v2.6h-1.3zM417.3,249.6h1.3v1.3h-1.3zM413.4,249.6h1.3v2.6h-1.3zM439.4,252.2h1.3v2.6h-1.3zM431.6,304.2h1.3v1.3h-1.3zM429.0,299.0h2.6v1.3h-2.6z"/><path fill="#e23a1c" d="M198.9,217.1h1.3v2.6h-1.3zM166.4,210.6h2.6v1.3h-2.6zM221.0,289.9h3.9v1.3h-3.9zM209.3,304.2h3.9v2.6h-3.9zM215.8,292.5h3.9v1.3h-3.9zM198.9,256.1h3.9v2.6h-3.9zM223.6,287.3h1.3v2.6h-1.3zM209.3,273.0h2.6v2.6h-2.6zM193.7,236.6h1.3v3.9h-1.3zM192.4,235.3h1.3v1.3h-1.3zM195.0,240.5h1.3v1.3h-1.3zM200.2,232.7h1.3v1.3h-1.3zM192.4,250.9h1.3v1.3h-1.3zM189.8,245.7h2.6v1.3h-2.6zM222.3,263.9h1.3v3.9h-1.3zM202.8,270.4h3.9v3.9h-3.9zM200.2,274.3h3.9v2.6h-3.9zM310.7,250.9h2.6v1.3h-2.6zM308.1,189.8h2.6v2.6h-2.6zM308.1,187.2h3.9v2.6h-3.9zM306.8,191.1h2.6v2.6h-2.6zM276.9,195.0h2.6v2.6h-2.6zM356.2,185.9h2.6v1.3h-2.6zM360.1,182.0h2.6v1.3h-2.6zM291.2,224.9h1.3v1.3h-1.3zM283.4,231.4h2.6v2.6h-2.6zM265.2,223.6h2.6v2.6h-2.6zM266.5,228.8h3.9v2.6h-3.9zM393.9,180.7h1.3v2.6h-1.3zM395.2,187.2h3.9v1.3h-3.9zM404.3,188.5h1.3v1.3h-1.3zM408.2,178.1h2.6v1.3h-2.6zM390.0,191.1h2.6v2.6h-2.6zM395.2,205.4h3.9v1.3h-3.9zM422.5,188.5h2.6v2.6h-2.6zM397.8,250.9h2.6v2.6h-2.6zM413.4,236.6h1.3v3.9h-1.3zM417.3,247.0h1.3v1.3h-1.3zM414.7,226.2h2.6v1.3h-2.6z"/><path fill="#2aa62e" d="M184.6,214.5h3.9v2.6h-3.9zM209.3,283.4h2.6v1.3h-2.6zM191.1,254.8h1.3v1.3h-1.3zM214.5,296.4h3.9v1.3h-3.9zM201.5,253.5h2.6v3.9h-2.6zM205.4,261.3h1.3v3.9h-1.3zM224.9,284.7h2.6v2.6h-2.6zM197.6,271.7h2.6v3.9h-2.6zM188.5,232.7h3.9v2.6h-3.9zM193.7,237.9h2.6v3.9h-2.6zM230.1,257.4h1.3v1.3h-1.3zM226.2,266.5h1.3v2.6h-1.3zM226.2,261.3h1.3v1.3h-1.3zM323.7,248.3h1.3v2.6h-1.3zM304.2,278.2h1.3v3.9h-1.3zM270.4,183.3h1.3v2.6h-1.3zM275.6,187.2h2.6v1.3h-2.6zM289.9,178.1h1.3v1.3h-1.3zM309.4,202.8h2.6v1.3h-2.6zM339.3,196.3h3.9v1.3h-3.9zM354.9,192.4h2.6v1.3h-2.6zM354.9,198.9h2.6v2.6h-2.6zM356.2,205.4h3.9v2.6h-3.9zM362.7,218.4h1.3v2.6h-1.3zM280.8,239.2h1.3v2.6h-1.3zM286.0,230.1h1.3v2.6h-1.3zM263.9,231.4h2.6v1.3h-2.6zM327.6,240.5h2.6v3.9h-2.6zM266.5,228.8h2.6v3.9h-2.6zM276.9,239.2h1.3v3.9h-1.3zM297.7,234.0h1.3v1.3h-1.3zM399.1,195.0h2.6v1.3h-2.6zM400.4,176.8h3.9v1.3h-3.9zM401.7,185.9h3.9v2.6h-3.9zM380.9,211.9h1.3v2.6h-1.3zM392.6,227.5h2.6v3.9h-2.6zM392.6,227.5h1.3v3.9h-1.3zM403.0,241.8h1.3v3.9h-1.3zM416.0,232.7h2.6v2.6h-2.6z"/><path fill="#b3b3b3" d="M325.0,227.5h1.3v1.3h-1.3zM326.3,230.1h2.6v1.3h-2.6zM319.8,257.4h2.6v3.9h-2.6zM306.8,247.0h3.9v2.6h-3.9zM306.8,270.4h1.3v2.6h-1.3zM318.5,256.1h2.6v3.9h-2.6zM300.3,247.0h2.6v2.6h-2.6zM306.8,271.7h1.3v2.6h-1.3zM297.7,250.9h1.3v2.6h-1.3zM302.9,172.9h1.3v1.3h-1.3zM360.1,161.2h3.9v2.6h-3.9zM367.9,170.3h2.6v3.9h-2.6zM349.7,182.0h2.6v1.3h-2.6zM357.5,205.4h2.6v2.6h-2.6zM318.5,227.5h1.3v1.3h-1.3zM312.0,234.0h1.3v1.3h-1.3zM366.6,166.4h3.9v2.6h-3.9zM436.8,256.1h2.6v2.6h-2.6zM439.4,250.9h2.6v1.3h-2.6z"/></g><use href="#land" fill="none" stroke="#141414" stroke-width="0.7"/><use href="#lakes" fill="#fff" stroke="#141414" stroke-width="0.6"/><path d="M221.6,248.6L216.9,251.7L212.2,250.2L207.5,253.3L203.6,250.2L199.7,252.5L193.4,252.5M293.2,252.0L295.8,246.3L299.7,243.9L303.6,245.5M295.8,246.3L295.2,243.0" fill="none" stroke="#1a1a1a" stroke-width="0.6"/></g><use href="#frame" fill="none" stroke="#000" stroke-width="2"/></g><g transform="translate(422.6,227.1)"><g clip-path="url(#fc)"><use href="#land" fill="#b3b3b3"/><g clip-path="url(#lc)"><path fill="#e4e4e4" d="M303.7,160.8L307.9,162.3L311.3,159.6L314.4,158.3L317.4,156.8L322.6,158.9L325.4,158.7L329.4,159.7L333.1,161.0L337.0,159.4L341.7,160.5L344.1,162.0L349.6,162.3L353.4,162.3L359.3,164.9L362.1,164.6L364.9,165.0L368.4,166.2L371.5,166.5L374.7,170.1L377.7,171.3L381.6,171.2L385.4,170.5L390.2,172.9L389.9,177.7L391.9,182.8L395.3,182.4L398.9,184.2L400.6,184.9L405.0,186.8L406.8,190.2L410.3,194.1L409.3,196.3L410.7,200.3L409.5,204.5L409.2,208.5L408.9,210.8L404.8,212.1L402.7,211.3L398.8,210.9L396.3,212.0L392.3,213.2L391.2,214.3L387.1,212.8L387.5,208.0L383.7,206.1L382.2,204.5L379.0,201.1L374.2,200.7L372.2,198.1L368.4,196.6L365.7,196.4L362.6,191.3L358.3,188.9L357.7,186.2L360.3,184.9L360.5,178.1L361.8,176.3L358.0,172.0L357.0,170.3L354.5,170.1L348.7,171.1L344.6,169.4L341.3,168.7L336.7,168.3L332.4,167.3L327.8,166.1L323.4,168.9L321.3,170.3L317.5,170.4L313.1,169.3L310.2,168.4L308.2,168.7L303.3,169.6ZM352.3,159.8L356.0,162.0L361.4,160.5L363.9,161.9L368.4,162.4L368.6,164.0L371.2,168.5L373.9,169.5L378.1,171.2L383.0,170.9L387.1,172.5L390.4,172.0L391.5,169.7L397.0,167.5L400.2,170.7L402.7,171.6L407.0,173.9L410.3,175.7L409.9,179.4L411.0,184.1L408.2,185.4L404.3,186.0L402.3,194.0L407.4,196.6L406.9,200.8L407.7,205.7L404.4,208.5L402.2,211.5L400.3,211.6L396.4,214.0L391.9,214.8L387.3,214.7L383.7,211.6L380.7,207.6L377.8,205.5L376.1,202.2L371.2,201.4L368.7,199.3L364.1,199.1L363.1,196.5L358.2,192.1L354.4,192.9L350.3,192.5L348.9,189.0L350.6,187.2L349.1,182.2L349.5,178.0L348.5,176.7L349.6,172.3L350.3,168.8L350.0,166.4Z"/><path fill="#b3b3b3" d="M366.9,166.9L369.7,166.4L373.7,166.9L376.9,166.0L378.3,170.7L374.2,171.7L368.5,171.4ZM381.4,178.1L383.6,178.1L388.7,178.7L390.4,182.6L385.3,183.8L382.1,183.2ZM361.1,194.7L365.7,193.5L369.8,194.9L374.7,191.9L374.6,197.7L372.6,199.0L367.9,200.6L365.1,199.5L361.7,199.5Z"/><path fill="#d9b92e" d="M147.8,187.4L149.8,183.5L151.2,179.3L152.4,176.7L156.3,174.1L159.4,171.9L160.9,168.2L162.4,166.1L165.9,162.7L168.4,162.0L173.7,163.7L176.5,163.6L178.2,165.8L182.7,168.9L183.6,174.2L184.9,175.0L187.4,177.3L193.5,174.5L196.8,175.8L202.4,176.3L207.6,175.4L211.6,174.4L213.0,175.7L210.7,179.2L207.1,183.4L203.4,183.5L201.4,186.9L199.0,190.0L197.2,194.2L195.5,195.1L193.4,198.2L188.4,201.2L185.4,202.9L182.6,200.1L176.8,199.9L173.1,199.4L168.1,203.4L166.0,206.8L166.6,214.3L168.9,220.1L165.0,220.9L162.4,217.6L158.9,216.3L157.0,212.4L156.2,208.3L152.9,203.0L152.5,201.2L149.3,197.8L148.4,194.2L147.9,189.3Z"/><path fill="#e4e4e4" d="M159.8,166.6L162.7,165.3L163.3,168.3L164.2,171.9L160.7,172.0ZM152.1,188.6L156.7,187.5L158.2,193.3L153.6,192.7Z"/><path fill="#a9efbb" d="M158.8,178.0L160.8,176.4L164.0,176.3L169.1,176.5L171.2,176.0L170.7,179.4L164.5,181.4L163.8,185.8L161.0,188.4L159.0,187.9L156.4,192.4L152.1,189.0L151.2,182.3L156.1,180.0ZM176.5,178.1L179.9,178.2L184.9,176.6L185.3,180.4L182.9,183.5L178.0,184.4Z"/><path fill="#e23a1c" d="M162.3,195.3L164.7,195.0L167.6,194.9L169.5,200.8L163.5,202.0L160.8,198.5ZM161.7,190.5L165.5,190.0L165.6,194.0L161.6,192.4ZM174.9,190.9L178.1,189.0L176.1,191.2L174.4,192.1ZM191.1,192.4L191.5,192.2L191.1,193.5L190.4,193.9ZM159.2,208.3L163.3,207.7L163.0,211.0L163.5,214.3L157.9,216.0L157.4,213.4ZM160.5,205.1L163.1,205.0L161.8,207.9L158.6,207.4ZM170.3,219.5L173.6,218.1L174.8,224.9L169.0,224.6ZM150.8,202.9L151.4,202.1L152.3,207.8L150.9,207.8Z"/><path fill="#a9efbb" d="M186.0,236.1L192.0,235.0L191.3,239.4L191.4,243.0L191.6,246.1L186.1,246.4L187.4,243.0L187.1,239.5ZM185.0,236.5L190.2,234.9L191.0,239.7L190.3,243.3L189.0,246.4L187.7,251.4L183.8,250.3L183.3,246.8L183.8,241.3L184.4,238.0Z"/><path fill="#d9b92e" d="M183.1,251.7L185.5,252.1L189.6,251.4L189.7,255.4L191.2,259.9L193.2,261.7L194.2,265.3L194.5,268.5L193.6,271.4L190.6,268.6L187.6,264.0L182.7,259.3L184.5,256.7Z"/><path fill="#a9efbb" d="M204.3,277.1L208.8,275.5L212.5,274.0L216.3,272.2L220.9,273.0L224.3,273.9L225.9,279.4L224.1,283.6L225.0,285.9L221.8,289.0L221.1,293.5L217.7,295.8L217.3,299.8L215.3,302.7L212.4,305.5L211.1,308.2L206.9,305.0L204.4,304.1L199.8,302.6L200.0,299.7L200.9,295.0L200.1,290.7L199.3,285.4L201.2,282.5Z"/><path fill="#e4e4e4" d="M224.0,266.6L229.9,266.7L230.5,271.2L228.4,274.8L225.1,273.8L224.0,270.4Z"/><path fill="#d9b92e" d="M206.4,286.7L209.5,286.2L211.2,290.4L211.7,295.1L208.7,294.3L207.7,290.7ZM199.6,303.0L201.1,302.4L201.5,305.5L201.8,309.3L198.9,310.9L199.0,306.7ZM207.4,305.4L211.9,308.1L211.4,309.7L207.4,309.9Z"/><path fill="#e23a1c" d="M185.8,263.9L188.4,264.4L189.5,269.1L185.7,268.6ZM196.1,269.0L201.1,268.5L205.4,270.7L205.9,272.6L209.9,276.5L207.4,279.5L203.8,279.7L200.4,280.8L196.9,276.6Z"/><path fill="#2aa62e" d="M212.5,273.0L216.7,272.1L214.7,276.3L211.7,277.2ZM217.8,269.8L222.8,272.8L222.5,275.1L223.0,279.2L219.6,278.8L218.7,276.1ZM198.6,283.2L204.6,284.2L208.1,284.0L207.2,287.7L208.2,291.8L207.5,296.4L206.7,299.7L204.2,302.4L202.7,304.2L200.1,302.3L199.7,297.4L199.2,293.1L199.5,289.3ZM208.7,293.5L210.7,294.2L215.1,292.3L215.4,295.7L217.6,297.6L214.4,303.2L211.3,306.4L206.3,302.4L207.9,297.4Z"/><path fill="#e4e4e4" d="M257.9,221.4L262.5,222.0L267.4,220.4L268.0,219.4L269.3,224.7L264.6,224.2L262.6,224.7L258.4,222.9ZM277.9,227.8L281.5,226.1L284.3,227.8L288.2,226.6L291.0,226.8L295.0,226.9L298.4,226.5L300.2,228.5L299.1,233.6L298.7,237.3L295.3,237.8L292.2,237.3L288.5,236.5L284.8,238.0L282.6,235.6L278.5,235.3L278.3,231.8ZM292.5,254.5L294.7,253.9L299.6,251.6L303.0,252.1L305.8,249.6L305.0,254.7L307.0,258.4L306.8,262.1L302.1,262.8L299.1,263.2L296.2,260.8L293.6,259.2Z"/><path fill="#d9b92e" d="M299.4,224.5L306.0,225.4L305.3,231.2L307.9,234.6L304.0,234.9L301.1,234.1L299.2,229.3ZM309.2,217.4L311.4,216.7L317.8,217.1L315.7,219.3L315.1,226.0L315.3,227.8L312.9,233.5L312.4,236.6L310.3,238.9L310.4,243.5L306.0,239.7L308.3,237.3L308.6,233.3L310.5,232.0L310.0,227.8L308.5,223.5L308.4,219.3Z"/><path fill="#a9efbb" d="M313.0,242.2L315.0,241.7L319.8,242.0L322.1,242.3L321.3,244.1L321.4,250.3L322.0,253.0L320.5,255.9L319.9,259.2L320.4,263.3L320.1,266.4L318.2,270.2L316.6,273.6L314.7,277.0L313.1,280.6L309.5,283.9L309.9,279.9L307.5,277.3L307.8,273.1L307.8,269.2L308.7,265.4L309.3,261.9L309.7,257.9L308.8,254.7L310.7,251.4L312.7,247.7L312.7,244.4ZM290.3,260.7L293.6,261.4L300.0,260.6L301.1,266.1L301.1,269.1L300.7,273.8L296.8,275.8L293.8,276.8L288.1,275.1L289.1,272.9L289.4,269.0L289.4,264.4Z"/><path fill="#d9b92e" d="M298.9,268.2L302.7,265.4L304.1,263.5L306.5,261.3L309.7,259.5L312.8,261.2L317.5,257.8L317.1,263.2L316.2,267.9L316.3,272.6L312.5,275.7L310.7,277.9L308.4,281.0L307.7,283.6L304.9,285.9L301.5,288.6L299.2,288.0L294.6,288.5L293.6,285.0L293.8,283.4L292.1,276.7L300.6,277.8L299.8,272.6Z"/><path fill="#b3b3b3" d="M298.3,278.7L303.9,278.2L302.7,284.7L297.3,285.8Z"/><path fill="#a9efbb" d="M295.2,291.8L297.1,292.2L296.1,296.4L294.4,295.7Z"/><path fill="#e23a1c" d="M313.6,224.8L317.7,222.8L321.3,223.9L322.1,226.9L322.5,229.1L323.3,232.0L323.1,236.9L322.6,240.2L316.5,242.3L315.0,239.0L313.4,234.7L314.4,232.2L313.9,229.1Z"/><path fill="#2aa62e" d="M292.2,261.1L295.1,261.0L294.7,266.5L295.1,269.6L292.6,272.8L290.8,269.8L288.6,265.8ZM320.8,245.6L320.7,248.2L322.8,251.2L320.4,252.6ZM304.9,277.0L308.6,276.8L308.4,280.4L305.7,281.7ZM294.5,293.0L298.1,290.1L301.9,287.4L304.1,284.9L308.4,282.9L310.9,287.4L309.9,290.5L307.7,293.9L305.8,297.1L303.1,301.0L300.2,300.9L294.6,300.6L294.9,297.9ZM324.6,272.5L328.9,270.6L330.5,275.1L330.4,278.9L329.4,281.3L329.8,284.8L329.9,287.4L323.8,287.8L324.1,285.0L322.7,279.7L322.0,277.6Z"/><path fill="#d9b92e" d="M266.4,181.6L268.5,179.5L272.4,176.2L275.5,173.6L277.9,172.3L281.1,171.0L283.4,168.5L285.9,166.2L287.3,164.9L291.2,161.4L293.4,160.2L297.8,161.5L301.2,161.0L303.9,166.0L303.3,170.5L308.1,168.3L311.3,169.9L313.3,169.4L316.7,170.4L321.1,169.3L324.6,169.4L323.8,172.9L323.9,177.5L322.4,180.9L317.7,182.4L315.3,179.9L311.5,179.3L305.5,180.5L304.4,183.9L300.9,186.8L295.8,183.5L293.2,186.2L290.7,188.5L287.9,189.7L286.9,188.3L283.4,185.9L280.3,182.9L278.9,184.7L275.5,189.1L274.8,191.0L270.7,191.2L266.2,190.3L264.8,185.8ZM271.1,164.3L276.7,164.3L277.5,169.4L274.5,172.4L271.9,171.6L271.3,169.6Z"/><path fill="#a9efbb" d="M271.5,176.3L276.2,174.0L280.0,175.0L283.0,171.4L285.8,171.7L289.0,172.6L289.2,175.8L286.9,178.2L282.9,179.5L279.3,180.3L273.7,182.7Z"/><path fill="#e23a1c" d="M292.0,168.7L295.8,168.3L300.2,166.3L307.1,172.3L311.2,170.8L314.7,171.6L319.6,172.4L322.0,175.7L320.2,175.9L317.2,177.9L312.5,177.1L308.9,176.8L305.0,176.8L300.6,176.5L297.5,176.3L295.5,176.3L292.6,173.2ZM298.7,161.3L302.9,162.2L303.9,166.4L300.2,165.5Z"/><path fill="#2aa62e" d="M287.8,161.0L292.8,162.3L291.9,164.9L288.6,165.2Z"/><path fill="#d9b92e" d="M335.8,169.0L342.7,169.3L345.3,172.1L349.5,172.6L354.1,172.7L354.5,174.0L358.1,180.6L351.0,179.1L347.4,177.2L343.3,175.9L336.7,175.7L337.3,173.0Z"/><path fill="#b3b3b3" d="M338.9,177.9L342.0,176.5L345.9,175.8L350.7,176.5L350.8,181.6L345.9,181.2L342.5,182.5Z"/><path fill="#e23a1c" d="M325.7,166.3L328.9,165.0L333.6,164.8L334.0,168.3L335.5,171.6L331.8,174.0L328.3,173.0L323.6,171.6ZM340.4,164.1L345.1,163.1L349.5,161.4L352.2,163.3L354.8,165.6L358.8,166.4L360.4,171.2L360.2,173.8L355.7,175.3L352.8,174.5L348.5,172.6L346.2,172.0L341.9,168.4Z"/><path fill="#a9efbb" d="M310.8,182.3L315.9,183.1L318.9,181.8L323.4,183.3L327.4,186.5L324.7,191.1L320.2,191.6L316.3,190.9L311.4,187.1ZM333.4,183.5L335.4,182.7L339.8,183.7L344.1,183.2L342.0,187.1L340.6,187.5L337.4,190.6L334.0,189.0Z"/><path fill="#d9b92e" d="M314.4,197.1L319.6,199.3L322.3,198.6L325.9,202.7L327.0,205.6L326.7,210.1L325.9,214.6L322.5,218.9L320.2,215.6L318.4,211.9L316.8,206.7L315.9,202.8ZM341.5,190.0L345.8,190.0L348.4,185.8L351.7,188.3L355.5,190.7L356.8,193.2L357.9,197.6L360.3,199.6L362.3,202.8L359.7,207.0L360.4,208.3L359.3,211.3L351.8,211.0L350.0,208.3L348.8,203.8L344.2,204.1L341.6,201.2L340.6,197.0L341.3,193.2Z"/><path fill="#e23a1c" d="M319.1,190.3L321.8,189.2L323.9,189.2L327.7,191.0L329.5,191.1L333.1,190.7L338.3,189.9L340.0,192.3L340.6,195.5L340.2,201.3L339.6,203.2L336.9,205.6L335.2,207.1L331.0,202.2L326.7,201.7L323.6,199.4L317.2,196.9ZM315.6,199.3L318.1,199.5L319.7,204.5L318.0,204.2ZM321.8,203.3L325.7,206.0L325.4,209.5L321.3,209.1ZM318.8,210.8L320.2,211.9L321.9,216.0L323.9,218.6L320.0,215.8L319.9,214.5ZM343.4,184.8L346.8,184.3L349.9,183.5L348.1,187.6L344.4,191.0Z"/><path fill="#2aa62e" d="M348.8,183.5L354.7,182.0L355.5,190.4L352.5,188.7L350.0,186.6ZM315.5,185.2L318.9,184.4L320.1,187.9L316.7,187.6Z"/><path fill="#d9b92e" d="M358.5,202.7L359.7,201.9L364.1,201.8L369.2,202.1L370.2,203.7L374.2,205.8L376.0,207.0L380.2,208.8L375.8,214.6L372.0,212.0L368.5,212.0L365.6,213.3L361.9,215.1L359.2,210.4L359.0,206.3Z"/><path fill="#e4e4e4" d="M358.7,212.4L364.8,212.7L368.4,211.3L372.2,213.1L375.3,212.9L374.2,215.4L371.1,220.5L370.5,223.9L369.2,228.2L366.9,231.0L365.9,233.2L363.7,237.1L363.4,233.4L359.0,230.2L358.3,227.7L359.0,223.4L358.5,221.1L359.4,216.0Z"/><path fill="#e23a1c" d="M359.5,212.1L361.0,211.5L360.4,215.8L358.0,215.5Z"/><path fill="#2aa62e" d="M358.6,222.4L362.0,223.0L362.3,225.5L358.4,225.2Z"/><path fill="#b3b3b3" d="M362.2,194.4L365.3,192.7L369.1,193.4L373.2,192.8L374.1,198.1L371.4,197.9L367.4,198.7L363.4,198.6Z"/><path fill="#d9b92e" d="M416.8,190.8L416.0,188.6L417.6,183.8L419.9,181.2L424.0,181.7L423.6,184.4L424.3,188.3L424.8,192.4L421.3,195.1L419.1,196.5Z"/><path fill="#a9efbb" d="M396.3,178.0L400.1,176.5L401.8,175.7L405.1,175.3L409.7,176.4L410.4,181.1L405.3,181.9L402.5,181.8L399.2,183.9L396.6,179.5ZM383.6,191.7L387.2,191.1L390.7,191.8L390.9,195.6L386.5,197.0L383.8,197.7Z"/><path fill="#d9b92e" d="M390.4,185.1L395.4,184.1L397.6,185.8L402.8,185.4L403.1,188.3L405.9,191.7L405.6,197.1L405.7,201.5L402.1,203.3L399.0,204.5L394.7,201.6L392.7,199.5L391.4,196.0L391.4,192.4L390.6,188.5ZM379.0,204.5L382.7,202.6L384.0,204.8L385.4,208.7L387.9,212.3L385.9,215.5L387.7,220.5L386.2,223.2L383.2,220.6L382.0,216.3L382.2,214.0L381.9,208.7L379.8,206.2Z"/><path fill="#e23a1c" d="M391.5,186.4L393.3,186.4L397.3,185.6L399.1,189.0L402.3,193.7L403.4,195.8L405.1,199.2L400.0,198.1L395.1,195.6L393.4,191.4ZM404.6,182.9L408.9,186.1L410.4,188.5L413.1,191.5L408.6,192.7L408.3,188.2ZM384.0,211.4L387.8,211.2L385.9,217.4L387.8,219.4L388.1,224.0L385.5,222.2L383.4,218.0L384.7,216.1Z"/><path fill="#2aa62e" d="M390.6,171.9L393.4,172.5L396.1,173.4L398.8,175.3L401.1,176.0L400.6,182.9L398.5,181.2L393.6,179.2L388.5,177.9ZM373.4,184.7L374.1,183.4L380.0,183.5L385.5,184.2L388.0,186.2L390.9,187.8L388.0,188.3L385.4,189.9L379.7,190.9L376.3,189.0L371.1,187.5Z"/><path fill="#d9b92e" d="M273.4,191.7L276.4,191.8L278.4,191.3L284.1,191.4L286.8,190.9L288.5,193.3L282.0,193.8L278.7,194.2L274.8,196.3Z"/><path fill="#e23a1c" d="M268.3,194.7L274.4,192.0L275.1,197.4L269.1,198.9Z"/><path fill="#e4e4e4" d="M257.4,221.5L261.0,221.3L264.7,220.9L268.7,220.1L269.8,224.9L265.9,224.1L261.4,222.4L257.5,224.4ZM275.9,225.5L279.6,225.8L284.3,226.3L287.3,226.2L289.7,226.3L294.6,224.3L296.4,226.0L301.3,225.3L302.0,228.7L301.0,232.4L302.7,237.1L298.0,236.9L296.1,237.5L292.9,237.8L288.7,238.4L284.9,236.4L281.3,234.9L276.3,233.3L276.3,229.7Z"/><path fill="#d9b92e" d="M299.5,228.0L301.9,225.5L305.7,223.9L306.1,228.9L308.0,233.8L302.9,234.6L302.3,232.2ZM307.2,216.2L313.3,214.6L314.9,217.7L315.1,221.8L317.2,227.2L316.4,228.3L315.4,231.9L314.7,235.4L313.3,240.5L309.0,239.7L308.4,236.7L309.5,233.9L311.0,230.4L309.8,227.7L309.8,222.8L308.1,220.8ZM308.9,205.1L310.4,205.1L311.4,208.4L311.7,210.9L310.9,215.1L308.5,215.1L309.3,211.0L307.7,207.5Z"/><path fill="#e23a1c" d="M313.7,225.4L317.7,222.6L319.9,225.1L321.9,229.1L322.5,233.0L323.4,238.4L320.0,240.2L317.7,243.4L316.1,240.2L314.5,236.0L315.1,233.3L314.0,229.7Z"/><path fill="#a9efbb" d="M422.7,299.6L424.2,297.2L427.5,296.1L432.6,293.6L439.0,292.6L441.9,295.2L441.4,299.0L437.1,302.4L434.9,304.6L430.1,306.3L427.0,307.3L423.4,303.9ZM398.2,292.2L402.6,293.2L406.7,292.5L409.4,293.0L411.7,297.5L407.4,298.6L404.4,300.0L398.6,301.6L398.5,300.9L397.5,296.4Z"/><path fill="#e4e4e4" d="M422.2,293.4L425.1,292.8L429.8,292.6L433.7,291.2L435.6,295.7L429.2,296.6L427.0,297.7L423.8,296.9Z"/><path fill="#d9b92e" d="M377.2,214.9L385.0,214.3L386.3,218.6L384.7,221.1L380.7,222.2L381.1,218.7Z"/><path fill="#e23a1c" d="M433.0,268.2L438.7,267.2L440.1,270.0L441.0,274.7L443.7,277.1L442.8,281.2L444.1,282.1L444.9,288.9L443.3,290.9L441.8,294.5L437.9,292.8L436.4,288.0L435.8,284.9L435.5,281.5L434.2,277.8L434.9,272.6ZM432.3,295.1L437.5,294.8L435.6,298.6L433.1,296.9ZM420.6,299.3L421.8,298.5L424.0,302.6L421.3,302.5ZM425.3,302.0L428.2,301.2L427.3,305.1L425.6,304.2ZM384.6,217.1L387.9,218.2L388.2,222.0L389.2,226.2L387.4,230.8L386.9,230.5L386.4,226.8L386.3,222.5Z"/><path fill="#e4e4e4" d="M172.9,171.6h1.3v3.9h-1.3zM170.3,183.3h1.3v2.6h-1.3zM176.8,174.2h1.3v3.9h-1.3zM152.1,179.4h2.6v3.9h-2.6zM209.3,180.7h3.9v2.6h-3.9zM200.2,187.2h2.6v1.3h-2.6zM195.0,175.5h1.3v2.6h-1.3zM197.6,182.0h1.3v2.6h-1.3zM193.7,183.3h1.3v2.6h-1.3zM182.0,195.0h2.6v2.6h-2.6zM188.5,188.5h2.6v1.3h-2.6zM185.9,196.3h1.3v1.3h-1.3zM158.6,191.1h2.6v1.3h-2.6zM172.9,175.5h3.9v1.3h-3.9zM156.0,206.7h2.6v2.6h-2.6zM156.0,191.1h3.9v1.3h-3.9zM180.7,183.3h1.3v3.9h-1.3zM188.5,247.0h1.3v2.6h-1.3zM189.8,237.9h3.9v3.9h-3.9zM187.2,247.0h1.3v2.6h-1.3zM191.1,258.7h2.6v2.6h-2.6zM218.4,292.5h3.9v2.6h-3.9zM218.4,276.9h1.3v1.3h-1.3zM210.6,306.8h1.3v2.6h-1.3zM202.8,280.8h2.6v2.6h-2.6zM223.6,284.7h1.3v1.3h-1.3zM213.2,282.1h3.9v1.3h-3.9zM211.9,291.2h3.9v2.6h-3.9zM210.6,309.4h3.9v1.3h-3.9zM312.0,252.2h3.9v2.6h-3.9zM315.9,250.9h2.6v1.3h-2.6zM288.6,273.0h2.6v1.3h-2.6zM297.7,282.1h1.3v2.6h-1.3zM305.5,270.4h2.6v2.6h-2.6zM293.8,174.2h1.3v3.9h-1.3zM275.6,185.9h1.3v2.6h-1.3zM296.4,167.7h1.3v1.3h-1.3zM276.9,185.9h2.6v1.3h-2.6zM278.2,172.9h2.6v2.6h-2.6zM296.4,167.7h1.3v2.6h-1.3zM295.1,165.1h3.9v2.6h-3.9zM287.3,174.2h3.9v1.3h-3.9zM339.3,169.0h1.3v3.9h-1.3zM340.6,171.6h2.6v3.9h-2.6zM338.0,188.5h1.3v1.3h-1.3zM339.3,184.6h2.6v2.6h-2.6zM323.7,214.5h1.3v1.3h-1.3zM314.6,198.9h2.6v1.3h-2.6zM345.8,201.5h1.3v1.3h-1.3zM347.1,195.0h1.3v2.6h-1.3zM354.9,192.4h1.3v1.3h-1.3zM360.1,201.5h1.3v2.6h-1.3zM365.3,205.4h1.3v1.3h-1.3zM362.7,210.6h2.6v2.6h-2.6zM406.9,178.1h2.6v2.6h-2.6zM395.2,201.5h2.6v1.3h-2.6zM403.0,202.8h2.6v3.9h-2.6zM391.3,185.9h2.6v1.3h-2.6zM313.3,236.6h2.6v1.3h-2.6zM313.3,228.8h1.3v1.3h-1.3zM312.0,224.9h1.3v3.9h-1.3zM309.4,214.5h2.6v2.6h-2.6z"/><path fill="#d9b92e" d="M403.0,211.9h3.9v2.6h-3.9zM327.6,163.8h2.6v1.3h-2.6zM341.9,161.2h2.6v3.9h-2.6zM326.3,161.2h2.6v1.3h-2.6zM378.3,198.9h1.3v1.3h-1.3zM357.5,188.5h3.9v1.3h-3.9zM395.2,170.3h2.6v2.6h-2.6zM365.3,175.5h2.6v2.6h-2.6zM362.7,170.3h2.6v2.6h-2.6zM364.0,187.2h1.3v3.9h-1.3zM403.0,204.1h1.3v3.9h-1.3zM399.1,184.6h2.6v3.9h-2.6zM391.3,171.6h3.9v1.3h-3.9zM159.9,167.7h1.3v1.3h-1.3zM162.5,185.9h1.3v2.6h-1.3zM170.3,178.1h3.9v1.3h-3.9zM161.2,180.7h1.3v2.6h-1.3zM162.5,182.0h1.3v1.3h-1.3zM159.9,180.7h2.6v1.3h-2.6zM178.1,180.7h2.6v3.9h-2.6zM162.5,192.4h2.6v1.3h-2.6zM159.9,209.3h3.9v1.3h-3.9zM161.2,205.4h1.3v1.3h-1.3zM191.1,235.3h1.3v2.6h-1.3zM219.7,283.4h3.9v2.6h-3.9zM214.5,291.2h1.3v1.3h-1.3zM217.1,273.0h1.3v1.3h-1.3zM218.4,288.6h3.9v1.3h-3.9zM223.6,279.5h2.6v2.6h-2.6zM210.6,283.4h2.6v1.3h-2.6zM217.1,283.4h1.3v2.6h-1.3zM224.9,279.5h3.9v1.3h-3.9zM214.5,278.2h2.6v2.6h-2.6zM209.3,282.1h1.3v2.6h-1.3zM222.3,286.0h1.3v3.9h-1.3zM210.6,283.4h2.6v1.3h-2.6zM214.5,288.6h2.6v2.6h-2.6zM188.5,266.5h2.6v2.6h-2.6zM204.1,273.0h3.9v1.3h-3.9zM202.8,278.2h2.6v1.3h-2.6zM200.2,279.5h1.3v1.3h-1.3zM204.1,274.3h1.3v3.9h-1.3zM211.9,274.3h3.9v2.6h-3.9zM221.0,278.2h2.6v3.9h-2.6zM201.5,302.9h3.9v1.3h-3.9zM293.8,258.7h3.9v3.9h-3.9zM317.2,262.6h2.6v2.6h-2.6zM313.3,257.4h1.3v3.9h-1.3zM315.9,257.4h3.9v1.3h-3.9zM310.7,258.7h1.3v1.3h-1.3zM312.0,253.5h1.3v3.9h-1.3zM317.2,254.8h1.3v1.3h-1.3zM313.3,278.2h2.6v1.3h-2.6zM317.2,244.4h2.6v2.6h-2.6zM312.0,278.2h1.3v1.3h-1.3zM315.9,249.6h2.6v2.6h-2.6zM313.3,253.5h1.3v2.6h-1.3zM296.4,265.2h2.6v2.6h-2.6zM295.1,265.2h1.3v1.3h-1.3zM297.7,269.1h1.3v2.6h-1.3zM323.7,231.4h2.6v2.6h-2.6zM305.5,291.2h3.9v2.6h-3.9zM297.7,300.3h1.3v2.6h-1.3zM282.1,176.8h1.3v2.6h-1.3zM274.3,178.1h1.3v1.3h-1.3zM276.9,174.2h1.3v1.3h-1.3zM302.9,170.3h2.6v1.3h-2.6zM309.4,172.9h1.3v2.6h-1.3zM301.6,169.0h1.3v3.9h-1.3zM312.0,172.9h1.3v1.3h-1.3zM300.3,174.2h1.3v2.6h-1.3zM302.9,163.8h1.3v3.9h-1.3zM327.6,167.7h2.6v1.3h-2.6zM348.4,171.6h1.3v1.3h-1.3zM351.0,170.3h3.9v2.6h-3.9zM345.8,170.3h3.9v1.3h-3.9zM343.2,163.8h3.9v2.6h-3.9zM315.9,183.3h3.9v2.6h-3.9zM315.9,183.3h1.3v2.6h-1.3zM315.9,188.5h3.9v1.3h-3.9zM321.1,193.7h1.3v2.6h-1.3zM336.7,200.2h2.6v1.3h-2.6zM335.4,204.1h3.9v1.3h-3.9zM321.1,196.3h3.9v2.6h-3.9zM334.1,198.9h1.3v1.3h-1.3zM334.1,197.6h2.6v2.6h-2.6zM340.6,193.7h1.3v3.9h-1.3zM336.7,193.7h3.9v2.6h-3.9zM318.5,196.3h1.3v1.3h-1.3zM317.2,200.2h3.9v1.3h-3.9zM322.4,205.4h1.3v2.6h-1.3zM344.5,185.9h3.9v1.3h-3.9zM370.5,223.6h1.3v1.3h-1.3zM369.2,218.4h3.9v2.6h-3.9zM361.4,224.9h1.3v2.6h-1.3zM408.2,180.7h3.9v1.3h-3.9zM405.6,176.8h1.3v2.6h-1.3zM384.8,196.3h1.3v2.6h-1.3zM384.8,196.3h1.3v1.3h-1.3zM395.2,191.1h1.3v1.3h-1.3zM400.4,193.7h2.6v2.6h-2.6zM390.0,176.8h3.9v2.6h-3.9zM392.6,172.9h1.3v2.6h-1.3zM383.5,185.9h3.9v1.3h-3.9zM301.6,235.3h2.6v2.6h-2.6zM319.8,235.3h3.9v2.6h-3.9zM439.4,296.4h2.6v3.9h-2.6zM432.9,297.7h2.6v2.6h-2.6zM427.7,304.2h1.3v3.9h-1.3zM430.3,305.5h1.3v2.6h-1.3zM435.5,302.9h1.3v2.6h-1.3zM430.3,304.2h2.6v2.6h-2.6zM430.3,305.5h1.3v3.9h-1.3zM403.0,293.8h1.3v1.3h-1.3zM408.2,297.7h2.6v2.6h-2.6zM408.2,295.1h1.3v1.3h-1.3zM442.0,278.2h3.9v1.3h-3.9zM436.8,275.6h2.6v1.3h-2.6zM436.8,288.6h2.6v1.3h-2.6zM438.1,288.6h1.3v2.6h-1.3zM442.0,288.6h2.6v2.6h-2.6zM438.1,275.6h1.3v2.6h-1.3z"/><path fill="#a9efbb" d="M338.0,166.4h2.6v1.3h-2.6zM315.9,162.5h2.6v2.6h-2.6zM323.7,167.7h1.3v1.3h-1.3zM334.1,162.5h2.6v2.6h-2.6zM304.2,169.0h1.3v1.3h-1.3zM344.5,162.5h2.6v1.3h-2.6zM308.1,163.8h1.3v2.6h-1.3zM315.9,162.5h1.3v2.6h-1.3zM322.4,165.1h3.9v2.6h-3.9zM405.6,193.7h3.9v3.9h-3.9zM326.3,158.6h2.6v2.6h-2.6zM323.7,165.1h1.3v3.9h-1.3zM365.3,166.4h1.3v2.6h-1.3zM388.7,209.3h1.3v1.3h-1.3zM384.8,198.9h3.9v1.3h-3.9zM360.1,179.4h1.3v3.9h-1.3zM378.3,172.9h1.3v2.6h-1.3zM391.3,182.0h1.3v3.9h-1.3zM377.0,200.2h3.9v3.9h-3.9zM382.2,196.3h2.6v3.9h-2.6zM366.6,167.7h3.9v1.3h-3.9zM400.4,204.1h2.6v1.3h-2.6zM391.3,210.6h2.6v1.3h-2.6zM367.9,179.4h2.6v1.3h-2.6zM188.5,197.6h2.6v1.3h-2.6zM165.1,204.1h2.6v3.9h-2.6zM172.9,188.5h3.9v1.3h-3.9zM156.0,201.5h1.3v1.3h-1.3zM176.8,171.6h2.6v2.6h-2.6zM165.1,209.3h2.6v1.3h-2.6zM193.7,184.6h1.3v1.3h-1.3zM153.4,176.8h1.3v1.3h-1.3zM172.9,189.8h3.9v2.6h-3.9zM171.6,187.2h1.3v1.3h-1.3zM185.9,187.2h1.3v3.9h-1.3zM176.8,184.6h2.6v3.9h-2.6zM157.3,206.7h2.6v1.3h-2.6zM172.9,163.8h1.3v1.3h-1.3zM183.3,188.5h1.3v3.9h-1.3zM195.0,195.0h2.6v1.3h-2.6zM188.5,191.1h2.6v2.6h-2.6zM165.1,171.6h3.9v1.3h-3.9zM174.2,195.0h1.3v1.3h-1.3zM163.8,193.7h2.6v2.6h-2.6zM158.6,174.2h2.6v1.3h-2.6zM182.0,184.6h1.3v1.3h-1.3zM171.6,184.6h3.9v1.3h-3.9zM187.2,200.2h1.3v3.9h-1.3zM178.1,166.4h1.3v1.3h-1.3zM184.6,188.5h1.3v3.9h-1.3zM205.4,176.8h3.9v2.6h-3.9zM200.2,188.5h1.3v1.3h-1.3zM175.5,179.4h3.9v2.6h-3.9zM200.2,182.0h3.9v3.9h-3.9zM148.2,189.8h1.3v1.3h-1.3zM189.8,200.2h2.6v3.9h-2.6zM175.5,187.2h1.3v3.9h-1.3zM153.4,198.9h3.9v1.3h-3.9zM174.2,192.4h2.6v1.3h-2.6zM196.3,189.8h3.9v1.3h-3.9zM184.6,198.9h3.9v3.9h-3.9zM204.1,182.0h3.9v1.3h-3.9zM156.0,205.4h2.6v3.9h-2.6zM169.0,166.4h1.3v1.3h-1.3zM170.3,201.5h1.3v1.3h-1.3zM210.6,178.1h1.3v3.9h-1.3zM170.3,197.6h2.6v2.6h-2.6zM163.8,201.5h2.6v1.3h-2.6zM200.2,308.1h2.6v1.3h-2.6zM204.1,288.6h1.3v1.3h-1.3zM201.5,286.0h2.6v2.6h-2.6zM201.5,293.8h1.3v2.6h-1.3zM209.3,302.9h3.9v2.6h-3.9zM211.9,297.7h1.3v1.3h-1.3zM213.2,299.0h1.3v1.3h-1.3zM284.7,236.6h1.3v1.3h-1.3zM301.6,232.7h2.6v3.9h-2.6zM301.6,224.9h1.3v1.3h-1.3zM302.9,224.9h1.3v3.9h-1.3zM308.1,237.9h1.3v1.3h-1.3zM309.4,224.9h3.9v2.6h-3.9zM309.4,232.7h2.6v1.3h-2.6zM309.4,224.9h2.6v2.6h-2.6zM302.9,286.0h2.6v1.3h-2.6zM315.9,269.1h2.6v3.9h-2.6zM300.3,270.4h1.3v3.9h-1.3zM304.2,270.4h1.3v2.6h-1.3zM296.4,286.0h1.3v1.3h-1.3zM313.3,265.2h1.3v1.3h-1.3zM315.9,266.5h1.3v3.9h-1.3zM300.3,271.7h2.6v2.6h-2.6zM313.3,273.0h3.9v2.6h-3.9zM296.4,279.5h2.6v1.3h-2.6zM308.1,280.8h2.6v2.6h-2.6zM322.4,227.5h2.6v1.3h-2.6zM323.7,235.3h1.3v2.6h-1.3zM319.8,226.2h1.3v3.9h-1.3zM322.4,235.3h3.9v2.6h-3.9zM292.5,265.2h2.6v1.3h-2.6zM305.5,278.2h1.3v1.3h-1.3zM297.7,299.0h1.3v1.3h-1.3zM300.3,297.7h1.3v1.3h-1.3zM297.7,295.1h2.6v3.9h-2.6zM328.9,276.9h2.6v1.3h-2.6zM327.6,273.0h1.3v1.3h-1.3zM326.3,282.1h1.3v2.6h-1.3zM283.4,180.7h2.6v1.3h-2.6zM312.0,179.4h3.9v2.6h-3.9zM282.1,184.6h1.3v3.9h-1.3zM278.2,184.6h1.3v2.6h-1.3zM287.3,188.5h1.3v1.3h-1.3zM295.1,165.1h1.3v1.3h-1.3zM300.3,176.8h2.6v2.6h-2.6zM291.2,187.2h1.3v2.6h-1.3zM322.4,172.9h2.6v1.3h-2.6zM278.2,172.9h2.6v2.6h-2.6zM292.5,175.5h1.3v1.3h-1.3zM312.0,178.1h3.9v3.9h-3.9zM304.2,180.7h2.6v1.3h-2.6zM287.3,169.0h3.9v2.6h-3.9zM283.4,183.3h3.9v2.6h-3.9zM291.2,166.4h2.6v2.6h-2.6zM304.2,178.1h3.9v3.9h-3.9zM305.5,170.3h2.6v2.6h-2.6zM291.2,184.6h2.6v1.3h-2.6zM291.2,167.7h2.6v1.3h-2.6zM301.6,182.0h1.3v1.3h-1.3zM295.1,179.4h2.6v3.9h-2.6zM274.3,165.1h1.3v1.3h-1.3zM274.3,169.0h2.6v1.3h-2.6zM310.7,176.8h2.6v1.3h-2.6zM295.1,175.5h2.6v1.3h-2.6zM341.9,171.6h2.6v2.6h-2.6zM353.6,176.8h2.6v2.6h-2.6zM332.8,169.0h2.6v1.3h-2.6zM332.8,165.1h2.6v1.3h-2.6zM348.4,171.6h1.3v2.6h-1.3zM347.1,166.4h3.9v2.6h-3.9zM323.7,204.1h3.9v2.6h-3.9zM325.0,210.6h1.3v2.6h-1.3zM322.4,214.5h1.3v3.9h-1.3zM325.0,214.5h2.6v1.3h-2.6zM347.1,192.4h3.9v2.6h-3.9zM353.6,204.1h2.6v2.6h-2.6zM347.1,197.6h2.6v2.6h-2.6zM344.5,201.5h1.3v2.6h-1.3zM352.3,192.4h2.6v1.3h-2.6zM354.9,208.0h3.9v1.3h-3.9zM358.8,210.6h1.3v2.6h-1.3zM351.0,193.7h2.6v3.9h-2.6zM334.1,204.1h2.6v2.6h-2.6zM352.3,183.3h1.3v3.9h-1.3zM358.8,208.0h2.6v1.3h-2.6zM373.1,208.0h1.3v2.6h-1.3zM364.0,202.8h1.3v2.6h-1.3zM370.5,217.1h2.6v2.6h-2.6zM421.2,183.3h2.6v3.9h-2.6zM396.5,185.9h2.6v2.6h-2.6zM396.5,201.5h2.6v3.9h-2.6zM400.4,189.8h1.3v3.9h-1.3zM383.5,204.1h2.6v1.3h-2.6zM384.8,209.3h2.6v2.6h-2.6zM382.2,210.6h2.6v3.9h-2.6zM393.9,187.2h2.6v1.3h-2.6zM406.9,184.6h2.6v2.6h-2.6zM386.1,211.9h2.6v2.6h-2.6zM390.0,175.5h2.6v2.6h-2.6zM379.6,189.8h2.6v3.9h-2.6zM388.7,187.2h2.6v1.3h-2.6zM280.8,192.4h1.3v2.6h-1.3zM284.7,192.4h3.9v2.6h-3.9zM270.4,196.3h2.6v1.3h-2.6zM267.8,224.9h1.3v2.6h-1.3zM301.6,234.0h2.6v1.3h-2.6zM301.6,228.8h2.6v2.6h-2.6zM305.5,231.4h2.6v2.6h-2.6zM310.7,228.8h1.3v2.6h-1.3zM314.6,223.6h1.3v3.9h-1.3zM309.4,239.2h2.6v2.6h-2.6zM312.0,236.6h2.6v2.6h-2.6zM315.9,230.1h3.9v2.6h-3.9zM319.8,232.7h2.6v3.9h-2.6zM321.1,230.1h2.6v2.6h-2.6zM382.2,218.4h2.6v1.3h-2.6zM422.5,301.6h1.3v2.6h-1.3zM387.4,223.6h3.9v1.3h-3.9z"/><path fill="#e23a1c" d="M188.5,193.7h2.6v2.6h-2.6zM172.9,170.3h1.3v1.3h-1.3zM175.5,196.3h2.6v1.3h-2.6zM171.6,172.9h2.6v2.6h-2.6zM166.4,218.4h1.3v2.6h-1.3zM191.1,191.1h2.6v2.6h-2.6zM152.1,189.8h1.3v2.6h-1.3zM175.5,169.0h2.6v2.6h-2.6zM176.8,184.6h2.6v1.3h-2.6zM165.1,210.6h2.6v1.3h-2.6zM169.0,170.3h2.6v1.3h-2.6zM184.6,183.3h1.3v1.3h-1.3zM158.6,215.8h1.3v1.3h-1.3zM161.2,182.0h1.3v1.3h-1.3zM191.1,237.9h2.6v1.3h-2.6zM191.1,265.2h1.3v3.9h-1.3zM187.2,258.7h3.9v1.3h-3.9zM187.2,258.7h2.6v3.9h-2.6zM215.8,286.0h1.3v1.3h-1.3zM221.0,287.3h1.3v2.6h-1.3zM213.2,292.5h3.9v2.6h-3.9zM215.8,278.2h2.6v3.9h-2.6zM309.4,234.0h1.3v3.9h-1.3zM313.3,250.9h1.3v3.9h-1.3zM300.3,267.8h3.9v1.3h-3.9zM295.1,275.6h2.6v2.6h-2.6zM295.1,283.4h2.6v2.6h-2.6zM305.5,263.9h1.3v1.3h-1.3zM306.8,270.4h2.6v2.6h-2.6zM305.5,271.7h1.3v2.6h-1.3zM300.3,161.2h3.9v2.6h-3.9zM299.0,180.7h1.3v2.6h-1.3zM269.1,179.4h2.6v1.3h-2.6zM293.8,183.3h1.3v1.3h-1.3zM287.3,188.5h2.6v1.3h-2.6zM288.6,169.0h1.3v2.6h-1.3zM274.3,189.8h1.3v3.9h-1.3zM323.7,184.6h3.9v3.9h-3.9zM319.8,202.8h2.6v1.3h-2.6zM364.0,205.4h2.6v2.6h-2.6zM374.4,209.3h2.6v1.3h-2.6zM418.6,183.3h1.3v2.6h-1.3zM422.5,189.8h2.6v2.6h-2.6zM391.3,196.3h1.3v1.3h-1.3zM391.3,188.5h1.3v1.3h-1.3zM431.6,305.5h2.6v3.9h-2.6z"/><path fill="#2aa62e" d="M179.4,195.0h1.3v2.6h-1.3zM195.0,185.9h1.3v2.6h-1.3zM174.2,178.1h3.9v2.6h-3.9zM185.9,247.0h2.6v2.6h-2.6zM189.8,263.9h2.6v3.9h-2.6zM209.3,283.4h1.3v1.3h-1.3zM213.2,287.3h2.6v1.3h-2.6zM205.4,301.6h1.3v2.6h-1.3zM319.8,245.7h3.9v3.9h-3.9zM319.8,263.9h1.3v1.3h-1.3zM299.0,261.3h3.9v1.3h-3.9zM297.7,161.2h2.6v1.3h-2.6zM273.0,187.2h3.9v1.3h-3.9zM321.1,176.8h3.9v1.3h-3.9zM267.8,187.2h3.9v2.6h-3.9zM283.4,175.5h2.6v1.3h-2.6zM348.4,174.2h3.9v1.3h-3.9zM325.0,187.2h1.3v1.3h-1.3zM345.8,200.2h1.3v1.3h-1.3zM349.7,193.7h3.9v1.3h-3.9zM361.4,209.3h3.9v1.3h-3.9zM417.3,191.1h1.3v1.3h-1.3zM395.2,184.6h2.6v1.3h-2.6zM395.2,184.6h1.3v2.6h-1.3zM409.5,295.1h2.6v3.9h-2.6z"/><path fill="#b3b3b3" d="M386.1,171.6h1.3v1.3h-1.3zM327.6,165.1h1.3v2.6h-1.3zM305.5,166.4h2.6v1.3h-2.6zM314.6,162.5h3.9v3.9h-3.9zM338.0,167.7h3.9v1.3h-3.9zM317.2,166.4h3.9v1.3h-3.9zM322.4,167.7h2.6v1.3h-2.6zM321.1,169.0h3.9v1.3h-3.9zM336.7,166.4h1.3v3.9h-1.3zM405.6,210.6h3.9v2.6h-3.9zM323.7,167.7h2.6v2.6h-2.6zM315.9,166.4h2.6v2.6h-2.6zM305.5,162.5h2.6v1.3h-2.6zM366.6,172.9h1.3v1.3h-1.3zM373.1,180.7h1.3v2.6h-1.3zM388.7,210.6h1.3v2.6h-1.3zM382.2,196.3h2.6v2.6h-2.6zM360.1,188.5h2.6v3.9h-2.6zM388.7,210.6h3.9v3.9h-3.9zM382.2,200.2h2.6v2.6h-2.6zM400.4,208.0h1.3v1.3h-1.3zM403.0,206.7h1.3v2.6h-1.3zM367.9,179.4h2.6v2.6h-2.6zM383.5,178.1h3.9v1.3h-3.9zM154.7,192.4h1.3v2.6h-1.3zM278.2,234.0h2.6v1.3h-2.6zM301.6,260.0h1.3v2.6h-1.3zM367.9,211.9h2.6v1.3h-2.6zM284.7,234.0h3.9v3.9h-3.9zM292.5,235.3h1.3v3.9h-1.3z"/></g><use href="#land" fill="none" stroke="#141414" stroke-width="0.7"/><use href="#lakes" fill="#fff" stroke="#141414" stroke-width="0.6"/><path d="M221.6,248.6L216.9,251.7L212.2,250.2L207.5,253.3L203.6,250.2L199.7,252.5L193.4,252.5M293.2,252.0L295.8,246.3L299.7,243.9L303.6,245.5M295.8,246.3L295.2,243.0" fill="none" stroke="#1a1a1a" stroke-width="0.6"/></g><use href="#frame" fill="none" stroke="#000" stroke-width="2"/></g><path d="M140.90,242.70A43.3,43.3 0 0 1 143.62,242.79L142.46,261.25A24.8,24.8 0 0 0 140.90,261.20Z" fill="#2aa62e" stroke="#7a8a7a" stroke-width="0.35"/><path d="M143.62,242.79A43.3,43.3 0 0 1 170.54,254.44L157.88,267.92A24.8,24.8 0 0 0 142.46,261.25Z" fill="#e23a1c" stroke="#7a8a7a" stroke-width="0.35"/><path d="M170.54,254.44A43.3,43.3 0 0 1 146.33,328.96L144.01,310.60A24.8,24.8 0 0 0 157.88,267.92Z" fill="#a9efbb" stroke="#7a8a7a" stroke-width="0.35"/><path d="M146.33,328.96A43.3,43.3 0 0 1 102.96,265.14L119.17,274.05A24.8,24.8 0 0 0 144.01,310.60Z" fill="#d9b92e" stroke="#7a8a7a" stroke-width="0.35"/><path d="M102.96,265.14A43.3,43.3 0 0 1 140.90,242.70L140.90,261.20A24.8,24.8 0 0 0 119.17,274.05Z" fill="#e4e4e4" stroke="#7a8a7a" stroke-width="0.35"/><circle cx="140.9" cy="286.0" r="24.8" fill="#fff" stroke="#888" stroke-width="0.5"/><circle cx="140.9" cy="286.0" r="43.3" fill="none" stroke="#888" stroke-width="0.5"/><path d="M562.30,242.70A43.3,43.3 0 0 1 567.73,243.04L565.41,261.40A24.8,24.8 0 0 0 562.30,261.20Z" fill="#2aa62e" stroke="#7a8a7a" stroke-width="0.35"/><path d="M567.73,243.04A43.3,43.3 0 0 1 573.07,244.06L568.47,261.98A24.8,24.8 0 0 0 565.41,261.40Z" fill="#e23a1c" stroke="#7a8a7a" stroke-width="0.35"/><path d="M573.07,244.06A43.3,43.3 0 0 1 603.48,299.38L585.89,293.66A24.8,24.8 0 0 0 568.47,261.98Z" fill="#a9efbb" stroke="#7a8a7a" stroke-width="0.35"/><path d="M603.48,299.38A43.3,43.3 0 1 1 543.86,246.82L551.74,263.56A24.8,24.8 0 1 0 585.89,293.66Z" fill="#d9b92e" stroke="#7a8a7a" stroke-width="0.35"/><path d="M543.86,246.82A43.3,43.3 0 0 1 562.30,242.70L562.30,261.20A24.8,24.8 0 0 0 551.74,263.56Z" fill="#e4e4e4" stroke="#7a8a7a" stroke-width="0.35"/><circle cx="562.3" cy="286.0" r="24.8" fill="#fff" stroke="#888" stroke-width="0.5"/><circle cx="562.3" cy="286.0" r="43.3" fill="none" stroke="#888" stroke-width="0.5"/><path d="M140.90,469.70A43.3,43.3 0 0 1 146.33,470.04L144.01,488.40A24.8,24.8 0 0 0 140.90,488.20Z" fill="#2aa62e" stroke="#7a8a7a" stroke-width="0.35"/><path d="M146.33,470.04A43.3,43.3 0 0 1 164.10,476.44L154.19,492.06A24.8,24.8 0 0 0 144.01,488.40Z" fill="#e23a1c" stroke="#7a8a7a" stroke-width="0.35"/><path d="M164.10,476.44A43.3,43.3 0 0 1 174.26,540.60L160.01,528.81A24.8,24.8 0 0 0 154.19,492.06Z" fill="#a9efbb" stroke="#7a8a7a" stroke-width="0.35"/><path d="M174.26,540.60A43.3,43.3 0 0 1 99.72,499.62L117.31,505.34A24.8,24.8 0 0 0 160.01,528.81Z" fill="#d9b92e" stroke="#7a8a7a" stroke-width="0.35"/><path d="M99.72,499.62A43.3,43.3 0 0 1 140.90,469.70L140.90,488.20A24.8,24.8 0 0 0 117.31,505.34Z" fill="#e4e4e4" stroke="#7a8a7a" stroke-width="0.35"/><circle cx="140.9" cy="513.0" r="24.8" fill="#fff" stroke="#888" stroke-width="0.5"/><circle cx="140.9" cy="513.0" r="43.3" fill="none" stroke="#888" stroke-width="0.5"/><path d="M562.30,469.70A43.3,43.3 0 0 1 567.73,470.04L565.41,488.40A24.8,24.8 0 0 0 562.30,488.20Z" fill="#2aa62e" stroke="#7a8a7a" stroke-width="0.35"/><path d="M567.73,470.04A43.3,43.3 0 0 1 597.33,487.55L582.36,498.42A24.8,24.8 0 0 0 565.41,488.40Z" fill="#e23a1c" stroke="#7a8a7a" stroke-width="0.35"/><path d="M597.33,487.55A43.3,43.3 0 0 1 595.66,540.60L581.41,528.81A24.8,24.8 0 0 0 582.36,498.42Z" fill="#a9efbb" stroke="#7a8a7a" stroke-width="0.35"/><path d="M595.66,540.60A43.3,43.3 0 0 1 520.36,502.23L538.28,506.83A24.8,24.8 0 0 0 581.41,528.81Z" fill="#d9b92e" stroke="#7a8a7a" stroke-width="0.35"/><path d="M520.36,502.23A43.3,43.3 0 0 1 562.30,469.70L562.30,488.20A24.8,24.8 0 0 0 538.28,506.83Z" fill="#e4e4e4" stroke="#7a8a7a" stroke-width="0.35"/><circle cx="562.3" cy="513.0" r="24.8" fill="#fff" stroke="#888" stroke-width="0.5"/><circle cx="562.3" cy="513.0" r="43.3" fill="none" stroke="#888" stroke-width="0.5"/><g fill="#1c1c1c"><text x="144.4" y="240.5" font-size="13.9" text-anchor="start">1%</text><text x="111.6" y="261.4" font-size="13.9" text-anchor="start">17%</text><text x="143.4" y="259.0" font-size="13.9" text-anchor="start">11%</text><text x="140.9" y="281.1" font-size="16" text-anchor="middle">136</text><text x="140.9" y="300.7" font-size="16" text-anchor="middle">Mha</text><text x="117.4" y="323.0" font-size="13.9" text-anchor="start">35%</text><text x="147.9" y="320.3" font-size="13.9" text-anchor="start">36%</text><text x="535.5" y="244.4" font-size="13.9" text-anchor="start">7%</text><text x="561.4" y="236.5" font-size="13.9" text-anchor="start">2%</text><text x="574.4" y="246.3" font-size="13.9" text-anchor="start">2%</text><text x="562.3" y="281.1" font-size="16" text-anchor="middle">73.9</text><text x="562.3" y="300.7" font-size="16" text-anchor="middle">Mha</text><text x="588.3" y="288.8" font-size="13.9" text-anchor="start">26%</text><text x="553.1" y="323.0" font-size="13.9" text-anchor="start">63%</text><text x="141.1" y="464.0" font-size="13.9" text-anchor="start">2%</text><text x="156.2" y="475.1" font-size="13.9" text-anchor="start">7%</text><text x="112.8" y="488.1" font-size="13.9" text-anchor="start">20%</text><text x="140.9" y="507.7" font-size="16" text-anchor="middle">150</text><text x="140.9" y="527.1" font-size="16" text-anchor="middle">Mha</text><text x="166.4" y="517.7" font-size="13.9" text-anchor="start">27%</text><text x="125.2" y="549.1" font-size="13.9" text-anchor="start">44%</text><text x="563.7" y="466.4" font-size="13.9" text-anchor="start">2%</text><text x="532.8" y="487.5" font-size="13.9" text-anchor="start">21%</text><text x="567.9" y="487.5" font-size="13.9" text-anchor="start">13%</text><text x="562.3" y="507.7" font-size="16" text-anchor="middle">209</text><text x="562.3" y="527.1" font-size="16" text-anchor="middle">Mha</text><text x="588.3" y="517.1" font-size="13.9" text-anchor="start">21%</text><text x="553.1" y="549.5" font-size="13.9" text-anchor="start">43%</text><text x="496" y="122.5" font-size="16.5" text-anchor="middle">La Niña minus neutral</text><text x="287.3" y="135.0" font-size="16.6" text-anchor="middle">Maize</text><text x="707.6" y="134.8" font-size="16.4" text-anchor="middle">Soybean</text><text x="287.5" y="367.5" font-size="13.8" text-anchor="middle">Rice</text><text x="707.5" y="367.5" font-size="13.8" text-anchor="middle">Wheat</text><rect x="81.4" y="586.4" width="16.4" height="15.6" fill="#2aa62e" stroke="#8a8a8a" stroke-width="0.5"/><text x="102.1" y="599.6" font-size="16.3" text-anchor="start">Significant-positive impacts</text><rect x="81.4" y="609.6" width="16.4" height="15.6" fill="#a9efbb" stroke="#8a8a8a" stroke-width="0.5"/><text x="102.1" y="622.7" font-size="16.3" text-anchor="start">Insignificant-positive impacts</text><rect x="375.9" y="586.4" width="16.4" height="15.6" fill="#e23a1c" stroke="#8a8a8a" stroke-width="0.5"/><text x="397.20000000000005" y="599.6" font-size="16.3" text-anchor="start">Significant-negative impacts</text><rect x="375.9" y="609.6" width="16.4" height="15.6" fill="#d9b92e" stroke="#8a8a8a" stroke-width="0.5"/><text x="397.20000000000005" y="622.7" font-size="16.3" text-anchor="start">Insignificant-negative impacts</text><rect x="670.4" y="586.4" width="16.4" height="15.6" fill="#e4e4e4" stroke="#8a8a8a" stroke-width="0.5"/><text x="691.4" y="599.6" font-size="16.3" text-anchor="start">No yield data are availale</text><rect x="670.4" y="609.6" width="16.4" height="15.6" fill="#b3b3b3" stroke="#8a8a8a" stroke-width="0.5"/><text x="691.4" y="622.7" font-size="16.3" text-anchor="start">Non-cropland</text></g><g fill="#fb2a1e"><path d="M31.7,222.9L128.4,198.7L124.5,181.1L172.0,191.2L135.6,223.5L130.9,207.3L34.1,231.3Z"/><path d="M98.0,355.2L170.2,320.0L163.0,305.0L211.2,304.4L183.1,343.5L174.1,328.8L101.5,363.6Z"/><path d="M529.7,369.5L587.5,325.9L578.1,311.6L626.6,303.0L603.5,346.8L593.4,332.7L535.2,376.7Z"/><path d="M336.3,505.8L365.5,470.3L352.2,458.8L396.0,439.2L385.5,486.0L372.0,475.5L342.9,511.0Z"/><path d="M763.1,471.8L822.3,495.5L827.9,479.8L861.2,515.8L810.3,520.5L818.6,503.8L759.4,479.8Z"/><path d="M597.0,429.9L644.7,436.4L619.7,472.4Z"/><path d="M735.2,407.7L691.8,428.4L726.0,453.9Z"/><path d="M632.1,454.3L673.9,482.8L709.0,441.0" fill="none" stroke="#fb2a1e" stroke-width="9.2" stroke-linejoin="miter" stroke-miterlimit="10"/></g></svg>
<div id="cap">The 5-year running mean method is used to calculate normalized yield, the significance level of the difference in</div>
</body></html>
